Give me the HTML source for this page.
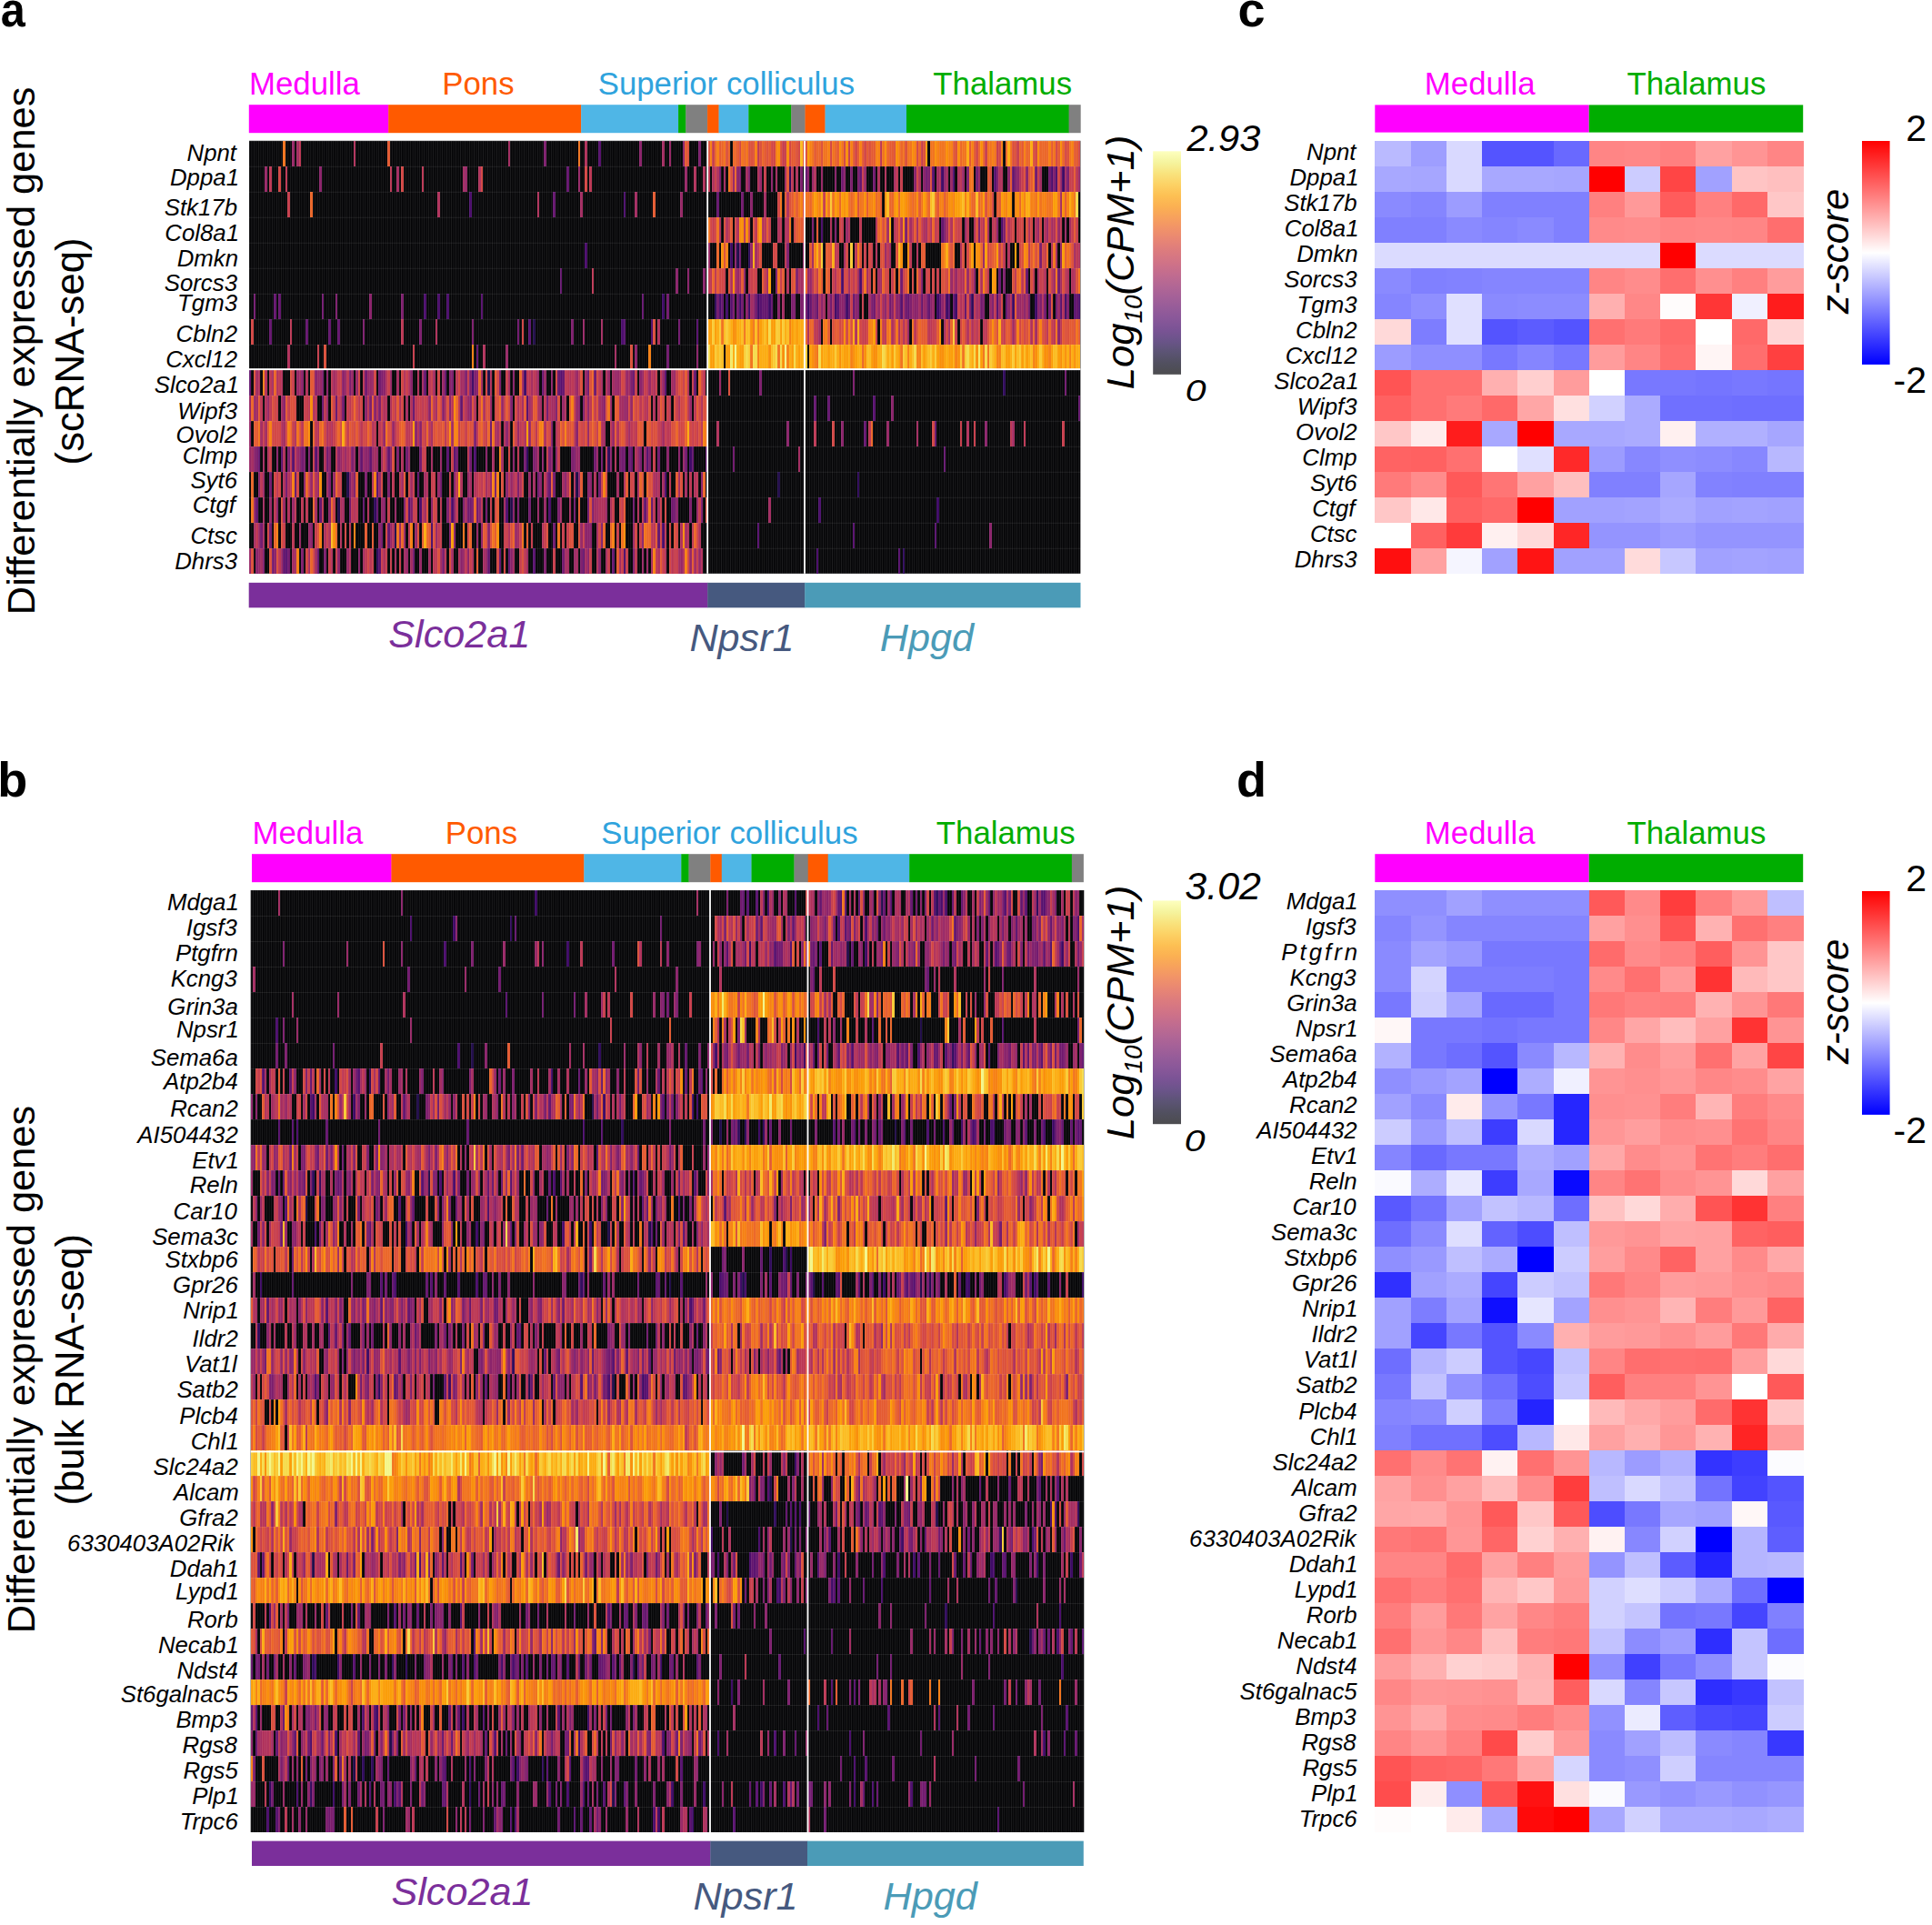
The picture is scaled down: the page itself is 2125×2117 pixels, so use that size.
<!DOCTYPE html>
<html lang="en"><head><meta charset="utf-8"><title>Differentially expressed genes heatmaps</title>
<style>html,body{margin:0;padding:0;background:#fff}svg{display:block}text{font-family:'Liberation Sans', Arial, Helvetica, sans-serif}</style></head><body>
<svg width="2125" height="2117" viewBox="0 0 2125 2117">
<defs>
<linearGradient id="ginf" x1="0" y1="0" x2="0" y2="1"><stop offset="0.00" stop-color="#fcffa4"/><stop offset="0.05" stop-color="#f1ef75"/><stop offset="0.10" stop-color="#f6d746"/><stop offset="0.15" stop-color="#fbbe23"/><stop offset="0.20" stop-color="#fca50a"/><stop offset="0.25" stop-color="#f98e09"/><stop offset="0.30" stop-color="#f37819"/><stop offset="0.35" stop-color="#ea632a"/><stop offset="0.40" stop-color="#dd513a"/><stop offset="0.45" stop-color="#cc4248"/><stop offset="0.50" stop-color="#bc3754"/><stop offset="0.55" stop-color="#a82e5f"/><stop offset="0.60" stop-color="#932667"/><stop offset="0.65" stop-color="#7f1e6c"/><stop offset="0.70" stop-color="#6a176e"/><stop offset="0.75" stop-color="#57106e"/><stop offset="0.80" stop-color="#420a68"/><stop offset="0.85" stop-color="#2b0b57"/><stop offset="0.90" stop-color="#160b39"/><stop offset="0.95" stop-color="#07051b"/><stop offset="1.00" stop-color="#000004"/></linearGradient>
<linearGradient id="gbwr" x1="0" y1="0" x2="0" y2="1"><stop offset="0" stop-color="#ff0000"/><stop offset="0.5" stop-color="#ffffff"/><stop offset="1" stop-color="#0000ff"/></linearGradient>
</defs>
<rect width="2125" height="2117" fill="#fff"/>
<text transform="translate(0.8,29) scale(0.9,1)" font-size="54" font-weight="bold">a</text>
<text x="-2.7" y="876" font-size="54" fill="#000" text-anchor="start" font-style="normal" font-weight="bold">b</text>
<text x="1361.4" y="29" font-size="54" fill="#000" text-anchor="start" font-style="normal" font-weight="bold">c</text>
<text x="1360.1" y="876" font-size="54" fill="#000" text-anchor="start" font-style="normal" font-weight="bold">d</text>
<text transform="translate(37.8,385.9) rotate(-90)" font-size="43.4" fill="#000" text-anchor="middle" font-style="normal">Differentially expressed genes</text>
<text transform="translate(91.8,386.4) rotate(-90)" font-size="43.7" fill="#000" text-anchor="middle" font-style="normal">(scRNA-seq)</text>
<rect x="273.80" y="115.2" width="153.73" height="31" fill="#ff00ff"/>
<rect x="427.23" y="115.2" width="212.21" height="31" fill="#ff5a00"/>
<rect x="639.14" y="115.2" width="107.25" height="31" fill="#4fb6e6"/>
<rect x="746.09" y="115.2" width="8.55" height="31" fill="#00ad00"/>
<rect x="754.34" y="115.2" width="24.04" height="31" fill="#808080"/>
<rect x="778.08" y="115.2" width="12.79" height="31" fill="#ff5a00"/>
<rect x="790.57" y="115.2" width="33.04" height="31" fill="#4fb6e6"/>
<rect x="823.31" y="115.2" width="47.28" height="31" fill="#00ad00"/>
<rect x="870.29" y="115.2" width="15.54" height="31" fill="#808080"/>
<rect x="885.53" y="115.2" width="22.29" height="31" fill="#ff5a00"/>
<rect x="907.52" y="115.2" width="89.76" height="31" fill="#4fb6e6"/>
<rect x="996.98" y="115.2" width="178.97" height="31" fill="#00ad00"/>
<rect x="1175.66" y="115.2" width="13.04" height="31" fill="#808080"/>
<text x="274" y="103.8" font-size="34.8" fill="#ff00ff" text-anchor="start" font-style="normal" font-weight="normal">Medulla</text>
<text x="486.3" y="103.8" font-size="34.8" fill="#ff5a00" text-anchor="start" font-style="normal" font-weight="normal">Pons</text>
<text x="657.7" y="103.8" font-size="34.8" fill="#2fa3dd" text-anchor="start" font-style="normal" font-weight="normal">Superior colliculus</text>
<text x="1026.3" y="103.8" font-size="34.8" fill="#00ad00" text-anchor="start" font-style="normal" font-weight="normal">Thalamus</text>
<g id="ha">
<rect x="274.0" y="154.8" width="914.40" height="476.00" fill="#060608"/>
<g transform="translate(274.0,154.8) scale(2.49604,28.0)" shape-rendering="crispEdges">
<path fill="#210c4a" d="M125 7h1v1h-1zM105 9h1v1h-1zM43 13h1v1h-1zM144 13h1v1h-1zM39 14h1v1h-1zM115 14h1v1h-1zM64 15h1v1h-1z"/>
<path fill="#2f0a5b" d="M122 12h1v1h-1zM158 12h1v1h-1zM55 14h1v1h-1zM56 16h1v1h-1z"/>
<path fill="#3d0965" d="M182 6h1v1h-1zM98 9h1v1h-1zM121 9h1v1h-1zM194 12h1v1h-1z"/>
<path fill="#4a0c6b" d="M97 2h1v1h-1zM165 2h1v1h-1zM148 4h1v1h-1zM77 6h1v1h-1zM83 6h1v1h-1zM87 6h1v1h-1zM164 7h1v1h-1zM177 7h1v1h-1zM99 12h1v1h-1zM183 13h1v1h-1zM75 14h1v1h-1zM89 14h1v1h-1zM113 14h1v1h-1zM132 14h1v1h-1zM80 15h1v1h-1zM182 15h1v1h-1zM165 16h1v1h-1z"/>
<path fill="#57106e" d="M154 0h1v1h-1zM102 6h1v1h-1zM123 7h1v1h-1zM165 7h1v1h-1zM197 7h1v1h-1zM137 9h1v1h-1zM183 9h1v1h-1zM122 10h1v1h-1zM14 12h1v1h-1zM19 12h1v1h-1zM29 12h1v1h-1zM87 12h1v1h-1zM90 12h1v1h-1zM175 12h1v1h-1zM56 13h1v1h-1zM70 14h1v1h-1zM16 16h1v1h-1zM57 16h1v1h-1zM125 16h1v1h-1z"/>
<path fill="#64156e" d="M140 1h1v1h-1zM134 2h1v1h-1zM137 5h1v1h-1zM11 6h1v1h-1zM13 6h1v1h-1zM173 6h1v1h-1zM9 7h1v1h-1zM25 7h1v1h-1zM35 7h1v1h-1zM39 7h1v1h-1zM100 8h1v1h-1zM0 9h1v1h-1zM77 9h1v1h-1zM86 9h1v1h-1zM129 9h1v1h-1zM136 9h1v1h-1zM138 9h1v1h-1zM169 9h1v1h-1zM196 9h1v1h-1zM32 10h1v1h-1zM38 10h1v1h-1zM72 10h1v1h-1zM93 10h1v1h-1zM4 12h1v1h-1zM49 12h1v1h-1zM53 12h1v1h-1zM61 12h1v1h-1zM168 12h1v1h-1zM195 12h1v1h-1zM201 12h1v1h-1zM20 13h1v1h-1zM74 13h1v1h-1zM132 13h1v1h-1zM3 14h1v1h-1zM31 14h1v1h-1zM50 14h1v1h-1zM56 14h1v1h-1zM174 14h1v1h-1zM177 14h1v1h-1zM61 15h1v1h-1zM180 15h1v1h-1zM15 16h1v1h-1zM30 16h1v1h-1zM105 16h1v1h-1zM110 16h1v1h-1zM114 16h1v1h-1zM147 16h1v1h-1zM160 16h1v1h-1z"/>
<path fill="#71196e" d="M2 6h1v1h-1zM32 6h1v1h-1zM184 6h1v1h-1zM118 7h1v1h-1zM189 7h1v1h-1zM184 8h1v1h-1zM51 9h1v1h-1zM57 9h1v1h-1zM149 9h1v1h-1zM152 9h1v1h-1zM41 10h1v1h-1zM131 10h1v1h-1zM106 11h1v1h-1zM23 12h1v1h-1zM34 12h1v1h-1zM69 12h1v1h-1zM75 12h1v1h-1zM91 12h1v1h-1zM97 12h1v1h-1zM121 12h1v1h-1zM152 12h1v1h-1zM155 12h1v1h-1zM164 12h2v1h-2zM167 12h1v1h-1zM180 12h1v1h-1zM192 12h1v1h-1zM9 13h1v1h-1zM16 13h1v1h-1zM84 13h1v1h-1zM127 13h1v1h-1zM134 13h1v1h-1zM154 13h1v1h-1zM44 14h1v1h-1zM96 14h2v1h-2zM100 14h1v1h-1zM104 14h1v1h-1zM123 14h1v1h-1zM143 14h1v1h-1zM149 14h1v1h-1zM169 14h1v1h-1zM186 14h2v1h-2zM5 15h1v1h-1zM9 15h1v1h-1zM58 15h1v1h-1zM134 15h1v1h-1zM10 16h1v1h-1zM17 16h1v1h-1zM72 16h1v1h-1zM138 16h1v1h-1z"/>
<path fill="#7d1e6d" d="M130 0h1v1h-1zM198 0h1v1h-1zM38 6h1v1h-1zM67 6h1v1h-1zM50 7h1v1h-1zM75 7h1v1h-1zM98 7h1v1h-1zM142 7h1v1h-1zM32 9h1v1h-1zM44 9h1v1h-1zM58 9h1v1h-1zM89 9h1v1h-1zM95 9h1v1h-1zM97 9h1v1h-1zM99 9h1v1h-1zM110 9h1v1h-1zM168 9h1v1h-1zM53 10h1v1h-1zM57 10h1v1h-1zM115 10h1v1h-1zM135 10h1v1h-1zM147 10h1v1h-1zM99 11h1v1h-1zM133 11h1v1h-1zM3 12h1v1h-1zM17 12h1v1h-1zM24 12h1v1h-1zM26 12h1v1h-1zM45 12h1v1h-1zM65 12h1v1h-1zM125 12h1v1h-1zM132 12h1v1h-1zM142 12h2v1h-2zM163 12h1v1h-1zM172 12h1v1h-1zM176 12h1v1h-1zM35 13h1v1h-1zM44 13h1v1h-1zM46 13h1v1h-1zM51 13h1v1h-1zM61 13h1v1h-1zM108 13h1v1h-1zM118 13h1v1h-1zM68 14h1v1h-1zM71 14h1v1h-1zM87 14h1v1h-1zM94 14h1v1h-1zM98 14h1v1h-1zM118 14h1v1h-1zM136 14h1v1h-1zM151 14h1v1h-1zM194 14h1v1h-1zM199 14h1v1h-1zM88 15h1v1h-1zM155 15h1v1h-1zM6 16h1v1h-1zM23 16h1v1h-1zM33 16h1v1h-1zM85 16h1v1h-1zM130 16h1v1h-1zM146 16h1v1h-1zM169 16h1v1h-1z"/>
<path fill="#8a226a" d="M172 0h1v1h-1zM191 0h1v1h-1zM31 1h1v1h-1zM188 5h1v1h-1zM193 5h1v1h-1zM200 5h1v1h-1zM53 6h1v1h-1zM170 8h1v1h-1zM197 8h1v1h-1zM23 9h1v1h-1zM29 9h1v1h-1zM34 9h1v1h-1zM41 9h1v1h-1zM59 9h1v1h-1zM71 9h1v1h-1zM88 9h1v1h-1zM100 9h1v1h-1zM116 9h1v1h-1zM133 9h1v1h-1zM172 9h1v1h-1zM15 10h1v1h-1zM51 10h1v1h-1zM55 10h1v1h-1zM79 10h1v1h-1zM85 10h1v1h-1zM88 10h1v1h-1zM97 10h1v1h-1zM145 10h1v1h-1zM149 10h1v1h-1zM156 10h1v1h-1zM73 11h1v1h-1zM75 11h1v1h-1zM113 11h1v1h-1zM144 11h1v1h-1zM2 12h1v1h-1zM12 12h1v1h-1zM22 12h1v1h-1zM35 12h1v1h-1zM39 12h1v1h-1zM51 12h2v1h-2zM62 12h1v1h-1zM104 12h1v1h-1zM116 12h1v1h-1zM126 12h1v1h-1zM129 12h1v1h-1zM133 12h1v1h-1zM135 12h1v1h-1zM159 12h1v1h-1zM184 12h1v1h-1zM189 12h1v1h-1zM4 13h1v1h-1zM24 13h1v1h-1zM90 13h1v1h-1zM113 13h1v1h-1zM128 13h1v1h-1zM131 13h1v1h-1zM139 13h1v1h-1zM145 13h1v1h-1zM149 13h2v1h-2zM199 13h1v1h-1zM12 14h1v1h-1zM35 14h1v1h-1zM59 14h1v1h-1zM80 14h1v1h-1zM90 14h1v1h-1zM101 14h1v1h-1zM116 14h1v1h-1zM188 14h1v1h-1zM27 15h1v1h-1zM57 15h1v1h-1zM90 15h1v1h-1zM102 15h1v1h-1zM105 15h1v1h-1zM148 15h3v1h-3zM173 15h1v1h-1zM3 16h1v1h-1zM11 16h1v1h-1zM39 16h1v1h-1zM48 16h1v1h-1zM93 16h1v1h-1zM96 16h1v1h-1zM115 16h1v1h-1zM149 16h1v1h-1zM154 16h1v1h-1z"/>
<path fill="#972766" d="M19 0h1v1h-1zM185 0h1v1h-1zM7 1h1v1h-1zM95 1h1v1h-1zM145 1h1v1h-1zM192 1h1v1h-1zM190 2h1v1h-1zM147 7h1v1h-1zM113 8h1v1h-1zM21 9h1v1h-1zM30 9h2v1h-2zM42 9h1v1h-1zM45 9h1v1h-1zM47 9h1v1h-1zM52 9h3v1h-3zM62 9h1v1h-1zM85 9h1v1h-1zM127 9h1v1h-1zM130 9h1v1h-1zM144 9h1v1h-1zM148 9h1v1h-1zM158 9h1v1h-1zM161 9h2v1h-2zM166 9h1v1h-1zM173 9h1v1h-1zM176 9h1v1h-1zM182 9h1v1h-1zM187 9h1v1h-1zM0 10h1v1h-1zM2 10h1v1h-1zM8 10h1v1h-1zM34 10h1v1h-1zM96 10h1v1h-1zM106 10h1v1h-1zM111 10h1v1h-1zM138 10h1v1h-1zM144 10h1v1h-1zM155 10h1v1h-1zM159 10h1v1h-1zM165 10h2v1h-2zM168 10h1v1h-1zM194 10h1v1h-1zM0 11h1v1h-1zM59 11h1v1h-1zM63 11h1v1h-1zM118 11h1v1h-1zM123 11h1v1h-1zM149 11h1v1h-1zM160 11h1v1h-1zM0 12h1v1h-1zM21 12h1v1h-1zM30 12h1v1h-1zM40 12h1v1h-1zM42 12h1v1h-1zM46 12h1v1h-1zM48 12h1v1h-1zM50 12h1v1h-1zM54 12h1v1h-1zM56 12h1v1h-1zM70 12h1v1h-1zM84 12h1v1h-1zM144 12h2v1h-2zM153 12h1v1h-1zM171 12h1v1h-1zM174 12h1v1h-1zM191 12h1v1h-1zM6 13h1v1h-1zM27 13h1v1h-1zM30 13h1v1h-1zM37 13h1v1h-1zM57 13h1v1h-1zM83 13h1v1h-1zM96 13h1v1h-1zM106 13h1v1h-1zM115 13h1v1h-1zM123 13h1v1h-1zM2 14h1v1h-1zM9 14h1v1h-1zM15 14h1v1h-1zM19 14h1v1h-1zM58 14h1v1h-1zM64 14h1v1h-1zM127 14h1v1h-1zM130 14h1v1h-1zM157 14h1v1h-1zM180 14h1v1h-1zM197 14h1v1h-1zM4 15h1v1h-1zM22 15h1v1h-1zM26 15h1v1h-1zM62 15h1v1h-1zM66 15h1v1h-1zM68 15h1v1h-1zM73 15h1v1h-1zM82 15h1v1h-1zM100 15h1v1h-1zM117 15h1v1h-1zM146 15h1v1h-1zM169 15h1v1h-1zM0 16h1v1h-1zM4 16h1v1h-1zM14 16h1v1h-1zM43 16h1v1h-1zM69 16h1v1h-1zM75 16h1v1h-1zM94 16h1v1h-1zM104 16h1v1h-1zM143 16h1v1h-1zM173 16h1v1h-1zM175 16h1v1h-1zM190 16h1v1h-1zM194 16h1v1h-1zM198 16h1v1h-1z"/>
<path fill="#a32c61" d="M21 0h1v1h-1zM114 0h1v1h-1zM182 0h1v1h-1zM65 1h1v1h-1zM94 1h1v1h-1zM146 2h1v1h-1zM170 2h1v1h-1zM155 7h1v1h-1zM161 8h1v1h-1zM3 9h1v1h-1zM10 9h1v1h-1zM22 9h1v1h-1zM37 9h1v1h-1zM65 9h1v1h-1zM76 9h1v1h-1zM81 9h1v1h-1zM93 9h2v1h-2zM102 9h1v1h-1zM114 9h1v1h-1zM120 9h1v1h-1zM124 9h1v1h-1zM155 9h1v1h-1zM160 9h1v1h-1zM163 9h1v1h-1zM167 9h1v1h-1zM186 9h1v1h-1zM3 10h1v1h-1zM14 10h1v1h-1zM69 10h1v1h-1zM82 10h1v1h-1zM120 10h1v1h-1zM123 10h1v1h-1zM128 10h1v1h-1zM133 10h2v1h-2zM154 10h1v1h-1zM163 10h2v1h-2zM5 11h1v1h-1zM7 11h1v1h-1zM15 11h1v1h-1zM80 11h1v1h-1zM89 11h1v1h-1zM109 11h1v1h-1zM156 11h1v1h-1zM167 11h1v1h-1zM182 11h1v1h-1zM1 12h1v1h-1zM6 12h1v1h-1zM55 12h1v1h-1zM58 12h1v1h-1zM60 12h1v1h-1zM80 12h1v1h-1zM107 12h1v1h-1zM111 12h1v1h-1zM127 12h1v1h-1zM34 13h1v1h-1zM45 13h1v1h-1zM67 13h1v1h-1zM71 13h1v1h-1zM77 13h1v1h-1zM97 13h1v1h-1zM104 13h1v1h-1zM125 13h1v1h-1zM138 13h1v1h-1zM162 13h1v1h-1zM171 13h1v1h-1zM179 13h1v1h-1zM182 13h1v1h-1zM189 13h1v1h-1zM192 13h1v1h-1zM6 14h1v1h-1zM29 14h1v1h-1zM41 14h1v1h-1zM77 14h1v1h-1zM95 14h1v1h-1zM112 14h1v1h-1zM137 14h1v1h-1zM141 14h1v1h-1zM152 14h2v1h-2zM175 14h1v1h-1zM2 15h1v1h-1zM6 15h1v1h-1zM118 15h1v1h-1zM153 15h1v1h-1zM192 15h1v1h-1zM5 16h1v1h-1zM19 16h2v1h-2zM26 16h1v1h-1zM29 16h1v1h-1zM50 16h1v1h-1zM64 16h1v1h-1zM68 16h1v1h-1zM71 16h1v1h-1zM79 16h1v1h-1zM84 16h1v1h-1zM89 16h1v1h-1zM103 16h1v1h-1zM116 16h1v1h-1zM122 16h1v1h-1zM139 16h2v1h-2zM144 16h1v1h-1zM148 16h1v1h-1zM157 16h1v1h-1zM163 16h1v1h-1zM177 16h1v1h-1zM189 16h1v1h-1zM196 16h1v1h-1z"/>
<path fill="#b0315b" d="M46 0h1v1h-1zM148 0h1v1h-1zM101 1h1v1h-1zM196 1h1v1h-1zM200 1h1v1h-1zM83 2h1v1h-1zM127 2h1v1h-1zM82 7h1v1h-1zM180 7h1v1h-1zM17 8h1v1h-1zM103 8h1v1h-1zM4 9h1v1h-1zM7 9h1v1h-1zM12 9h1v1h-1zM14 9h1v1h-1zM25 9h1v1h-1zM38 9h1v1h-1zM60 9h1v1h-1zM68 9h1v1h-1zM70 9h1v1h-1zM74 9h1v1h-1zM106 9h1v1h-1zM126 9h1v1h-1zM141 9h1v1h-1zM143 9h1v1h-1zM157 9h1v1h-1zM178 9h1v1h-1zM193 9h1v1h-1zM7 10h1v1h-1zM28 10h1v1h-1zM40 10h1v1h-1zM56 10h1v1h-1zM59 10h2v1h-2zM62 10h1v1h-1zM66 10h1v1h-1zM71 10h1v1h-1zM86 10h1v1h-1zM95 10h1v1h-1zM99 10h1v1h-1zM103 10h1v1h-1zM118 10h1v1h-1zM124 10h1v1h-1zM127 10h1v1h-1zM132 10h1v1h-1zM139 10h1v1h-1zM175 10h1v1h-1zM178 10h1v1h-1zM189 10h1v1h-1zM199 10h1v1h-1zM14 11h1v1h-1zM20 11h1v1h-1zM30 11h1v1h-1zM34 11h1v1h-1zM36 11h1v1h-1zM54 11h1v1h-1zM74 11h1v1h-1zM108 11h1v1h-1zM112 11h1v1h-1zM121 11h1v1h-1zM130 11h1v1h-1zM135 11h1v1h-1zM155 11h1v1h-1zM162 11h1v1h-1zM8 12h1v1h-1zM15 12h1v1h-1zM33 12h1v1h-1zM41 12h1v1h-1zM43 12h1v1h-1zM67 12h1v1h-1zM161 12h1v1h-1zM170 12h1v1h-1zM15 13h1v1h-1zM17 13h1v1h-1zM29 13h1v1h-1zM54 13h1v1h-1zM78 13h1v1h-1zM93 13h1v1h-1zM99 13h1v1h-1zM116 13h1v1h-1zM119 13h1v1h-1zM140 13h1v1h-1zM143 13h1v1h-1zM152 13h1v1h-1zM165 13h1v1h-1zM178 13h1v1h-1zM180 13h1v1h-1zM196 13h1v1h-1zM17 14h1v1h-1zM40 14h1v1h-1zM46 14h1v1h-1zM52 14h1v1h-1zM154 14h3v1h-3zM159 14h1v1h-1zM171 14h1v1h-1zM33 15h1v1h-1zM35 15h1v1h-1zM40 15h1v1h-1zM63 15h1v1h-1zM114 15h1v1h-1zM129 15h1v1h-1zM190 15h1v1h-1zM193 15h1v1h-1zM198 15h1v1h-1zM36 16h1v1h-1zM44 16h1v1h-1zM59 16h1v1h-1zM92 16h1v1h-1zM98 16h1v1h-1zM153 16h1v1h-1zM180 16h1v1h-1zM183 16h1v1h-1zM191 16h1v1h-1zM199 16h1v1h-1z"/>
<path fill="#bc3754" d="M22 0h1v1h-1zM9 1h1v1h-1zM16 1h1v1h-1zM62 1h1v1h-1zM76 1h1v1h-1zM150 1h1v1h-1zM151 5h1v1h-1zM18 7h1v1h-1zM67 7h1v1h-1zM9 9h1v1h-1zM13 9h1v1h-1zM36 9h1v1h-1zM43 9h1v1h-1zM50 9h1v1h-1zM79 9h1v1h-1zM91 9h1v1h-1zM122 9h2v1h-2zM125 9h1v1h-1zM139 9h2v1h-2zM142 9h1v1h-1zM145 9h1v1h-1zM154 9h1v1h-1zM175 9h1v1h-1zM177 9h1v1h-1zM181 9h1v1h-1zM200 9h1v1h-1zM5 10h1v1h-1zM9 10h1v1h-1zM26 10h1v1h-1zM29 10h1v1h-1zM33 10h1v1h-1zM44 10h1v1h-1zM48 10h1v1h-1zM52 10h1v1h-1zM64 10h1v1h-1zM73 10h1v1h-1zM76 10h1v1h-1zM78 10h1v1h-1zM81 10h1v1h-1zM89 10h1v1h-1zM92 10h1v1h-1zM130 10h1v1h-1zM148 10h1v1h-1zM150 10h1v1h-1zM172 10h1v1h-1zM174 10h1v1h-1zM180 10h1v1h-1zM185 10h1v1h-1zM193 10h1v1h-1zM196 10h1v1h-1zM23 11h1v1h-1zM29 11h1v1h-1zM35 11h1v1h-1zM49 11h1v1h-1zM55 11h1v1h-1zM57 11h1v1h-1zM64 11h1v1h-1zM69 11h2v1h-2zM79 11h1v1h-1zM86 11h1v1h-1zM100 11h1v1h-1zM114 11h1v1h-1zM119 11h1v1h-1zM126 11h1v1h-1zM143 11h1v1h-1zM159 11h1v1h-1zM166 11h1v1h-1zM168 11h1v1h-1zM170 11h1v1h-1zM181 11h1v1h-1zM184 11h2v1h-2zM199 11h1v1h-1zM18 12h1v1h-1zM20 12h1v1h-1zM38 12h1v1h-1zM44 12h1v1h-1zM96 12h1v1h-1zM118 12h1v1h-1zM157 12h1v1h-1zM5 13h1v1h-1zM12 13h1v1h-1zM18 13h1v1h-1zM63 13h1v1h-1zM66 13h1v1h-1zM91 13h1v1h-1zM100 13h1v1h-1zM102 13h1v1h-1zM105 13h1v1h-1zM114 13h1v1h-1zM117 13h1v1h-1zM130 13h1v1h-1zM185 13h1v1h-1zM194 13h1v1h-1zM197 13h1v1h-1zM11 14h1v1h-1zM20 14h1v1h-1zM23 14h1v1h-1zM25 14h1v1h-1zM32 14h1v1h-1zM45 14h1v1h-1zM47 14h1v1h-1zM76 14h1v1h-1zM84 14h1v1h-1zM88 14h1v1h-1zM91 14h1v1h-1zM102 14h1v1h-1zM173 14h1v1h-1zM178 14h1v1h-1zM3 15h1v1h-1zM19 15h1v1h-1zM44 15h1v1h-1zM70 15h1v1h-1zM83 15h1v1h-1zM177 15h2v1h-2zM183 15h1v1h-1zM195 15h1v1h-1zM13 16h1v1h-1zM51 16h1v1h-1zM53 16h1v1h-1zM81 16h2v1h-2zM86 16h1v1h-1zM95 16h1v1h-1zM121 16h1v1h-1zM170 16h1v1h-1zM179 16h1v1h-1zM186 16h1v1h-1z"/>
<path fill="#c73e4c" d="M17 2h1v1h-1zM30 8h1v1h-1zM72 8h1v1h-1zM19 9h1v1h-1zM39 9h2v1h-2zM61 9h1v1h-1zM69 9h1v1h-1zM80 9h1v1h-1zM96 9h1v1h-1zM113 9h1v1h-1zM165 9h1v1h-1zM170 9h1v1h-1zM174 9h1v1h-1zM179 9h1v1h-1zM188 9h1v1h-1zM191 9h1v1h-1zM195 9h1v1h-1zM12 10h1v1h-1zM17 10h1v1h-1zM24 10h2v1h-2zM37 10h1v1h-1zM39 10h1v1h-1zM43 10h1v1h-1zM58 10h1v1h-1zM74 10h2v1h-2zM77 10h1v1h-1zM94 10h1v1h-1zM112 10h1v1h-1zM119 10h1v1h-1zM143 10h1v1h-1zM152 10h1v1h-1zM184 10h1v1h-1zM188 10h1v1h-1zM6 11h1v1h-1zM19 11h1v1h-1zM37 11h1v1h-1zM43 11h1v1h-1zM58 11h1v1h-1zM71 11h1v1h-1zM77 11h1v1h-1zM92 11h1v1h-1zM95 11h1v1h-1zM104 11h1v1h-1zM110 11h1v1h-1zM117 11h1v1h-1zM120 11h1v1h-1zM136 11h1v1h-1zM147 11h1v1h-1zM153 11h1v1h-1zM169 11h1v1h-1zM180 11h1v1h-1zM183 11h1v1h-1zM195 11h1v1h-1zM197 11h1v1h-1zM9 12h1v1h-1zM28 12h1v1h-1zM59 12h1v1h-1zM76 12h2v1h-2zM89 12h1v1h-1zM131 12h1v1h-1zM136 12h1v1h-1zM178 12h1v1h-1zM26 13h1v1h-1zM40 13h1v1h-1zM72 13h1v1h-1zM80 13h2v1h-2zM88 13h1v1h-1zM101 13h1v1h-1zM155 13h1v1h-1zM169 13h1v1h-1zM37 14h1v1h-1zM61 14h1v1h-1zM72 14h2v1h-2zM82 14h1v1h-1zM106 14h1v1h-1zM160 14h1v1h-1zM164 14h1v1h-1zM181 14h1v1h-1zM198 14h1v1h-1zM15 15h1v1h-1zM29 15h1v1h-1zM34 15h1v1h-1zM84 15h1v1h-1zM112 15h2v1h-2zM119 15h1v1h-1zM124 15h1v1h-1zM130 15h1v1h-1zM138 15h1v1h-1zM140 15h1v1h-1zM147 15h1v1h-1zM162 15h1v1h-1zM172 15h1v1h-1zM35 16h1v1h-1zM38 16h1v1h-1zM54 16h1v1h-1zM58 16h1v1h-1zM60 16h1v1h-1zM62 16h1v1h-1zM66 16h1v1h-1zM97 16h1v1h-1zM119 16h1v1h-1zM134 16h1v1h-1zM150 16h1v1h-1zM158 16h1v1h-1zM164 16h1v1h-1zM166 16h1v1h-1zM182 16h1v1h-1zM187 16h2v1h-2zM197 16h1v1h-1z"/>
<path fill="#d24644" d="M13 1h1v1h-1zM67 1h1v1h-1zM102 1h1v1h-1zM148 1h1v1h-1zM1 7h1v1h-1zM120 7h1v1h-1zM48 9h1v1h-1zM55 9h1v1h-1zM67 9h1v1h-1zM83 9h1v1h-1zM92 9h1v1h-1zM104 9h1v1h-1zM109 9h1v1h-1zM135 9h1v1h-1zM153 9h1v1h-1zM164 9h1v1h-1zM199 9h1v1h-1zM11 10h1v1h-1zM20 10h1v1h-1zM45 10h1v1h-1zM47 10h1v1h-1zM49 10h1v1h-1zM63 10h1v1h-1zM67 10h1v1h-1zM84 10h1v1h-1zM101 10h1v1h-1zM108 10h1v1h-1zM114 10h1v1h-1zM117 10h1v1h-1zM167 10h1v1h-1zM170 10h1v1h-1zM173 10h1v1h-1zM182 10h1v1h-1zM190 10h2v1h-2zM198 10h1v1h-1zM10 11h4v1h-4zM16 11h1v1h-1zM33 11h1v1h-1zM40 11h1v1h-1zM46 11h1v1h-1zM48 11h1v1h-1zM50 11h2v1h-2zM62 11h1v1h-1zM65 11h1v1h-1zM76 11h1v1h-1zM103 11h1v1h-1zM132 11h1v1h-1zM146 11h1v1h-1zM177 11h1v1h-1zM189 11h3v1h-3zM194 11h1v1h-1zM196 11h1v1h-1zM114 12h1v1h-1zM11 13h1v1h-1zM13 13h1v1h-1zM21 13h1v1h-1zM39 13h1v1h-1zM58 13h1v1h-1zM70 13h1v1h-1zM103 13h1v1h-1zM120 13h1v1h-1zM157 13h1v1h-1zM168 13h1v1h-1zM69 14h1v1h-1zM81 14h1v1h-1zM108 14h1v1h-1zM163 14h1v1h-1zM183 14h1v1h-1zM8 15h1v1h-1zM42 15h1v1h-1zM60 15h1v1h-1zM96 15h1v1h-1zM154 15h1v1h-1zM170 15h1v1h-1zM181 15h1v1h-1zM185 15h1v1h-1zM188 15h1v1h-1zM197 15h1v1h-1zM25 16h1v1h-1zM28 16h1v1h-1zM52 16h1v1h-1zM109 16h1v1h-1zM112 16h1v1h-1zM185 16h1v1h-1zM193 16h1v1h-1z"/>
<path fill="#db503b" d="M193 0h1v1h-1zM178 7h1v1h-1zM33 8h1v1h-1zM168 8h1v1h-1zM2 9h1v1h-1zM18 9h1v1h-1zM28 9h1v1h-1zM146 9h1v1h-1zM150 9h1v1h-1zM189 9h2v1h-2zM10 10h1v1h-1zM18 10h2v1h-2zM87 10h1v1h-1zM98 10h1v1h-1zM104 10h2v1h-2zM109 10h1v1h-1zM136 10h1v1h-1zM153 10h1v1h-1zM157 10h1v1h-1zM171 10h1v1h-1zM176 10h1v1h-1zM187 10h1v1h-1zM200 10h2v1h-2zM22 11h1v1h-1zM38 11h1v1h-1zM45 11h1v1h-1zM53 11h1v1h-1zM61 11h1v1h-1zM81 11h1v1h-1zM83 11h2v1h-2zM87 11h1v1h-1zM93 11h2v1h-2zM97 11h2v1h-2zM125 11h1v1h-1zM131 11h1v1h-1zM138 11h1v1h-1zM140 11h2v1h-2zM145 11h1v1h-1zM148 11h1v1h-1zM150 11h1v1h-1zM152 11h1v1h-1zM163 11h1v1h-1zM165 11h1v1h-1zM173 11h1v1h-1zM178 11h2v1h-2zM186 11h2v1h-2zM198 11h1v1h-1zM63 12h1v1h-1zM111 13h1v1h-1zM173 13h1v1h-1zM176 13h2v1h-2zM190 13h1v1h-1zM14 14h1v1h-1zM78 14h1v1h-1zM150 14h1v1h-1zM201 14h1v1h-1zM14 15h1v1h-1zM30 15h1v1h-1zM74 15h1v1h-1zM81 15h1v1h-1zM104 15h1v1h-1zM106 15h1v1h-1zM115 15h1v1h-1zM131 15h1v1h-1zM141 15h2v1h-2zM145 15h1v1h-1zM187 15h1v1h-1zM1 16h1v1h-1zM9 16h1v1h-1zM12 16h1v1h-1zM83 16h1v1h-1zM88 16h1v1h-1zM120 16h1v1h-1z"/>
<path fill="#e45a31" d="M61 0h1v1h-1zM192 0h1v1h-1zM178 2h1v1h-1zM27 9h1v1h-1zM108 9h1v1h-1zM192 9h1v1h-1zM4 10h1v1h-1zM16 10h1v1h-1zM36 10h1v1h-1zM54 10h1v1h-1zM65 10h1v1h-1zM83 10h1v1h-1zM113 10h1v1h-1zM121 10h1v1h-1zM125 10h2v1h-2zM141 10h1v1h-1zM161 10h2v1h-2zM169 10h1v1h-1zM181 10h1v1h-1zM192 10h1v1h-1zM197 10h1v1h-1zM2 11h2v1h-2zM8 11h1v1h-1zM42 11h1v1h-1zM44 11h1v1h-1zM47 11h1v1h-1zM66 11h1v1h-1zM68 11h1v1h-1zM82 11h1v1h-1zM85 11h1v1h-1zM96 11h1v1h-1zM101 11h1v1h-1zM116 11h1v1h-1zM124 11h1v1h-1zM127 11h1v1h-1zM142 11h1v1h-1zM161 11h1v1h-1zM164 11h1v1h-1zM171 11h2v1h-2zM175 11h2v1h-2zM28 13h1v1h-1zM47 13h1v1h-1zM68 13h1v1h-1zM133 13h1v1h-1zM141 13h1v1h-1zM146 13h1v1h-1zM166 13h1v1h-1zM188 13h1v1h-1zM109 14h1v1h-1zM145 14h1v1h-1zM165 14h1v1h-1zM51 15h1v1h-1zM54 15h1v1h-1zM76 15h1v1h-1zM79 15h1v1h-1zM103 15h1v1h-1zM108 15h1v1h-1zM122 15h1v1h-1zM179 15h1v1h-1zM100 16h1v1h-1zM162 16h1v1h-1zM181 16h1v1h-1zM195 16h1v1h-1z"/>
<path fill="#eb6628" d="M27 2h1v1h-1zM11 9h1v1h-1zM101 9h1v1h-1zM119 9h1v1h-1zM151 9h1v1h-1zM198 9h1v1h-1zM1 10h1v1h-1zM46 10h1v1h-1zM80 10h1v1h-1zM91 10h1v1h-1zM110 10h1v1h-1zM151 10h1v1h-1zM18 11h1v1h-1zM28 11h1v1h-1zM31 11h1v1h-1zM39 11h1v1h-1zM52 11h1v1h-1zM67 11h1v1h-1zM78 11h1v1h-1zM102 11h1v1h-1zM105 11h1v1h-1zM137 11h1v1h-1zM151 11h1v1h-1zM188 11h1v1h-1zM192 11h1v1h-1zM1 13h1v1h-1zM25 13h1v1h-1zM38 13h1v1h-1zM172 13h1v1h-1zM175 13h1v1h-1zM200 13h1v1h-1zM28 14h1v1h-1zM36 14h1v1h-1zM99 14h1v1h-1zM11 15h1v1h-1zM38 15h1v1h-1zM67 15h1v1h-1zM78 15h1v1h-1zM97 15h1v1h-1zM116 15h1v1h-1zM156 15h1v1h-1zM159 15h1v1h-1zM175 15h2v1h-2zM196 15h1v1h-1zM27 16h1v1h-1z"/>
<path fill="#f1731d" d="M15 0h1v1h-1zM145 0h1v1h-1zM102 10h1v1h-1zM158 10h1v1h-1zM4 11h1v1h-1zM21 11h1v1h-1zM24 11h2v1h-2zM32 11h1v1h-1zM60 11h1v1h-1zM107 11h1v1h-1zM154 11h1v1h-1zM201 11h1v1h-1zM1 14h1v1h-1zM176 14h1v1h-1zM65 15h1v1h-1zM94 15h1v1h-1zM107 15h1v1h-1zM120 15h1v1h-1zM136 15h1v1h-1zM164 15h1v1h-1zM174 15h1v1h-1z"/>
<path fill="#f68013" d="M98 8h1v1h-1zM176 8h1v1h-1zM6 9h1v1h-1zM142 10h1v1h-1zM9 11h1v1h-1zM17 11h1v1h-1zM90 11h2v1h-2zM128 11h2v1h-2zM139 11h1v1h-1zM200 11h1v1h-1zM110 12h1v1h-1zM19 13h1v1h-1zM55 13h1v1h-1zM107 13h1v1h-1zM109 13h1v1h-1zM156 13h1v1h-1zM12 15h1v1h-1zM31 15h1v1h-1zM46 15h1v1h-1zM71 15h1v1h-1zM160 15h1v1h-1zM21 16h1v1h-1zM178 16h1v1h-1zM192 16h1v1h-1z"/>
<path fill="#f98e09" d="M27 10h1v1h-1zM90 10h1v1h-1zM26 11h1v1h-1zM88 11h1v1h-1zM31 13h1v1h-1zM37 15h1v1h-1zM109 15h1v1h-1zM165 15h1v1h-1zM191 15h1v1h-1z"/>
<path fill="#fb9d07" d="M72 11h1v1h-1zM122 11h1v1h-1zM89 15h1v1h-1z"/>
<path fill="#fcac11" d="M41 11h1v1h-1zM193 11h1v1h-1zM92 13h1v1h-1zM77 15h1v1h-1z"/>
<path fill="#fbbc21" d="M36 15h1v1h-1z"/>
</g>
<g transform="translate(778.2,154.8) scale(2.48372,28.0)" shape-rendering="crispEdges">
<path fill="#210c4a" d="M13 4h1v1h-1zM31 13h1v1h-1z"/>
<path fill="#2f0a5b" d="M36 1h1v1h-1zM18 4h1v1h-1zM3 6h1v1h-1z"/>
<path fill="#3d0965" d="M10 4h1v1h-1zM8 6h1v1h-1zM14 6h1v1h-1zM18 6h1v1h-1zM22 6h1v1h-1zM27 6h1v1h-1z"/>
<path fill="#4a0c6b" d="M5 6h1v1h-1z"/>
<path fill="#57106e" d="M10 6h1v1h-1zM23 6h1v1h-1zM22 15h1v1h-1z"/>
<path fill="#64156e" d="M4 2h1v1h-1zM6 6h1v1h-1zM24 6h3v1h-3zM28 6h1v1h-1z"/>
<path fill="#71196e" d="M15 2h1v1h-1zM14 4h1v1h-1zM4 6h1v1h-1zM13 6h1v1h-1zM15 6h1v1h-1zM21 6h1v1h-1zM11 12h1v1h-1z"/>
<path fill="#7d1e6d" d="M5 1h1v1h-1zM14 1h1v1h-1zM18 1h1v1h-1zM41 1h1v1h-1zM35 4h1v1h-1zM30 5h1v1h-1zM39 5h1v1h-1zM11 6h1v1h-1zM37 6h2v1h-2zM41 6h2v1h-2zM23 9h1v1h-1z"/>
<path fill="#8a226a" d="M13 1h1v1h-1zM28 1h1v1h-1zM19 2h1v1h-1zM12 4h1v1h-1zM16 5h1v1h-1zM17 6h1v1h-1zM31 6h1v1h-1zM35 11h1v1h-1z"/>
<path fill="#972766" d="M11 1h1v1h-1zM23 1h1v1h-1zM0 4h1v1h-1zM19 4h1v1h-1zM42 4h1v1h-1zM13 5h1v1h-1zM20 6h1v1h-1zM5 9h1v1h-1z"/>
<path fill="#a32c61" d="M7 1h1v1h-1zM17 1h1v1h-1zM30 1h1v1h-1zM34 1h1v1h-1zM25 2h1v1h-1zM21 4h1v1h-1zM26 5h1v1h-1zM41 5h1v1h-1zM19 6h1v1h-1zM33 6h1v1h-1zM40 12h1v1h-1zM27 14h1v1h-1z"/>
<path fill="#b0315b" d="M2 1h1v1h-1zM4 1h1v1h-1zM22 1h1v1h-1zM39 1h1v1h-1zM35 2h1v1h-1zM5 3h1v1h-1zM8 3h1v1h-1zM13 3h1v1h-1zM24 3h1v1h-1zM31 3h1v1h-1zM34 3h2v1h-2zM10 5h1v1h-1zM12 5h1v1h-1zM14 5h1v1h-1zM35 5h1v1h-1zM40 5h1v1h-1zM42 5h1v1h-1zM4 11h1v1h-1z"/>
<path fill="#bc3754" d="M22 0h1v1h-1zM0 1h1v1h-1zM37 1h1v1h-1zM16 3h1v1h-1zM21 3h1v1h-1zM25 3h1v1h-1zM32 3h1v1h-1zM22 4h1v1h-1zM34 4h1v1h-1zM0 5h2v1h-2zM3 5h1v1h-1zM18 5h1v1h-1z"/>
<path fill="#c73e4c" d="M2 0h1v1h-1zM33 0h2v1h-2zM3 1h1v1h-1zM25 1h1v1h-1zM2 3h1v1h-1zM9 3h1v1h-1zM27 3h1v1h-1zM7 5h1v1h-1zM19 5h1v1h-1zM21 5h1v1h-1zM25 5h1v1h-1zM32 5h1v1h-1z"/>
<path fill="#d24644" d="M14 0h1v1h-1zM28 0h2v1h-2zM36 0h1v1h-1zM40 0h1v1h-1zM31 2h1v1h-1zM42 2h1v1h-1zM1 3h1v1h-1zM3 3h1v1h-1zM12 3h1v1h-1zM18 3h1v1h-1zM38 3h1v1h-1zM29 4h2v1h-2zM5 5h2v1h-2zM20 5h1v1h-1z"/>
<path fill="#db503b" d="M0 0h1v1h-1zM8 0h1v1h-1zM18 0h3v1h-3zM23 0h1v1h-1zM26 0h1v1h-1zM32 0h1v1h-1zM39 0h1v1h-1zM10 1h1v1h-1zM36 2h1v1h-1zM7 3h1v1h-1zM20 3h1v1h-1zM42 3h1v1h-1zM7 4h1v1h-1zM23 4h1v1h-1zM9 5h1v1h-1zM37 5h1v1h-1zM9 9h1v1h-1z"/>
<path fill="#e45a31" d="M5 0h1v1h-1zM13 0h1v1h-1zM25 0h1v1h-1zM27 0h1v1h-1zM37 0h2v1h-2zM42 0h1v1h-1zM35 1h1v1h-1zM34 2h1v1h-1zM37 2h1v1h-1zM39 2h1v1h-1zM10 3h1v1h-1zM26 3h1v1h-1zM39 3h1v1h-1zM41 3h1v1h-1zM4 5h1v1h-1zM15 5h1v1h-1zM24 5h1v1h-1zM33 5h1v1h-1zM38 5h1v1h-1z"/>
<path fill="#eb6628" d="M3 0h1v1h-1zM6 0h1v1h-1zM9 0h1v1h-1zM11 0h2v1h-2zM16 0h1v1h-1zM24 0h1v1h-1zM12 1h1v1h-1zM40 3h1v1h-1zM4 4h1v1h-1zM2 5h1v1h-1z"/>
<path fill="#f1731d" d="M7 0h1v1h-1zM15 0h1v1h-1zM17 0h1v1h-1zM9 1h1v1h-1zM32 2h1v1h-1zM38 2h1v1h-1zM40 2h1v1h-1zM0 3h1v1h-1zM4 3h1v1h-1zM36 3h1v1h-1zM31 5h1v1h-1zM6 7h1v1h-1zM16 7h1v1h-1zM20 7h1v1h-1zM22 7h1v1h-1zM19 8h1v1h-1zM31 8h1v1h-1z"/>
<path fill="#f68013" d="M1 0h1v1h-1zM4 0h1v1h-1zM21 0h1v1h-1zM30 0h1v1h-1zM41 2h1v1h-1zM22 3h1v1h-1zM8 4h1v1h-1zM36 7h1v1h-1zM22 8h1v1h-1zM35 8h1v1h-1z"/>
<path fill="#f98e09" d="M31 0h1v1h-1zM35 0h1v1h-1zM14 3h2v1h-2zM17 3h1v1h-1zM6 4h1v1h-1zM11 5h1v1h-1zM11 7h2v1h-2zM19 7h1v1h-1zM27 8h1v1h-1zM33 8h1v1h-1z"/>
<path fill="#fb9d07" d="M23 3h1v1h-1zM27 5h1v1h-1zM0 7h2v1h-2zM3 7h1v1h-1zM23 7h1v1h-1zM26 7h1v1h-1zM28 7h2v1h-2zM32 7h1v1h-1zM37 7h1v1h-1zM39 7h1v1h-1zM1 8h2v1h-2zM8 8h2v1h-2zM14 8h2v1h-2zM37 8h1v1h-1zM40 8h1v1h-1z"/>
<path fill="#fcac11" d="M20 4h1v1h-1zM4 7h1v1h-1zM10 7h1v1h-1zM13 7h2v1h-2zM24 7h1v1h-1zM34 7h1v1h-1zM38 7h1v1h-1zM40 7h3v1h-3zM11 8h1v1h-1zM13 8h1v1h-1zM23 8h4v1h-4zM36 8h1v1h-1zM39 8h1v1h-1zM41 8h1v1h-1z"/>
<path fill="#fbbc21" d="M41 0h1v1h-1zM7 7h1v1h-1zM9 7h1v1h-1zM15 7h1v1h-1zM17 7h2v1h-2zM21 7h1v1h-1zM25 7h1v1h-1zM35 7h1v1h-1zM4 8h1v1h-1zM6 8h1v1h-1zM28 8h1v1h-1zM42 8h1v1h-1z"/>
<path fill="#f9cb35" d="M2 7h1v1h-1zM5 7h1v1h-1zM8 7h1v1h-1zM30 7h2v1h-2zM33 7h1v1h-1zM3 8h1v1h-1zM5 8h1v1h-1zM16 8h1v1h-1zM18 8h1v1h-1zM29 8h1v1h-1z"/>
<path fill="#f5db4c" d="M27 7h1v1h-1zM0 8h1v1h-1zM17 8h1v1h-1zM20 8h2v1h-2zM30 8h1v1h-1zM32 8h1v1h-1zM38 8h1v1h-1z"/>
<path fill="#f2ea69" d="M10 8h1v1h-1z"/>
<path fill="#f3f68a" d="M12 8h1v1h-1zM34 8h1v1h-1z"/>
</g>
<g transform="translate(885.0,154.8) scale(2.50744,28.0)" shape-rendering="crispEdges">
<path fill="#2f0a5b" d="M73 6h1v1h-1zM87 9h1v1h-1zM23 13h1v1h-1zM43 16h1v1h-1z"/>
<path fill="#3d0965" d="M60 1h1v1h-1zM113 1h1v1h-1zM1 6h1v1h-1zM13 6h1v1h-1zM18 6h1v1h-1zM58 6h1v1h-1zM62 6h1v1h-1zM66 6h1v1h-1zM91 6h1v1h-1zM101 6h1v1h-1zM114 6h1v1h-1zM58 14h1v1h-1z"/>
<path fill="#4a0c6b" d="M65 1h1v1h-1zM108 1h1v1h-1zM110 1h1v1h-1zM7 3h1v1h-1zM86 3h1v1h-1zM16 5h1v1h-1zM24 5h1v1h-1zM120 6h1v1h-1zM6 14h1v1h-1zM5 16h1v1h-1z"/>
<path fill="#57106e" d="M56 1h1v1h-1zM83 1h1v1h-1zM14 6h1v1h-1zM42 6h1v1h-1zM59 6h1v1h-1zM63 6h1v1h-1zM84 6h1v1h-1zM112 6h1v1h-1zM118 6h1v1h-1zM30 10h1v1h-1zM21 15h1v1h-1zM57 15h1v1h-1zM41 16h1v1h-1z"/>
<path fill="#64156e" d="M0 1h1v1h-1zM24 1h1v1h-1zM91 1h1v1h-1zM60 3h1v1h-1zM85 5h1v1h-1zM97 5h1v1h-1zM2 6h1v1h-1zM5 6h1v1h-1zM19 6h1v1h-1zM21 6h1v1h-1zM45 6h1v1h-1zM51 6h1v1h-1zM54 6h1v1h-1zM65 6h1v1h-1zM70 6h1v1h-1zM88 6h1v1h-1zM119 6h1v1h-1zM4 10h1v1h-1zM10 10h1v1h-1zM120 10h1v1h-1zM26 11h1v1h-1zM57 11h1v1h-1zM61 12h1v1h-1z"/>
<path fill="#71196e" d="M16 1h1v1h-1zM30 1h1v1h-1zM53 1h1v1h-1zM75 1h1v1h-1zM101 1h1v1h-1zM107 1h1v1h-1zM42 5h1v1h-1zM111 5h1v1h-1zM0 6h1v1h-1zM11 6h1v1h-1zM30 6h1v1h-1zM37 6h1v1h-1zM44 6h1v1h-1zM77 6h1v1h-1zM98 6h1v1h-1zM105 6h1v1h-1zM107 6h1v1h-1zM110 6h1v1h-1zM114 9h1v1h-1z"/>
<path fill="#7d1e6d" d="M20 1h1v1h-1zM23 1h1v1h-1zM54 1h1v1h-1zM71 1h1v1h-1zM84 1h1v1h-1zM92 1h1v1h-1zM109 1h1v1h-1zM115 1h1v1h-1zM3 3h1v1h-1zM13 3h1v1h-1zM44 3h1v1h-1zM61 3h1v1h-1zM76 3h1v1h-1zM87 3h1v1h-1zM103 4h1v1h-1zM51 5h1v1h-1zM87 5h1v1h-1zM4 6h1v1h-1zM17 6h1v1h-1zM23 6h1v1h-1zM29 6h1v1h-1zM46 6h1v1h-1zM72 6h1v1h-1zM78 6h1v1h-1zM82 6h1v1h-1zM103 6h1v1h-1zM115 6h1v1h-1zM21 9h1v1h-1z"/>
<path fill="#8a226a" d="M1 1h1v1h-1zM13 1h1v1h-1zM17 1h1v1h-1zM48 1h1v1h-1zM52 1h1v1h-1zM61 1h1v1h-1zM89 1h1v1h-1zM93 1h1v1h-1zM97 1h1v1h-1zM84 3h1v1h-1zM74 5h1v1h-1zM3 6h1v1h-1zM7 6h1v1h-1zM15 6h2v1h-2zM22 6h1v1h-1zM35 6h1v1h-1zM38 6h1v1h-1zM40 6h2v1h-2zM48 6h2v1h-2zM53 6h1v1h-1zM55 6h1v1h-1zM60 6h1v1h-1zM89 6h1v1h-1zM96 6h1v1h-1zM102 6h1v1h-1zM111 7h1v1h-1zM38 10h1v1h-1zM16 11h1v1h-1zM79 11h1v1h-1zM81 15h1v1h-1z"/>
<path fill="#972766" d="M3 1h1v1h-1zM7 1h1v1h-1zM26 1h1v1h-1zM64 1h1v1h-1zM69 1h1v1h-1zM76 1h1v1h-1zM112 1h1v1h-1zM120 1h1v1h-1zM18 3h1v1h-1zM70 3h1v1h-1zM102 3h1v1h-1zM106 3h1v1h-1zM111 3h1v1h-1zM114 3h1v1h-1zM35 4h1v1h-1zM78 4h1v1h-1zM112 4h1v1h-1zM1 5h2v1h-2zM64 5h1v1h-1zM66 5h1v1h-1zM71 5h1v1h-1zM10 6h1v1h-1zM32 6h1v1h-1zM47 6h1v1h-1zM52 6h1v1h-1zM56 6h1v1h-1zM81 6h1v1h-1zM85 6h1v1h-1zM93 6h2v1h-2zM111 6h1v1h-1zM45 7h1v1h-1zM36 11h1v1h-1z"/>
<path fill="#a32c61" d="M39 1h1v1h-1zM58 1h1v1h-1zM62 1h1v1h-1zM103 1h1v1h-1zM114 1h1v1h-1zM112 2h1v1h-1zM36 3h1v1h-1zM46 3h1v1h-1zM49 3h1v1h-1zM53 3h1v1h-1zM62 3h1v1h-1zM80 3h1v1h-1zM108 3h1v1h-1zM116 3h1v1h-1zM3 4h1v1h-1zM17 4h1v1h-1zM37 4h1v1h-1zM110 4h1v1h-1zM118 4h1v1h-1zM19 5h1v1h-1zM23 5h1v1h-1zM27 5h1v1h-1zM32 5h2v1h-2zM102 5h1v1h-1zM109 5h1v1h-1zM112 5h1v1h-1zM8 6h1v1h-1zM12 6h1v1h-1zM28 6h1v1h-1zM34 6h1v1h-1zM43 6h1v1h-1zM50 6h1v1h-1zM61 6h1v1h-1zM75 6h1v1h-1zM95 6h1v1h-1zM97 6h1v1h-1zM6 7h1v1h-1zM61 7h1v1h-1zM63 7h1v1h-1zM91 7h1v1h-1zM101 7h1v1h-1zM49 11h1v1h-1zM91 11h1v1h-1z"/>
<path fill="#b0315b" d="M4 1h1v1h-1zM32 1h1v1h-1zM35 1h1v1h-1zM50 1h1v1h-1zM59 1h1v1h-1zM67 1h1v1h-1zM85 1h2v1h-2zM94 1h1v1h-1zM11 3h1v1h-1zM19 3h1v1h-1zM31 3h1v1h-1zM39 3h1v1h-1zM42 3h1v1h-1zM52 3h1v1h-1zM55 3h1v1h-1zM64 3h1v1h-1zM74 3h1v1h-1zM78 3h1v1h-1zM89 3h1v1h-1zM98 3h1v1h-1zM101 3h1v1h-1zM105 3h1v1h-1zM109 3h1v1h-1zM31 4h1v1h-1zM49 4h1v1h-1zM68 4h1v1h-1zM89 4h1v1h-1zM108 4h1v1h-1zM120 4h1v1h-1zM13 5h1v1h-1zM68 5h2v1h-2zM77 5h1v1h-1zM105 5h1v1h-1zM115 5h1v1h-1zM117 5h2v1h-2zM6 6h1v1h-1zM31 6h1v1h-1zM68 6h1v1h-1zM76 6h1v1h-1zM90 6h1v1h-1zM104 6h1v1h-1zM113 6h1v1h-1zM1 7h1v1h-1zM22 7h1v1h-1zM38 7h1v1h-1zM41 7h1v1h-1zM43 7h1v1h-1zM71 7h1v1h-1zM73 7h1v1h-1zM99 7h1v1h-1zM71 11h1v1h-1z"/>
<path fill="#bc3754" d="M33 0h1v1h-1zM40 1h1v1h-1zM68 1h1v1h-1zM119 1h1v1h-1zM24 3h1v1h-1zM47 3h1v1h-1zM57 3h1v1h-1zM71 3h1v1h-1zM82 3h2v1h-2zM112 3h1v1h-1zM13 4h2v1h-2zM22 4h1v1h-1zM36 4h1v1h-1zM46 4h1v1h-1zM87 4h1v1h-1zM98 4h1v1h-1zM119 4h1v1h-1zM3 5h1v1h-1zM21 5h1v1h-1zM65 5h1v1h-1zM67 5h1v1h-1zM73 5h1v1h-1zM80 5h1v1h-1zM92 5h1v1h-1zM95 5h1v1h-1zM100 5h1v1h-1zM108 5h1v1h-1zM114 5h1v1h-1zM36 6h1v1h-1zM69 6h1v1h-1zM74 6h1v1h-1zM83 6h1v1h-1zM4 7h2v1h-2zM35 7h1v1h-1zM48 7h1v1h-1zM54 7h2v1h-2zM75 7h1v1h-1zM78 7h2v1h-2zM106 7h1v1h-1zM109 7h1v1h-1zM112 7h1v1h-1zM4 11h1v1h-1zM28 11h1v1h-1zM90 11h1v1h-1zM96 11h1v1h-1z"/>
<path fill="#c73e4c" d="M19 0h1v1h-1zM51 0h1v1h-1zM79 0h1v1h-1zM84 0h1v1h-1zM93 0h1v1h-1zM25 1h1v1h-1zM42 1h1v1h-1zM95 1h1v1h-1zM102 1h1v1h-1zM116 1h2v1h-2zM8 2h1v1h-1zM16 3h1v1h-1zM40 3h1v1h-1zM51 3h1v1h-1zM58 3h1v1h-1zM67 3h1v1h-1zM77 3h1v1h-1zM90 3h1v1h-1zM93 3h1v1h-1zM107 3h1v1h-1zM117 3h1v1h-1zM119 3h1v1h-1zM26 4h1v1h-1zM29 4h1v1h-1zM85 4h1v1h-1zM105 4h1v1h-1zM5 5h1v1h-1zM12 5h1v1h-1zM25 5h1v1h-1zM28 5h1v1h-1zM38 5h1v1h-1zM43 5h1v1h-1zM50 5h1v1h-1zM53 5h1v1h-1zM58 5h1v1h-1zM103 5h2v1h-2zM20 6h1v1h-1zM25 6h1v1h-1zM39 6h1v1h-1zM67 6h1v1h-1zM25 7h2v1h-2zM31 7h1v1h-1zM34 7h1v1h-1zM39 7h1v1h-1zM56 7h2v1h-2zM66 7h1v1h-1zM74 7h1v1h-1zM87 7h1v1h-1zM92 7h1v1h-1zM108 7h1v1h-1zM68 11h1v1h-1zM74 11h1v1h-1zM113 11h1v1h-1z"/>
<path fill="#d24644" d="M11 0h1v1h-1zM17 0h1v1h-1zM22 0h1v1h-1zM26 0h1v1h-1zM49 0h1v1h-1zM75 0h1v1h-1zM85 0h1v1h-1zM101 0h1v1h-1zM110 0h1v1h-1zM114 0h1v1h-1zM120 0h1v1h-1zM49 1h1v1h-1zM111 1h1v1h-1zM82 2h1v1h-1zM15 3h1v1h-1zM54 3h1v1h-1zM66 3h1v1h-1zM68 3h1v1h-1zM91 3h1v1h-1zM94 3h2v1h-2zM99 3h1v1h-1zM103 3h1v1h-1zM18 4h1v1h-1zM28 4h1v1h-1zM71 4h1v1h-1zM80 4h1v1h-1zM94 4h1v1h-1zM104 4h1v1h-1zM14 5h1v1h-1zM17 5h2v1h-2zM20 5h1v1h-1zM22 5h1v1h-1zM35 5h2v1h-2zM47 5h1v1h-1zM54 5h1v1h-1zM56 5h1v1h-1zM62 5h1v1h-1zM33 6h1v1h-1zM71 6h1v1h-1zM86 6h1v1h-1zM15 7h1v1h-1zM18 7h1v1h-1zM24 7h1v1h-1zM27 7h1v1h-1zM44 7h1v1h-1zM62 7h1v1h-1zM68 7h1v1h-1zM70 7h1v1h-1zM76 7h1v1h-1zM86 7h1v1h-1zM90 7h1v1h-1zM94 7h1v1h-1zM96 7h1v1h-1zM105 7h1v1h-1zM12 11h1v1h-1zM56 11h1v1h-1z"/>
<path fill="#db503b" d="M0 0h1v1h-1zM7 0h1v1h-1zM28 0h1v1h-1zM39 0h1v1h-1zM44 0h1v1h-1zM52 0h1v1h-1zM66 0h1v1h-1zM91 0h2v1h-2zM100 0h1v1h-1zM115 0h1v1h-1zM55 1h1v1h-1zM81 1h1v1h-1zM96 1h1v1h-1zM98 1h1v1h-1zM23 2h1v1h-1zM79 2h1v1h-1zM34 3h1v1h-1zM63 3h1v1h-1zM75 3h1v1h-1zM88 3h1v1h-1zM97 3h1v1h-1zM110 3h1v1h-1zM11 4h1v1h-1zM24 4h1v1h-1zM33 4h2v1h-2zM40 4h1v1h-1zM64 4h1v1h-1zM69 4h1v1h-1zM81 4h1v1h-1zM95 4h1v1h-1zM101 4h1v1h-1zM117 4h1v1h-1zM4 5h1v1h-1zM15 5h1v1h-1zM44 5h1v1h-1zM60 5h2v1h-2zM72 5h1v1h-1zM79 5h1v1h-1zM91 5h1v1h-1zM99 5h1v1h-1zM107 5h1v1h-1zM113 5h1v1h-1zM119 5h1v1h-1zM108 6h1v1h-1zM12 7h1v1h-1zM16 7h1v1h-1zM20 7h1v1h-1zM42 7h1v1h-1zM49 7h1v1h-1zM72 7h1v1h-1zM80 7h1v1h-1zM84 7h1v1h-1zM97 7h1v1h-1zM104 7h1v1h-1zM114 7h2v1h-2zM118 7h1v1h-1z"/>
<path fill="#e45a31" d="M4 0h1v1h-1zM14 0h1v1h-1zM21 0h1v1h-1zM23 0h1v1h-1zM25 0h1v1h-1zM27 0h1v1h-1zM29 0h2v1h-2zM37 0h2v1h-2zM65 0h1v1h-1zM72 0h1v1h-1zM74 0h1v1h-1zM95 0h1v1h-1zM108 0h1v1h-1zM111 0h1v1h-1zM118 0h2v1h-2zM80 1h1v1h-1zM90 1h1v1h-1zM99 1h1v1h-1zM118 1h1v1h-1zM27 2h1v1h-1zM33 2h1v1h-1zM50 2h1v1h-1zM58 2h1v1h-1zM61 2h1v1h-1zM84 2h2v1h-2zM114 2h1v1h-1zM5 3h1v1h-1zM41 3h1v1h-1zM45 3h1v1h-1zM48 3h1v1h-1zM50 3h1v1h-1zM118 3h1v1h-1zM2 4h1v1h-1zM9 4h2v1h-2zM51 4h2v1h-2zM82 4h1v1h-1zM86 4h1v1h-1zM99 4h1v1h-1zM114 4h1v1h-1zM7 5h1v1h-1zM10 5h1v1h-1zM30 5h1v1h-1zM39 5h1v1h-1zM96 5h1v1h-1zM92 6h1v1h-1zM10 7h1v1h-1zM13 7h2v1h-2zM51 7h3v1h-3zM58 7h1v1h-1zM69 7h1v1h-1zM88 7h2v1h-2zM95 7h1v1h-1zM102 7h1v1h-1zM113 7h1v1h-1zM116 7h2v1h-2zM120 7h1v1h-1z"/>
<path fill="#eb6628" d="M5 0h2v1h-2zM13 0h1v1h-1zM36 0h1v1h-1zM42 0h1v1h-1zM50 0h1v1h-1zM68 0h1v1h-1zM76 0h1v1h-1zM78 0h1v1h-1zM88 0h1v1h-1zM94 0h1v1h-1zM97 0h2v1h-2zM103 0h4v1h-4zM113 0h1v1h-1zM2 2h1v1h-1zM15 2h1v1h-1zM20 2h1v1h-1zM31 2h1v1h-1zM37 2h2v1h-2zM41 2h1v1h-1zM47 2h1v1h-1zM54 2h1v1h-1zM73 2h2v1h-2zM76 2h1v1h-1zM81 2h1v1h-1zM94 2h1v1h-1zM32 3h1v1h-1zM35 3h1v1h-1zM56 3h1v1h-1zM65 3h1v1h-1zM6 4h1v1h-1zM63 4h1v1h-1zM65 4h1v1h-1zM77 4h1v1h-1zM83 4h1v1h-1zM102 4h1v1h-1zM106 4h1v1h-1zM116 4h1v1h-1zM0 5h1v1h-1zM9 5h1v1h-1zM34 5h1v1h-1zM41 5h1v1h-1zM49 5h1v1h-1zM70 5h1v1h-1zM76 5h1v1h-1zM93 5h1v1h-1zM0 7h1v1h-1zM2 7h2v1h-2zM50 7h1v1h-1zM64 7h1v1h-1zM81 7h1v1h-1zM83 7h1v1h-1zM98 7h1v1h-1zM100 7h1v1h-1zM107 7h1v1h-1zM25 8h1v1h-1zM29 11h1v1h-1z"/>
<path fill="#f1731d" d="M3 0h1v1h-1zM8 0h2v1h-2zM12 0h1v1h-1zM16 0h1v1h-1zM34 0h1v1h-1zM43 0h1v1h-1zM45 0h2v1h-2zM55 0h2v1h-2zM59 0h3v1h-3zM69 0h2v1h-2zM80 0h2v1h-2zM83 0h1v1h-1zM90 0h1v1h-1zM109 0h1v1h-1zM116 0h1v1h-1zM72 1h2v1h-2zM100 1h1v1h-1zM0 2h2v1h-2zM10 2h1v1h-1zM12 2h1v1h-1zM19 2h1v1h-1zM21 2h1v1h-1zM24 2h2v1h-2zM32 2h1v1h-1zM46 2h1v1h-1zM48 2h1v1h-1zM51 2h1v1h-1zM57 2h1v1h-1zM62 2h1v1h-1zM77 2h1v1h-1zM80 2h1v1h-1zM101 2h1v1h-1zM103 2h1v1h-1zM106 2h3v1h-3zM111 2h1v1h-1zM118 2h1v1h-1zM33 3h1v1h-1zM79 3h1v1h-1zM60 4h1v1h-1zM72 4h1v1h-1zM100 4h1v1h-1zM109 4h1v1h-1zM115 4h1v1h-1zM6 5h1v1h-1zM26 5h1v1h-1zM45 5h1v1h-1zM63 5h1v1h-1zM94 5h1v1h-1zM110 5h1v1h-1zM120 5h1v1h-1zM8 7h1v1h-1zM36 7h1v1h-1zM40 7h1v1h-1zM47 7h1v1h-1zM110 7h1v1h-1zM119 7h1v1h-1zM5 8h1v1h-1zM42 8h1v1h-1zM69 8h1v1h-1zM78 8h1v1h-1zM80 8h1v1h-1z"/>
<path fill="#f68013" d="M2 0h1v1h-1zM10 0h1v1h-1zM20 0h1v1h-1zM24 0h1v1h-1zM31 0h2v1h-2zM41 0h1v1h-1zM48 0h1v1h-1zM58 0h1v1h-1zM63 0h2v1h-2zM73 0h1v1h-1zM82 0h1v1h-1zM86 0h1v1h-1zM96 0h1v1h-1zM107 0h1v1h-1zM117 0h1v1h-1zM3 2h1v1h-1zM6 2h1v1h-1zM28 2h2v1h-2zM45 2h1v1h-1zM53 2h1v1h-1zM59 2h2v1h-2zM65 2h1v1h-1zM70 2h1v1h-1zM72 2h1v1h-1zM88 2h1v1h-1zM92 2h1v1h-1zM96 2h1v1h-1zM99 2h2v1h-2zM104 2h2v1h-2zM115 2h1v1h-1zM4 4h1v1h-1zM23 4h1v1h-1zM61 4h1v1h-1zM97 4h1v1h-1zM78 5h1v1h-1zM9 7h1v1h-1zM19 7h1v1h-1zM28 7h2v1h-2zM33 7h1v1h-1zM37 7h1v1h-1zM93 7h1v1h-1zM103 7h1v1h-1zM4 8h1v1h-1zM20 8h1v1h-1zM45 8h1v1h-1zM49 8h2v1h-2zM66 8h1v1h-1zM84 8h2v1h-2zM100 8h1v1h-1zM107 8h1v1h-1zM116 8h1v1h-1z"/>
<path fill="#f98e09" d="M15 0h1v1h-1zM18 0h1v1h-1zM35 0h1v1h-1zM40 0h1v1h-1zM47 0h1v1h-1zM57 0h1v1h-1zM62 0h1v1h-1zM67 0h1v1h-1zM77 0h1v1h-1zM102 0h1v1h-1zM112 0h1v1h-1zM5 2h1v1h-1zM14 2h1v1h-1zM17 2h1v1h-1zM22 2h1v1h-1zM26 2h1v1h-1zM30 2h1v1h-1zM35 2h1v1h-1zM39 2h1v1h-1zM44 2h1v1h-1zM49 2h1v1h-1zM63 2h2v1h-2zM87 2h1v1h-1zM90 2h1v1h-1zM93 2h1v1h-1zM113 2h1v1h-1zM117 2h1v1h-1zM43 3h1v1h-1zM42 4h1v1h-1zM45 4h1v1h-1zM75 4h2v1h-2zM96 4h1v1h-1zM83 5h1v1h-1zM17 7h1v1h-1zM59 7h1v1h-1zM82 7h1v1h-1zM3 8h1v1h-1zM15 8h1v1h-1zM21 8h1v1h-1zM26 8h1v1h-1zM30 8h2v1h-2zM59 8h2v1h-2zM67 8h1v1h-1zM75 8h1v1h-1zM101 8h1v1h-1zM105 8h2v1h-2zM112 8h1v1h-1zM114 8h1v1h-1zM118 8h1v1h-1z"/>
<path fill="#fb9d07" d="M1 0h1v1h-1zM53 0h1v1h-1zM4 2h1v1h-1zM9 2h1v1h-1zM13 2h1v1h-1zM16 2h1v1h-1zM18 2h1v1h-1zM40 2h1v1h-1zM42 2h2v1h-2zM52 2h1v1h-1zM66 2h2v1h-2zM78 2h1v1h-1zM86 2h1v1h-1zM89 2h1v1h-1zM95 2h1v1h-1zM102 2h1v1h-1zM109 2h2v1h-2zM73 4h1v1h-1zM79 4h1v1h-1zM84 4h1v1h-1zM92 4h1v1h-1zM113 4h1v1h-1zM82 5h1v1h-1zM30 7h1v1h-1zM2 8h1v1h-1zM7 8h1v1h-1zM10 8h1v1h-1zM17 8h2v1h-2zM22 8h1v1h-1zM29 8h1v1h-1zM38 8h1v1h-1zM41 8h1v1h-1zM52 8h1v1h-1zM58 8h1v1h-1zM61 8h1v1h-1zM63 8h2v1h-2zM77 8h1v1h-1zM88 8h2v1h-2zM92 8h1v1h-1zM95 8h1v1h-1zM97 8h1v1h-1zM108 8h1v1h-1zM111 8h1v1h-1z"/>
<path fill="#fcac11" d="M71 0h1v1h-1zM89 0h1v1h-1zM99 0h1v1h-1zM7 2h1v1h-1zM68 2h1v1h-1zM71 2h1v1h-1zM97 2h2v1h-2zM116 2h1v1h-1zM37 3h1v1h-1zM5 4h1v1h-1zM12 4h1v1h-1zM62 4h1v1h-1zM21 7h1v1h-1zM23 7h1v1h-1zM85 7h1v1h-1zM8 8h2v1h-2zM11 8h2v1h-2zM14 8h1v1h-1zM16 8h1v1h-1zM19 8h1v1h-1zM23 8h2v1h-2zM32 8h2v1h-2zM36 8h1v1h-1zM40 8h1v1h-1zM46 8h1v1h-1zM53 8h1v1h-1zM56 8h1v1h-1zM62 8h1v1h-1zM65 8h1v1h-1zM73 8h1v1h-1zM83 8h1v1h-1zM90 8h1v1h-1zM98 8h1v1h-1zM102 8h1v1h-1zM104 8h1v1h-1zM113 8h1v1h-1zM115 8h1v1h-1zM117 8h1v1h-1zM119 8h2v1h-2z"/>
<path fill="#fbbc21" d="M36 2h1v1h-1zM55 2h1v1h-1zM69 2h1v1h-1zM75 2h1v1h-1zM41 4h1v1h-1zM27 8h2v1h-2zM37 8h1v1h-1zM44 8h1v1h-1zM47 8h1v1h-1zM51 8h1v1h-1zM54 8h1v1h-1zM72 8h1v1h-1zM82 8h1v1h-1zM86 8h2v1h-2zM93 8h1v1h-1zM96 8h1v1h-1zM99 8h1v1h-1zM109 8h2v1h-2z"/>
<path fill="#f9cb35" d="M11 2h1v1h-1zM56 2h1v1h-1zM7 4h1v1h-1zM20 4h1v1h-1zM65 7h1v1h-1zM0 8h1v1h-1zM13 8h1v1h-1zM35 8h1v1h-1zM39 8h1v1h-1zM43 8h1v1h-1zM55 8h1v1h-1zM57 8h1v1h-1zM68 8h1v1h-1zM70 8h1v1h-1zM81 8h1v1h-1zM91 8h1v1h-1zM94 8h1v1h-1zM103 8h1v1h-1z"/>
<path fill="#f5db4c" d="M119 2h1v1h-1zM6 8h1v1h-1zM34 8h1v1h-1zM48 8h1v1h-1zM71 8h1v1h-1zM74 8h1v1h-1zM79 8h1v1h-1z"/>
<path fill="#f2ea69" d="M76 8h1v1h-1z"/>
</g>
<pattern id="seam_ha0" x="274.0" y="154.8" width="2.49604" height="28.0" patternUnits="userSpaceOnUse"><rect x="0" y="0" width="0.6" height="28.0" fill="#fff" fill-opacity="0.13"/><rect x="0" y="0" width="2.49604" height="0.7" fill="#fff" fill-opacity="0.10"/></pattern>
<rect x="274.0" y="154.8" width="504.20" height="476.00" fill="url(#seam_ha0)"/>
<pattern id="seam_ha1" x="778.2" y="154.8" width="2.48372" height="28.0" patternUnits="userSpaceOnUse"><rect x="0" y="0" width="0.6" height="28.0" fill="#fff" fill-opacity="0.13"/><rect x="0" y="0" width="2.48372" height="0.7" fill="#fff" fill-opacity="0.10"/></pattern>
<rect x="778.2" y="154.8" width="106.80" height="476.00" fill="url(#seam_ha1)"/>
<pattern id="seam_ha2" x="885.0" y="154.8" width="2.50744" height="28.0" patternUnits="userSpaceOnUse"><rect x="0" y="0" width="0.6" height="28.0" fill="#fff" fill-opacity="0.13"/><rect x="0" y="0" width="2.50744" height="0.7" fill="#fff" fill-opacity="0.10"/></pattern>
<rect x="885.0" y="154.8" width="303.40" height="476.00" fill="url(#seam_ha2)"/>
<rect x="777.30" y="154.8" width="1.8" height="476.00" fill="#fff"/>
<rect x="884.10" y="154.8" width="1.8" height="476.00" fill="#fff"/>
<rect x="274.0" y="405.15" width="914.40" height="1.9" fill="#fff"/>
</g>
<rect x="273.70" y="640.8" width="504.80" height="27.5" fill="#7b2f9b"/>
<rect x="778.20" y="640.8" width="107.30" height="27.5" fill="#46597f"/>
<rect x="885.20" y="640.8" width="303.30" height="27.5" fill="#4b9bb7"/>
<text x="427.3" y="711.5" font-size="43.2" fill="#7b2f9b" text-anchor="start" font-style="italic" font-weight="normal">Slco2a1</text>
<text x="758.4" y="716" font-size="43.2" fill="#46597f" text-anchor="start" font-style="italic" font-weight="normal">Npsr1</text>
<text x="967.8" y="716" font-size="43.2" fill="#4b9bb7" text-anchor="start" font-style="italic" font-weight="normal">Hpgd</text>
<text x="260.0" y="176.8" font-size="25.8" fill="#000" text-anchor="end" font-style="italic" font-weight="normal">Npnt</text>
<text x="263.0" y="203.9" font-size="25.8" fill="#000" text-anchor="end" font-style="italic" font-weight="normal">Dppa1</text>
<text x="261.0" y="236.8" font-size="25.8" fill="#000" text-anchor="end" font-style="italic" font-weight="normal">Stk17b</text>
<text x="263.0" y="265.1" font-size="25.8" fill="#000" text-anchor="end" font-style="italic" font-weight="normal">Col8a1</text>
<text x="262.0" y="293.3" font-size="25.8" fill="#000" text-anchor="end" font-style="italic" font-weight="normal">Dmkn</text>
<text x="261.0" y="320.3" font-size="25.8" fill="#000" text-anchor="end" font-style="italic" font-weight="normal">Sorcs3</text>
<text x="261.0" y="342.4" font-size="25.8" fill="#000" text-anchor="end" font-style="italic" font-weight="normal">Tgm3</text>
<text x="261.0" y="375.7" font-size="25.8" fill="#000" text-anchor="end" font-style="italic" font-weight="normal">Cbln2</text>
<text x="261.0" y="403.8" font-size="25.8" fill="#000" text-anchor="end" font-style="italic" font-weight="normal">Cxcl12</text>
<text x="263.0" y="431.7" font-size="25.8" fill="#000" text-anchor="end" font-style="italic" font-weight="normal">Slco2a1</text>
<text x="261.0" y="461.2" font-size="25.8" fill="#000" text-anchor="end" font-style="italic" font-weight="normal">Wipf3</text>
<text x="261.0" y="487.2" font-size="25.8" fill="#000" text-anchor="end" font-style="italic" font-weight="normal">Ovol2</text>
<text x="261.0" y="509.6" font-size="25.8" fill="#000" text-anchor="end" font-style="italic" font-weight="normal">Clmp</text>
<text x="261.0" y="537.2" font-size="25.8" fill="#000" text-anchor="end" font-style="italic" font-weight="normal">Syt6</text>
<text x="259.0" y="564.4" font-size="25.8" fill="#000" text-anchor="end" font-style="italic" font-weight="normal">Ctgf</text>
<text x="261.0" y="597.5" font-size="25.8" fill="#000" text-anchor="end" font-style="italic" font-weight="normal">Ctsc</text>
<text x="261.0" y="626.1" font-size="25.8" fill="#000" text-anchor="end" font-style="italic" font-weight="normal">Dhrs3</text>
<rect x="1268.2" y="166.3" width="30.8" height="245.5" fill="url(#ginf)" fill-opacity="0.7"/>
<text x="1305.5" y="166.3" font-size="41.5" fill="#000" text-anchor="start" font-style="italic" font-weight="normal">2.93</text>
<text transform="translate(1303.7,441) scale(1,0.82)" font-size="41" font-style="italic">0</text>
<text transform="translate(1246.5,428.3) rotate(-90) scale(1.032,1)" font-size="42.3" font-style="italic" text-anchor="start">Log<tspan font-size="27" dy="9">10</tspan><tspan dy="-9">(CPM+1)</tspan></text>
<text transform="translate(37.8,1506.1) rotate(-90)" font-size="43.4" fill="#000" text-anchor="middle" font-style="normal">Differentially expressed genes</text>
<text transform="translate(91.8,1506.2) rotate(-90)" font-size="43.7" fill="#000" text-anchor="middle" font-style="normal">(bulk RNA-seq)</text>
<rect x="277.00" y="939.2" width="153.73" height="31" fill="#ff00ff"/>
<rect x="430.43" y="939.2" width="212.21" height="31" fill="#ff5a00"/>
<rect x="642.34" y="939.2" width="107.25" height="31" fill="#4fb6e6"/>
<rect x="749.29" y="939.2" width="8.55" height="31" fill="#00ad00"/>
<rect x="757.54" y="939.2" width="24.04" height="31" fill="#808080"/>
<rect x="781.28" y="939.2" width="12.79" height="31" fill="#ff5a00"/>
<rect x="793.77" y="939.2" width="33.04" height="31" fill="#4fb6e6"/>
<rect x="826.51" y="939.2" width="47.28" height="31" fill="#00ad00"/>
<rect x="873.49" y="939.2" width="15.54" height="31" fill="#808080"/>
<rect x="888.73" y="939.2" width="22.29" height="31" fill="#ff5a00"/>
<rect x="910.72" y="939.2" width="89.76" height="31" fill="#4fb6e6"/>
<rect x="1000.18" y="939.2" width="178.97" height="31" fill="#00ad00"/>
<rect x="1178.86" y="939.2" width="13.04" height="31" fill="#808080"/>
<text x="277.5" y="928.3" font-size="34.8" fill="#ff00ff" text-anchor="start" font-style="normal" font-weight="normal">Medulla</text>
<text x="489.8" y="928.3" font-size="34.8" fill="#ff5a00" text-anchor="start" font-style="normal" font-weight="normal">Pons</text>
<text x="661.2" y="928.3" font-size="34.8" fill="#2fa3dd" text-anchor="start" font-style="normal" font-weight="normal">Superior colliculus</text>
<text x="1029.8" y="928.3" font-size="34.8" fill="#00ad00" text-anchor="start" font-style="normal" font-weight="normal">Thalamus</text>
<g id="hb">
<rect x="275.7" y="979.0" width="916.60" height="1036.00" fill="#060608"/>
<g transform="translate(275.7,979.0) scale(2.50149,28.0)" shape-rendering="crispEdges">
<path fill="#210c4a" d="M97 6h1v1h-1zM73 8h1v1h-1zM150 8h1v1h-1zM78 11h1v1h-1zM24 12h1v1h-1zM157 13h1v1h-1zM175 13h1v1h-1zM184 15h1v1h-1zM122 19h1v1h-1zM159 19h1v1h-1zM27 26h1v1h-1zM168 30h1v1h-1zM61 33h1v1h-1zM45 34h1v1h-1zM159 35h1v1h-1z"/>
<path fill="#2f0a5b" d="M114 1h1v1h-1zM153 6h1v1h-1zM52 7h1v1h-1zM163 9h1v1h-1zM27 11h1v1h-1zM30 11h1v1h-1zM145 15h1v1h-1zM3 17h1v1h-1zM115 18h1v1h-1zM56 19h1v1h-1zM27 30h1v1h-1zM62 30h1v1h-1zM68 30h1v1h-1zM49 34h1v1h-1zM53 34h1v1h-1zM128 34h1v1h-1zM8 35h1v1h-1zM26 35h1v1h-1zM96 35h1v1h-1z"/>
<path fill="#3d0965" d="M125 0h1v1h-1zM89 1h1v1h-1zM139 2h1v1h-1zM37 7h1v1h-1zM132 7h1v1h-1zM27 8h1v1h-1zM45 8h1v1h-1zM155 8h1v1h-1zM194 8h1v1h-1zM196 8h1v1h-1zM68 13h1v1h-1zM99 13h1v1h-1zM149 13h1v1h-1zM4 15h1v1h-1zM51 18h1v1h-1zM87 19h1v1h-1zM172 19h1v1h-1zM38 30h1v1h-1zM110 30h1v1h-1zM180 30h1v1h-1zM55 32h1v1h-1zM93 32h1v1h-1zM148 32h1v1h-1zM144 33h1v1h-1zM117 34h1v1h-1zM36 35h1v1h-1zM185 35h1v1h-1zM199 35h1v1h-1zM179 36h1v1h-1zM194 36h1v1h-1z"/>
<path fill="#4a0c6b" d="M70 1h1v1h-1zM85 2h1v1h-1zM11 5h1v1h-1zM91 6h1v1h-1zM20 9h1v1h-1zM146 9h1v1h-1zM83 11h1v1h-1zM89 11h1v1h-1zM133 11h1v1h-1zM104 12h1v1h-1zM188 12h1v1h-1zM28 13h1v1h-1zM137 13h1v1h-1zM63 15h1v1h-1zM99 15h1v1h-1zM193 16h1v1h-1zM28 19h1v1h-1zM157 19h1v1h-1zM74 26h1v1h-1zM28 30h1v1h-1zM98 30h1v1h-1zM115 30h1v1h-1zM26 33h1v1h-1zM37 33h1v1h-1zM181 33h1v1h-1zM96 34h1v1h-1zM20 35h1v1h-1zM63 35h1v1h-1zM131 35h1v1h-1zM139 35h1v1h-1zM146 35h1v1h-1zM7 36h1v1h-1zM116 36h1v1h-1zM177 36h1v1h-1z"/>
<path fill="#57106e" d="M112 4h1v1h-1zM5 7h1v1h-1zM47 7h1v1h-1zM198 7h1v1h-1zM26 8h1v1h-1zM181 8h1v1h-1zM12 9h1v1h-1zM18 9h1v1h-1zM154 9h1v1h-1zM152 10h1v1h-1zM75 11h1v1h-1zM114 11h1v1h-1zM136 11h1v1h-1zM168 11h1v1h-1zM195 11h1v1h-1zM15 12h1v1h-1zM65 12h1v1h-1zM172 12h1v1h-1zM176 13h1v1h-1zM190 13h1v1h-1zM57 15h1v1h-1zM79 15h1v1h-1zM91 15h1v1h-1zM178 15h1v1h-1zM189 15h1v1h-1zM33 16h1v1h-1zM34 17h1v1h-1zM65 18h1v1h-1zM159 18h1v1h-1zM145 19h1v1h-1zM173 19h2v1h-2zM190 19h1v1h-1zM84 26h1v1h-1zM92 26h1v1h-1zM8 28h1v1h-1zM63 28h1v1h-1zM92 28h1v1h-1zM157 28h1v1h-1zM98 29h1v1h-1zM45 30h1v1h-1zM93 30h1v1h-1zM121 30h1v1h-1zM139 30h1v1h-1zM159 30h1v1h-1zM170 30h1v1h-1zM196 30h1v1h-1zM2 32h1v1h-1zM49 32h1v1h-1zM54 32h1v1h-1zM102 32h1v1h-1zM135 32h1v1h-1zM107 33h1v1h-1zM85 34h1v1h-1zM115 34h1v1h-1zM130 34h1v1h-1zM140 34h1v1h-1zM147 34h2v1h-2zM189 34h1v1h-1zM52 35h1v1h-1zM65 35h1v1h-1zM155 35h1v1h-1zM164 35h1v1h-1zM11 36h1v1h-1zM114 36h1v1h-1zM142 36h1v1h-1zM193 36h1v1h-1z"/>
<path fill="#64156e" d="M116 1h1v1h-1zM191 6h1v1h-1zM17 7h1v1h-1zM26 7h1v1h-1zM56 7h1v1h-1zM144 7h1v1h-1zM154 7h1v1h-1zM179 7h1v1h-1zM191 7h1v1h-1zM67 8h1v1h-1zM131 8h1v1h-1zM33 9h1v1h-1zM95 9h1v1h-1zM170 10h1v1h-1zM12 11h1v1h-1zM14 11h1v1h-1zM38 11h1v1h-1zM104 11h1v1h-1zM106 11h1v1h-1zM110 11h1v1h-1zM131 11h1v1h-1zM171 11h1v1h-1zM188 11h1v1h-1zM71 12h1v1h-1zM90 12h1v1h-1zM130 12h1v1h-1zM174 12h1v1h-1zM52 13h1v1h-1zM114 13h1v1h-1zM178 13h1v1h-1zM149 14h1v1h-1zM18 15h1v1h-1zM62 15h1v1h-1zM77 15h1v1h-1zM85 15h1v1h-1zM102 15h2v1h-2zM146 15h1v1h-1zM155 15h1v1h-1zM179 15h1v1h-1zM182 15h1v1h-1zM7 16h1v1h-1zM57 16h1v1h-1zM69 16h1v1h-1zM96 16h1v1h-1zM194 16h1v1h-1zM37 17h1v1h-1zM43 17h1v1h-1zM72 17h1v1h-1zM117 17h2v1h-2zM196 17h1v1h-1zM129 18h1v1h-1zM150 18h1v1h-1zM165 18h1v1h-1zM175 18h1v1h-1zM186 18h1v1h-1zM201 18h1v1h-1zM63 19h1v1h-1zM85 19h1v1h-1zM103 19h1v1h-1zM113 19h1v1h-1zM123 19h1v1h-1zM133 19h1v1h-1zM191 19h1v1h-1zM3 26h1v1h-1zM5 26h1v1h-1zM42 26h1v1h-1zM135 26h1v1h-1zM178 26h1v1h-1zM33 28h1v1h-1zM47 28h1v1h-1zM73 28h1v1h-1zM164 28h2v1h-2zM173 28h1v1h-1zM200 28h1v1h-1zM151 29h1v1h-1zM0 30h1v1h-1zM19 30h1v1h-1zM88 30h1v1h-1zM116 30h1v1h-1zM132 30h2v1h-2zM144 30h1v1h-1zM153 30h2v1h-2zM162 30h1v1h-1zM172 30h1v1h-1zM185 30h1v1h-1zM0 32h1v1h-1zM14 32h1v1h-1zM87 32h1v1h-1zM91 32h1v1h-1zM2 33h1v1h-1zM11 33h1v1h-1zM19 33h1v1h-1zM47 33h1v1h-1zM84 33h1v1h-1zM88 33h1v1h-1zM103 33h1v1h-1zM112 33h1v1h-1zM16 34h1v1h-1zM60 34h1v1h-1zM72 34h1v1h-1zM84 34h1v1h-1zM84 35h2v1h-2zM100 35h1v1h-1zM110 35h1v1h-1zM148 35h1v1h-1zM107 36h1v1h-1zM145 36h1v1h-1zM149 36h1v1h-1z"/>
<path fill="#71196e" d="M180 1h1v1h-1zM159 2h1v1h-1zM69 3h1v1h-1zM109 3h1v1h-1zM128 4h1v1h-1zM142 4h1v1h-1zM183 4h1v1h-1zM11 6h1v1h-1zM36 6h1v1h-1zM46 7h1v1h-1zM60 7h1v1h-1zM109 7h1v1h-1zM170 7h1v1h-1zM197 7h1v1h-1zM82 8h1v1h-1zM152 8h1v1h-1zM162 8h1v1h-1zM185 8h1v1h-1zM56 9h1v1h-1zM199 9h1v1h-1zM17 10h1v1h-1zM29 10h1v1h-1zM33 10h1v1h-1zM40 10h1v1h-1zM119 10h1v1h-1zM184 10h1v1h-1zM23 11h1v1h-1zM39 11h1v1h-1zM95 11h1v1h-1zM154 11h1v1h-1zM172 11h1v1h-1zM47 12h1v1h-1zM55 12h1v1h-1zM178 12h1v1h-1zM190 12h1v1h-1zM3 13h1v1h-1zM13 13h1v1h-1zM30 13h1v1h-1zM102 13h1v1h-1zM18 14h1v1h-1zM59 15h1v1h-1zM144 15h1v1h-1zM170 15h1v1h-1zM107 16h2v1h-2zM137 16h1v1h-1zM199 16h1v1h-1zM40 17h1v1h-1zM53 17h1v1h-1zM85 17h1v1h-1zM174 17h1v1h-1zM178 17h1v1h-1zM6 18h1v1h-1zM135 18h1v1h-1zM157 18h1v1h-1zM172 18h1v1h-1zM196 18h1v1h-1zM48 19h1v1h-1zM64 19h1v1h-1zM80 19h1v1h-1zM155 19h2v1h-2zM72 26h1v1h-1zM97 26h1v1h-1zM147 26h1v1h-1zM67 28h1v1h-1zM121 28h1v1h-1zM126 28h1v1h-1zM142 28h1v1h-1zM172 28h1v1h-1zM174 28h1v1h-1zM183 28h1v1h-1zM2 30h2v1h-2zM7 30h1v1h-1zM10 30h1v1h-1zM76 30h1v1h-1zM99 30h1v1h-1zM117 30h1v1h-1zM130 30h1v1h-1zM147 30h1v1h-1zM149 30h1v1h-1zM155 30h1v1h-1zM176 30h1v1h-1zM184 30h1v1h-1zM28 32h1v1h-1zM67 32h1v1h-1zM156 32h1v1h-1zM158 32h1v1h-1zM168 32h1v1h-1zM25 33h1v1h-1zM31 33h1v1h-1zM50 33h1v1h-1zM54 33h1v1h-1zM62 33h1v1h-1zM64 33h1v1h-1zM132 33h1v1h-1zM138 33h2v1h-2zM158 33h1v1h-1zM187 33h1v1h-1zM197 33h1v1h-1zM24 34h1v1h-1zM39 34h1v1h-1zM146 34h1v1h-1zM169 34h1v1h-1zM9 35h1v1h-1zM40 35h1v1h-1zM47 35h1v1h-1zM57 35h2v1h-2zM75 35h1v1h-1zM111 35h1v1h-1zM134 35h1v1h-1zM152 35h1v1h-1zM34 36h1v1h-1zM36 36h1v1h-1zM96 36h1v1h-1zM135 36h1v1h-1zM152 36h1v1h-1z"/>
<path fill="#7d1e6d" d="M14 2h1v1h-1zM97 2h1v1h-1zM196 2h1v1h-1zM181 4h1v1h-1zM187 4h1v1h-1zM14 5h1v1h-1zM15 6h1v1h-1zM197 6h1v1h-1zM24 7h1v1h-1zM75 7h1v1h-1zM96 7h1v1h-1zM115 7h1v1h-1zM47 8h1v1h-1zM77 8h1v1h-1zM122 8h1v1h-1zM125 8h1v1h-1zM129 8h1v1h-1zM140 8h2v1h-2zM180 8h1v1h-1zM183 8h1v1h-1zM187 8h1v1h-1zM184 9h1v1h-1zM22 10h2v1h-2zM35 10h1v1h-1zM51 10h1v1h-1zM55 10h1v1h-1zM78 10h1v1h-1zM81 10h1v1h-1zM113 10h1v1h-1zM117 10h1v1h-1zM139 10h1v1h-1zM158 10h1v1h-1zM161 10h1v1h-1zM9 11h2v1h-2zM21 11h1v1h-1zM26 11h1v1h-1zM37 11h1v1h-1zM43 11h1v1h-1zM53 11h1v1h-1zM56 11h1v1h-1zM80 11h2v1h-2zM91 11h1v1h-1zM147 11h1v1h-1zM155 11h1v1h-1zM163 11h1v1h-1zM31 12h1v1h-1zM82 12h1v1h-1zM84 12h1v1h-1zM87 12h1v1h-1zM154 12h1v1h-1zM156 12h1v1h-1zM193 12h1v1h-1zM51 13h1v1h-1zM70 13h1v1h-1zM116 13h1v1h-1zM188 13h1v1h-1zM196 13h1v1h-1zM44 15h1v1h-1zM51 15h2v1h-2zM109 15h1v1h-1zM138 15h1v1h-1zM39 16h1v1h-1zM49 16h1v1h-1zM54 16h1v1h-1zM62 16h1v1h-1zM66 16h1v1h-1zM70 16h1v1h-1zM93 16h1v1h-1zM101 16h1v1h-1zM127 16h1v1h-1zM49 17h1v1h-1zM81 17h1v1h-1zM87 17h1v1h-1zM93 17h1v1h-1zM102 17h1v1h-1zM125 17h1v1h-1zM157 17h1v1h-1zM166 17h1v1h-1zM40 18h1v1h-1zM45 18h1v1h-1zM49 18h1v1h-1zM69 18h1v1h-1zM72 18h1v1h-1zM74 18h1v1h-1zM78 18h1v1h-1zM92 18h1v1h-1zM101 18h1v1h-1zM142 18h1v1h-1zM156 18h1v1h-1zM158 18h1v1h-1zM161 18h1v1h-1zM170 18h1v1h-1zM193 18h1v1h-1zM195 18h1v1h-1zM200 18h1v1h-1zM8 19h2v1h-2zM29 19h1v1h-1zM51 19h1v1h-1zM55 19h1v1h-1zM70 19h1v1h-1zM89 19h1v1h-1zM148 19h1v1h-1zM151 19h1v1h-1zM37 24h1v1h-1zM53 25h1v1h-1zM64 25h1v1h-1zM84 25h1v1h-1zM45 26h1v1h-1zM65 26h1v1h-1zM78 26h1v1h-1zM167 26h1v1h-1zM174 26h1v1h-1zM195 26h1v1h-1zM16 28h1v1h-1zM44 28h1v1h-1zM60 28h1v1h-1zM79 28h1v1h-1zM81 28h1v1h-1zM84 28h1v1h-1zM108 28h1v1h-1zM158 28h1v1h-1zM169 28h1v1h-1zM181 28h1v1h-1zM192 28h1v1h-1zM196 28h1v1h-1zM175 29h1v1h-1zM23 30h1v1h-1zM52 30h1v1h-1zM56 30h1v1h-1zM59 30h1v1h-1zM72 30h1v1h-1zM87 30h1v1h-1zM90 30h1v1h-1zM109 30h1v1h-1zM114 30h1v1h-1zM119 30h1v1h-1zM127 30h1v1h-1zM136 30h1v1h-1zM160 30h1v1h-1zM167 30h1v1h-1zM177 30h1v1h-1zM197 30h1v1h-1zM24 32h2v1h-2zM60 32h1v1h-1zM65 32h1v1h-1zM115 32h1v1h-1zM140 32h1v1h-1zM151 32h1v1h-1zM34 33h1v1h-1zM51 33h1v1h-1zM175 33h1v1h-1zM183 33h2v1h-2zM189 33h1v1h-1zM1 34h1v1h-1zM13 34h1v1h-1zM26 34h1v1h-1zM30 34h1v1h-1zM36 34h1v1h-1zM57 34h1v1h-1zM98 34h1v1h-1zM103 34h1v1h-1zM114 34h1v1h-1zM118 34h1v1h-1zM121 34h1v1h-1zM160 34h2v1h-2zM27 35h1v1h-1zM43 35h1v1h-1zM64 35h1v1h-1zM70 35h1v1h-1zM136 35h1v1h-1zM160 35h1v1h-1zM165 35h1v1h-1zM177 35h1v1h-1zM189 35h1v1h-1zM12 36h1v1h-1zM33 36h1v1h-1zM35 36h1v1h-1zM58 36h1v1h-1zM102 36h1v1h-1zM110 36h1v1h-1z"/>
<path fill="#8a226a" d="M66 0h1v1h-1zM90 1h1v1h-1zM66 2h1v1h-1zM128 2h1v1h-1zM183 2h1v1h-1zM197 2h1v1h-1zM187 3h1v1h-1zM180 4h1v1h-1zM103 6h1v1h-1zM171 6h1v1h-1zM201 6h1v1h-1zM19 7h1v1h-1zM84 7h1v1h-1zM152 7h1v1h-1zM156 7h1v1h-1zM161 7h1v1h-1zM200 7h1v1h-1zM0 8h1v1h-1zM2 8h1v1h-1zM60 8h1v1h-1zM78 8h1v1h-1zM89 8h1v1h-1zM108 8h1v1h-1zM115 8h1v1h-1zM1 10h1v1h-1zM10 10h1v1h-1zM28 10h1v1h-1zM45 10h1v1h-1zM57 10h2v1h-2zM86 10h1v1h-1zM94 10h1v1h-1zM130 10h1v1h-1zM141 10h1v1h-1zM167 10h1v1h-1zM201 10h1v1h-1zM7 11h1v1h-1zM17 11h1v1h-1zM22 11h1v1h-1zM42 11h1v1h-1zM55 11h1v1h-1zM69 11h1v1h-1zM76 11h1v1h-1zM124 11h1v1h-1zM156 11h1v1h-1zM166 11h1v1h-1zM201 11h1v1h-1zM2 12h1v1h-1zM13 12h1v1h-1zM32 12h1v1h-1zM36 12h1v1h-1zM39 12h1v1h-1zM56 12h1v1h-1zM107 12h1v1h-1zM163 12h1v1h-1zM180 12h1v1h-1zM5 13h1v1h-1zM18 13h2v1h-2zM36 13h1v1h-1zM84 13h1v1h-1zM88 13h1v1h-1zM95 13h1v1h-1zM101 13h1v1h-1zM127 13h2v1h-2zM198 13h1v1h-1zM81 15h1v1h-1zM106 15h1v1h-1zM113 15h1v1h-1zM124 15h1v1h-1zM137 15h1v1h-1zM21 16h1v1h-1zM24 16h1v1h-1zM31 16h1v1h-1zM37 16h1v1h-1zM45 16h1v1h-1zM50 16h1v1h-1zM59 16h1v1h-1zM61 16h1v1h-1zM71 16h1v1h-1zM83 16h1v1h-1zM88 16h1v1h-1zM123 16h1v1h-1zM126 16h1v1h-1zM135 16h1v1h-1zM152 16h1v1h-1zM176 16h1v1h-1zM191 16h1v1h-1zM7 17h1v1h-1zM61 17h1v1h-1zM65 17h1v1h-1zM73 17h1v1h-1zM158 17h1v1h-1zM164 17h1v1h-1zM181 17h1v1h-1zM193 17h1v1h-1zM199 17h1v1h-1zM17 18h2v1h-2zM23 18h1v1h-1zM33 18h1v1h-1zM42 18h1v1h-1zM47 18h1v1h-1zM54 18h1v1h-1zM81 18h1v1h-1zM100 18h1v1h-1zM105 18h1v1h-1zM108 18h2v1h-2zM113 18h1v1h-1zM134 18h1v1h-1zM145 18h1v1h-1zM148 18h1v1h-1zM188 18h1v1h-1zM191 18h1v1h-1zM197 18h1v1h-1zM36 19h1v1h-1zM50 19h1v1h-1zM57 19h1v1h-1zM66 19h1v1h-1zM90 19h1v1h-1zM99 19h1v1h-1zM108 19h1v1h-1zM135 19h3v1h-3zM168 19h1v1h-1zM171 19h1v1h-1zM180 19h1v1h-1zM192 19h1v1h-1zM33 20h1v1h-1zM43 20h1v1h-1zM9 24h1v1h-1zM74 25h1v1h-1zM136 25h1v1h-1zM144 25h1v1h-1zM67 26h1v1h-1zM81 26h1v1h-1zM137 26h1v1h-1zM150 26h1v1h-1zM69 28h2v1h-2zM82 28h2v1h-2zM87 28h1v1h-1zM100 28h1v1h-1zM107 28h1v1h-1zM190 28h1v1h-1zM132 29h1v1h-1zM150 29h1v1h-1zM154 29h1v1h-1zM17 30h1v1h-1zM24 30h1v1h-1zM39 30h1v1h-1zM63 30h1v1h-1zM77 30h2v1h-2zM95 30h1v1h-1zM111 30h1v1h-1zM156 30h1v1h-1zM32 32h2v1h-2zM70 32h1v1h-1zM127 32h1v1h-1zM165 32h1v1h-1zM0 33h1v1h-1zM13 33h1v1h-1zM18 33h1v1h-1zM22 33h1v1h-1zM57 33h1v1h-1zM118 33h1v1h-1zM125 33h1v1h-1zM160 33h1v1h-1zM163 33h1v1h-1zM174 33h1v1h-1zM193 33h1v1h-1zM198 33h1v1h-1zM20 34h1v1h-1zM28 34h1v1h-1zM31 34h1v1h-1zM56 34h1v1h-1zM70 34h1v1h-1zM81 34h1v1h-1zM83 34h1v1h-1zM120 34h1v1h-1zM135 34h1v1h-1zM154 34h1v1h-1zM173 34h1v1h-1zM196 34h1v1h-1zM25 35h1v1h-1zM60 35h2v1h-2zM76 35h1v1h-1zM106 35h1v1h-1zM108 35h1v1h-1zM117 35h1v1h-1zM169 35h1v1h-1zM183 35h1v1h-1zM21 36h1v1h-1zM90 36h1v1h-1zM109 36h1v1h-1zM153 36h1v1h-1z"/>
<path fill="#972766" d="M42 2h1v1h-1zM111 2h1v1h-1zM125 2h1v1h-1zM94 3h1v1h-1zM38 4h1v1h-1zM154 4h1v1h-1zM177 4h1v1h-1zM186 4h1v1h-1zM20 5h1v1h-1zM70 5h1v1h-1zM164 6h1v1h-1zM183 6h2v1h-2zM45 7h1v1h-1zM50 7h1v1h-1zM65 7h1v1h-1zM74 7h1v1h-1zM107 7h1v1h-1zM111 7h1v1h-1zM147 7h1v1h-1zM174 7h1v1h-1zM15 8h1v1h-1zM39 8h1v1h-1zM50 8h1v1h-1zM62 8h1v1h-1zM68 8h1v1h-1zM80 8h1v1h-1zM87 8h1v1h-1zM103 8h1v1h-1zM144 8h1v1h-1zM174 8h1v1h-1zM0 10h1v1h-1zM5 10h2v1h-2zM11 10h1v1h-1zM74 10h1v1h-1zM131 10h1v1h-1zM136 10h1v1h-1zM162 10h1v1h-1zM185 10h1v1h-1zM199 10h1v1h-1zM0 11h1v1h-1zM16 11h1v1h-1zM19 11h1v1h-1zM63 11h1v1h-1zM68 11h1v1h-1zM77 11h1v1h-1zM86 11h1v1h-1zM97 11h2v1h-2zM100 11h1v1h-1zM108 11h1v1h-1zM112 11h1v1h-1zM117 11h1v1h-1zM162 11h1v1h-1zM173 11h1v1h-1zM181 11h1v1h-1zM185 11h1v1h-1zM190 11h1v1h-1zM196 11h1v1h-1zM4 12h1v1h-1zM12 12h1v1h-1zM37 12h1v1h-1zM59 12h1v1h-1zM70 12h1v1h-1zM92 12h1v1h-1zM101 12h2v1h-2zM123 12h1v1h-1zM125 12h1v1h-1zM134 12h1v1h-1zM140 12h2v1h-2zM143 12h1v1h-1zM176 12h1v1h-1zM182 12h1v1h-1zM15 13h1v1h-1zM111 13h1v1h-1zM120 13h1v1h-1zM124 13h2v1h-2zM181 13h1v1h-1zM175 14h1v1h-1zM148 15h1v1h-1zM157 15h1v1h-1zM159 15h1v1h-1zM200 15h1v1h-1zM12 16h2v1h-2zM40 16h1v1h-1zM44 16h1v1h-1zM47 16h1v1h-1zM52 16h2v1h-2zM94 16h1v1h-1zM104 16h1v1h-1zM112 16h1v1h-1zM115 16h1v1h-1zM132 16h1v1h-1zM156 16h1v1h-1zM170 16h1v1h-1zM184 16h1v1h-1zM19 17h1v1h-1zM42 17h1v1h-1zM51 17h1v1h-1zM70 17h1v1h-1zM88 17h1v1h-1zM98 17h1v1h-1zM107 17h2v1h-2zM114 17h1v1h-1zM136 17h1v1h-1zM145 17h1v1h-1zM159 17h1v1h-1zM163 17h1v1h-1zM0 18h2v1h-2zM3 18h1v1h-1zM5 18h1v1h-1zM9 18h1v1h-1zM13 18h1v1h-1zM15 18h1v1h-1zM32 18h1v1h-1zM38 18h1v1h-1zM44 18h1v1h-1zM46 18h1v1h-1zM55 18h2v1h-2zM70 18h1v1h-1zM79 18h1v1h-1zM87 18h2v1h-2zM102 18h1v1h-1zM106 18h2v1h-2zM123 18h2v1h-2zM141 18h1v1h-1zM143 18h1v1h-1zM146 18h1v1h-1zM155 18h1v1h-1zM168 18h1v1h-1zM177 18h2v1h-2zM189 18h1v1h-1zM1 19h1v1h-1zM10 19h1v1h-1zM16 19h1v1h-1zM25 19h1v1h-1zM27 19h1v1h-1zM35 19h1v1h-1zM101 19h1v1h-1zM107 19h1v1h-1zM115 19h1v1h-1zM117 19h1v1h-1zM128 19h1v1h-1zM149 19h1v1h-1zM183 19h1v1h-1zM193 19h1v1h-1zM68 20h1v1h-1zM108 20h1v1h-1zM113 20h1v1h-1zM124 20h1v1h-1zM143 20h1v1h-1zM157 20h1v1h-1zM178 20h1v1h-1zM130 24h1v1h-1zM160 24h1v1h-1zM17 25h1v1h-1zM23 26h1v1h-1zM50 26h1v1h-1zM53 26h2v1h-2zM102 26h1v1h-1zM106 26h1v1h-1zM123 26h1v1h-1zM149 26h1v1h-1zM165 26h1v1h-1zM179 26h1v1h-1zM10 28h1v1h-1zM20 28h3v1h-3zM28 28h1v1h-1zM50 28h1v1h-1zM52 28h1v1h-1zM122 28h1v1h-1zM148 28h1v1h-1zM201 28h1v1h-1zM85 29h1v1h-1zM123 29h1v1h-1zM142 29h1v1h-1zM168 29h1v1h-1zM25 30h1v1h-1zM48 30h1v1h-1zM84 30h1v1h-1zM124 30h1v1h-1zM135 30h1v1h-1zM157 30h1v1h-1zM171 30h1v1h-1zM187 30h1v1h-1zM4 32h1v1h-1zM26 32h1v1h-1zM80 32h1v1h-1zM104 32h1v1h-1zM109 32h1v1h-1zM111 32h1v1h-1zM117 32h1v1h-1zM137 32h1v1h-1zM141 32h1v1h-1zM14 33h2v1h-2zM49 33h1v1h-1zM79 33h1v1h-1zM82 33h1v1h-1zM95 33h1v1h-1zM98 33h1v1h-1zM114 33h1v1h-1zM192 33h1v1h-1zM14 34h1v1h-1zM18 34h1v1h-1zM33 34h1v1h-1zM94 34h1v1h-1zM119 34h1v1h-1zM158 34h1v1h-1zM179 34h1v1h-1zM195 34h1v1h-1zM0 35h2v1h-2zM14 35h1v1h-1zM22 35h1v1h-1zM124 35h2v1h-2zM130 35h1v1h-1zM145 35h1v1h-1zM195 35h1v1h-1zM24 36h1v1h-1zM69 36h1v1h-1zM156 36h1v1h-1zM165 36h1v1h-1zM189 36h1v1h-1z"/>
<path fill="#a32c61" d="M12 0h1v1h-1zM196 0h1v1h-1zM1 3h1v1h-1zM18 4h1v1h-1zM147 4h1v1h-1zM140 6h1v1h-1zM146 6h1v1h-1zM179 6h1v1h-1zM6 7h1v1h-1zM8 7h1v1h-1zM30 7h1v1h-1zM43 7h1v1h-1zM48 7h1v1h-1zM54 7h1v1h-1zM59 7h1v1h-1zM61 7h1v1h-1zM66 7h1v1h-1zM83 7h1v1h-1zM97 7h1v1h-1zM123 7h1v1h-1zM131 7h1v1h-1zM135 7h1v1h-1zM150 7h2v1h-2zM157 7h1v1h-1zM9 8h1v1h-1zM13 8h1v1h-1zM23 8h1v1h-1zM28 8h1v1h-1zM32 8h2v1h-2zM43 8h1v1h-1zM46 8h1v1h-1zM85 8h1v1h-1zM102 8h1v1h-1zM107 8h1v1h-1zM116 8h1v1h-1zM132 8h1v1h-1zM136 8h1v1h-1zM151 8h1v1h-1zM14 10h1v1h-1zM19 10h1v1h-1zM43 10h1v1h-1zM59 10h1v1h-1zM62 10h1v1h-1zM64 10h2v1h-2zM73 10h1v1h-1zM77 10h1v1h-1zM105 10h1v1h-1zM110 10h1v1h-1zM112 10h1v1h-1zM115 10h1v1h-1zM124 10h1v1h-1zM128 10h2v1h-2zM148 10h1v1h-1zM160 10h1v1h-1zM165 10h1v1h-1zM31 11h2v1h-2zM59 11h1v1h-1zM103 11h1v1h-1zM127 11h1v1h-1zM137 11h1v1h-1zM139 11h1v1h-1zM150 11h2v1h-2zM170 11h1v1h-1zM17 12h1v1h-1zM91 12h1v1h-1zM95 12h1v1h-1zM106 12h1v1h-1zM108 12h1v1h-1zM124 12h1v1h-1zM168 12h1v1h-1zM173 12h1v1h-1zM179 12h1v1h-1zM195 12h1v1h-1zM200 12h1v1h-1zM0 13h1v1h-1zM8 13h1v1h-1zM33 13h1v1h-1zM44 13h1v1h-1zM69 13h1v1h-1zM73 13h1v1h-1zM79 13h1v1h-1zM96 13h1v1h-1zM166 13h1v1h-1zM191 13h1v1h-1zM194 13h1v1h-1zM201 13h1v1h-1zM38 14h1v1h-1zM87 14h1v1h-1zM139 14h1v1h-1zM187 14h1v1h-1zM1 15h1v1h-1zM2 16h1v1h-1zM4 16h2v1h-2zM9 16h1v1h-1zM17 16h1v1h-1zM19 16h1v1h-1zM55 16h1v1h-1zM60 16h1v1h-1zM65 16h1v1h-1zM67 16h1v1h-1zM74 16h1v1h-1zM78 16h2v1h-2zM89 16h1v1h-1zM103 16h1v1h-1zM122 16h1v1h-1zM141 16h1v1h-1zM148 16h1v1h-1zM171 16h1v1h-1zM10 17h1v1h-1zM27 17h1v1h-1zM30 17h2v1h-2zM67 17h1v1h-1zM83 17h2v1h-2zM99 17h1v1h-1zM126 17h1v1h-1zM28 18h1v1h-1zM61 18h1v1h-1zM68 18h1v1h-1zM80 18h1v1h-1zM83 18h1v1h-1zM95 18h1v1h-1zM104 18h1v1h-1zM122 18h1v1h-1zM169 18h1v1h-1zM180 18h1v1h-1zM182 18h1v1h-1zM184 18h1v1h-1zM187 18h1v1h-1zM198 18h1v1h-1zM12 19h2v1h-2zM21 19h1v1h-1zM93 19h1v1h-1zM106 19h1v1h-1zM139 19h1v1h-1zM152 19h1v1h-1zM182 19h1v1h-1zM186 19h1v1h-1zM15 20h1v1h-1zM53 20h1v1h-1zM69 20h1v1h-1zM141 20h1v1h-1zM162 20h1v1h-1zM169 20h1v1h-1zM180 20h1v1h-1zM22 24h1v1h-1zM66 24h1v1h-1zM75 24h1v1h-1zM101 24h1v1h-1zM109 24h1v1h-1zM127 24h1v1h-1zM131 24h1v1h-1zM144 24h1v1h-1zM148 24h1v1h-1zM162 24h1v1h-1zM180 24h1v1h-1zM199 24h2v1h-2zM51 25h1v1h-1zM107 25h1v1h-1zM146 25h1v1h-1zM194 25h1v1h-1zM30 26h1v1h-1zM37 26h1v1h-1zM39 26h1v1h-1zM66 26h1v1h-1zM70 26h1v1h-1zM82 26h1v1h-1zM104 26h1v1h-1zM118 26h1v1h-1zM134 26h1v1h-1zM153 26h1v1h-1zM163 26h1v1h-1zM183 26h1v1h-1zM187 26h1v1h-1zM193 26h1v1h-1zM13 28h1v1h-1zM51 28h1v1h-1zM65 28h1v1h-1zM118 28h1v1h-1zM162 28h1v1h-1zM2 29h1v1h-1zM90 29h1v1h-1zM101 29h1v1h-1zM111 29h1v1h-1zM127 29h1v1h-1zM173 29h1v1h-1zM194 29h1v1h-1zM196 29h1v1h-1zM5 30h1v1h-1zM11 30h1v1h-1zM14 30h1v1h-1zM148 30h1v1h-1zM163 30h1v1h-1zM179 30h1v1h-1zM18 32h1v1h-1zM27 32h1v1h-1zM29 32h1v1h-1zM47 32h1v1h-1zM51 32h1v1h-1zM90 32h1v1h-1zM99 32h1v1h-1zM122 32h1v1h-1zM130 32h1v1h-1zM149 32h1v1h-1zM169 32h1v1h-1zM200 32h1v1h-1zM3 33h2v1h-2zM9 33h1v1h-1zM23 33h1v1h-1zM29 33h2v1h-2zM39 33h1v1h-1zM45 33h1v1h-1zM52 33h1v1h-1zM67 33h1v1h-1zM69 33h2v1h-2zM101 33h1v1h-1zM110 33h1v1h-1zM117 33h1v1h-1zM130 33h2v1h-2zM133 33h1v1h-1zM142 33h1v1h-1zM167 33h1v1h-1zM169 33h1v1h-1zM171 33h1v1h-1zM191 33h1v1h-1zM27 34h1v1h-1zM41 34h1v1h-1zM55 34h1v1h-1zM71 34h1v1h-1zM150 34h2v1h-2zM181 34h1v1h-1zM41 35h1v1h-1zM48 35h1v1h-1zM102 35h1v1h-1zM150 35h1v1h-1zM18 36h1v1h-1zM68 36h1v1h-1zM108 36h1v1h-1zM117 36h1v1h-1zM151 36h1v1h-1zM200 36h1v1h-1z"/>
<path fill="#b0315b" d="M171 2h1v1h-1zM160 3h1v1h-1zM67 4h1v1h-1zM170 6h1v1h-1zM185 6h1v1h-1zM188 6h1v1h-1zM68 7h1v1h-1zM139 7h1v1h-1zM178 7h1v1h-1zM6 8h1v1h-1zM10 8h1v1h-1zM14 8h1v1h-1zM17 8h1v1h-1zM31 8h1v1h-1zM61 8h1v1h-1zM69 8h1v1h-1zM106 8h1v1h-1zM111 8h1v1h-1zM127 8h2v1h-2zM133 8h1v1h-1zM153 8h1v1h-1zM159 8h1v1h-1zM161 8h1v1h-1zM163 8h1v1h-1zM175 8h1v1h-1zM188 8h1v1h-1zM34 10h1v1h-1zM38 10h1v1h-1zM42 10h1v1h-1zM61 10h1v1h-1zM70 10h1v1h-1zM72 10h1v1h-1zM79 10h1v1h-1zM82 10h1v1h-1zM85 10h1v1h-1zM92 10h1v1h-1zM99 10h1v1h-1zM109 10h1v1h-1zM122 10h1v1h-1zM155 10h1v1h-1zM166 10h1v1h-1zM168 10h1v1h-1zM183 10h1v1h-1zM188 10h1v1h-1zM5 11h1v1h-1zM35 11h1v1h-1zM40 11h1v1h-1zM44 11h1v1h-1zM46 11h1v1h-1zM54 11h1v1h-1zM58 11h1v1h-1zM88 11h1v1h-1zM105 11h1v1h-1zM115 11h1v1h-1zM157 11h1v1h-1zM164 11h1v1h-1zM177 11h1v1h-1zM192 11h1v1h-1zM21 12h1v1h-1zM40 12h1v1h-1zM49 12h1v1h-1zM105 12h1v1h-1zM109 12h1v1h-1zM116 12h2v1h-2zM152 12h1v1h-1zM20 13h1v1h-1zM37 13h1v1h-1zM41 13h1v1h-1zM53 13h1v1h-1zM75 13h1v1h-1zM106 13h1v1h-1zM113 13h1v1h-1zM134 13h1v1h-1zM142 13h1v1h-1zM161 13h1v1h-1zM173 13h1v1h-1zM183 13h1v1h-1zM185 13h1v1h-1zM27 14h1v1h-1zM44 14h1v1h-1zM54 14h1v1h-1zM92 14h1v1h-1zM154 14h1v1h-1zM161 14h1v1h-1zM196 14h1v1h-1zM1 16h1v1h-1zM10 16h1v1h-1zM18 16h1v1h-1zM22 16h1v1h-1zM95 16h1v1h-1zM100 16h1v1h-1zM109 16h2v1h-2zM116 16h1v1h-1zM134 16h1v1h-1zM145 16h1v1h-1zM149 16h1v1h-1zM153 16h1v1h-1zM160 16h1v1h-1zM163 16h2v1h-2zM167 16h2v1h-2zM189 16h1v1h-1zM195 16h1v1h-1zM197 16h2v1h-2zM8 17h1v1h-1zM23 17h2v1h-2zM36 17h1v1h-1zM38 17h1v1h-1zM48 17h1v1h-1zM58 17h1v1h-1zM71 17h1v1h-1zM74 17h1v1h-1zM90 17h1v1h-1zM123 17h1v1h-1zM194 17h1v1h-1zM200 17h1v1h-1zM20 18h1v1h-1zM26 18h1v1h-1zM48 18h1v1h-1zM52 18h1v1h-1zM59 18h1v1h-1zM63 18h2v1h-2zM66 18h2v1h-2zM75 18h1v1h-1zM86 18h1v1h-1zM125 18h1v1h-1zM133 18h1v1h-1zM137 18h1v1h-1zM147 18h1v1h-1zM152 18h1v1h-1zM154 18h1v1h-1zM162 18h1v1h-1zM167 18h1v1h-1zM173 18h1v1h-1zM11 19h1v1h-1zM18 19h1v1h-1zM26 19h1v1h-1zM33 19h1v1h-1zM41 19h1v1h-1zM65 19h1v1h-1zM73 19h1v1h-1zM78 19h1v1h-1zM95 19h1v1h-1zM105 19h1v1h-1zM121 19h1v1h-1zM158 19h1v1h-1zM166 19h1v1h-1zM175 19h1v1h-1zM197 19h1v1h-1zM200 19h1v1h-1zM21 20h1v1h-1zM32 20h1v1h-1zM39 20h1v1h-1zM51 20h1v1h-1zM57 20h1v1h-1zM67 20h1v1h-1zM90 20h1v1h-1zM100 20h2v1h-2zM129 20h1v1h-1zM161 20h1v1h-1zM165 20h1v1h-1zM188 20h1v1h-1zM91 23h1v1h-1zM4 24h1v1h-1zM6 24h1v1h-1zM15 24h1v1h-1zM21 24h1v1h-1zM73 24h1v1h-1zM93 24h1v1h-1zM105 24h1v1h-1zM154 24h1v1h-1zM165 24h1v1h-1zM175 24h1v1h-1zM183 24h1v1h-1zM191 24h1v1h-1zM195 24h1v1h-1zM9 25h1v1h-1zM29 25h1v1h-1zM47 25h1v1h-1zM56 25h1v1h-1zM69 25h1v1h-1zM116 25h1v1h-1zM123 25h1v1h-1zM138 25h1v1h-1zM145 25h1v1h-1zM160 25h1v1h-1zM164 25h1v1h-1zM198 25h1v1h-1zM15 26h1v1h-1zM20 26h1v1h-1zM26 26h1v1h-1zM29 26h1v1h-1zM31 26h2v1h-2zM36 26h1v1h-1zM51 26h2v1h-2zM55 26h1v1h-1zM60 26h1v1h-1zM62 26h2v1h-2zM76 26h1v1h-1zM85 26h1v1h-1zM88 26h1v1h-1zM93 26h1v1h-1zM113 26h1v1h-1zM121 26h1v1h-1zM138 26h1v1h-1zM155 26h1v1h-1zM169 26h1v1h-1zM196 26h1v1h-1zM24 28h1v1h-1zM106 28h1v1h-1zM109 28h1v1h-1zM130 28h1v1h-1zM138 28h1v1h-1zM168 28h1v1h-1zM180 28h1v1h-1zM188 28h1v1h-1zM50 29h1v1h-1zM76 29h1v1h-1zM81 29h1v1h-1zM84 29h1v1h-1zM159 29h1v1h-1zM181 29h1v1h-1zM79 30h1v1h-1zM190 30h1v1h-1zM1 32h1v1h-1zM13 32h1v1h-1zM21 32h2v1h-2zM58 32h2v1h-2zM95 32h1v1h-1zM139 32h1v1h-1zM182 32h1v1h-1zM193 32h1v1h-1zM199 32h1v1h-1zM5 33h3v1h-3zM17 33h1v1h-1zM32 33h1v1h-1zM72 33h1v1h-1zM74 33h1v1h-1zM83 33h1v1h-1zM94 33h1v1h-1zM106 33h1v1h-1zM145 33h1v1h-1zM152 33h1v1h-1zM178 33h1v1h-1zM180 33h1v1h-1zM186 33h1v1h-1zM201 33h1v1h-1zM12 34h1v1h-1zM43 34h1v1h-1zM74 34h2v1h-2zM88 34h1v1h-1zM106 34h1v1h-1zM138 34h1v1h-1zM145 34h1v1h-1zM175 34h1v1h-1zM50 35h1v1h-1zM54 35h1v1h-1zM66 35h1v1h-1zM86 35h1v1h-1zM93 35h1v1h-1zM157 35h1v1h-1zM184 35h1v1h-1zM170 36h1v1h-1zM190 36h2v1h-2zM199 36h1v1h-1z"/>
<path fill="#bc3754" d="M126 2h1v1h-1zM145 2h1v1h-1zM180 2h1v1h-1zM157 4h1v1h-1zM174 6h1v1h-1zM10 7h1v1h-1zM27 7h1v1h-1zM34 7h1v1h-1zM40 7h1v1h-1zM49 7h1v1h-1zM80 7h1v1h-1zM126 7h1v1h-1zM164 7h1v1h-1zM181 7h1v1h-1zM183 7h1v1h-1zM193 7h1v1h-1zM7 8h1v1h-1zM11 8h1v1h-1zM16 8h1v1h-1zM40 8h1v1h-1zM66 8h1v1h-1zM86 8h1v1h-1zM90 8h1v1h-1zM113 8h1v1h-1zM130 8h1v1h-1zM143 8h1v1h-1zM145 8h1v1h-1zM157 8h1v1h-1zM184 8h1v1h-1zM191 8h1v1h-1zM3 10h1v1h-1zM8 10h1v1h-1zM15 10h2v1h-2zM26 10h1v1h-1zM31 10h1v1h-1zM36 10h1v1h-1zM54 10h1v1h-1zM69 10h1v1h-1zM87 10h1v1h-1zM97 10h1v1h-1zM101 10h1v1h-1zM108 10h1v1h-1zM123 10h1v1h-1zM140 10h1v1h-1zM149 10h2v1h-2zM154 10h1v1h-1zM159 10h1v1h-1zM175 10h1v1h-1zM177 10h1v1h-1zM20 11h1v1h-1zM48 11h2v1h-2zM51 11h1v1h-1zM70 11h1v1h-1zM87 11h1v1h-1zM102 11h1v1h-1zM128 11h1v1h-1zM142 11h1v1h-1zM160 11h1v1h-1zM191 11h1v1h-1zM1 12h1v1h-1zM5 12h1v1h-1zM10 12h1v1h-1zM18 12h1v1h-1zM52 12h1v1h-1zM68 12h1v1h-1zM85 12h1v1h-1zM103 12h1v1h-1zM145 12h1v1h-1zM155 12h1v1h-1zM166 12h1v1h-1zM170 12h1v1h-1zM199 12h1v1h-1zM12 13h1v1h-1zM21 13h1v1h-1zM31 13h1v1h-1zM63 13h1v1h-1zM78 13h1v1h-1zM92 13h1v1h-1zM108 13h1v1h-1zM121 13h1v1h-1zM133 13h1v1h-1zM140 13h1v1h-1zM152 13h1v1h-1zM165 13h1v1h-1zM168 13h1v1h-1zM174 13h1v1h-1zM184 13h1v1h-1zM197 13h1v1h-1zM199 13h2v1h-2zM3 14h1v1h-1zM15 14h1v1h-1zM22 14h1v1h-1zM45 14h1v1h-1zM52 14h1v1h-1zM72 14h1v1h-1zM101 14h1v1h-1zM177 14h1v1h-1zM182 14h1v1h-1zM8 16h1v1h-1zM25 16h3v1h-3zM34 16h3v1h-3zM46 16h1v1h-1zM56 16h1v1h-1zM63 16h1v1h-1zM97 16h3v1h-3zM105 16h2v1h-2zM114 16h1v1h-1zM125 16h1v1h-1zM128 16h1v1h-1zM139 16h2v1h-2zM158 16h1v1h-1zM165 16h1v1h-1zM173 16h1v1h-1zM177 16h1v1h-1zM180 16h1v1h-1zM185 16h1v1h-1zM2 17h1v1h-1zM15 17h1v1h-1zM18 17h1v1h-1zM35 17h1v1h-1zM134 17h2v1h-2zM149 17h1v1h-1zM179 17h1v1h-1zM186 17h1v1h-1zM10 18h1v1h-1zM24 18h1v1h-1zM27 18h1v1h-1zM36 18h1v1h-1zM60 18h1v1h-1zM71 18h1v1h-1zM73 18h1v1h-1zM77 18h1v1h-1zM94 18h1v1h-1zM97 18h1v1h-1zM112 18h1v1h-1zM114 18h1v1h-1zM132 18h1v1h-1zM140 18h1v1h-1zM144 18h1v1h-1zM151 18h1v1h-1zM160 18h1v1h-1zM181 18h1v1h-1zM190 18h1v1h-1zM192 18h1v1h-1zM0 19h1v1h-1zM32 19h1v1h-1zM38 19h1v1h-1zM49 19h1v1h-1zM59 19h1v1h-1zM77 19h1v1h-1zM129 19h2v1h-2zM141 19h2v1h-2zM154 19h1v1h-1zM185 19h1v1h-1zM26 20h1v1h-1zM99 20h1v1h-1zM103 20h1v1h-1zM118 20h1v1h-1zM120 20h1v1h-1zM134 20h1v1h-1zM142 20h1v1h-1zM146 20h1v1h-1zM185 20h1v1h-1zM24 21h1v1h-1zM191 21h1v1h-1zM1 24h1v1h-1zM5 24h1v1h-1zM13 24h1v1h-1zM17 24h1v1h-1zM41 24h2v1h-2zM55 24h1v1h-1zM82 24h1v1h-1zM88 24h1v1h-1zM107 24h1v1h-1zM116 24h1v1h-1zM118 24h1v1h-1zM129 24h1v1h-1zM135 24h1v1h-1zM142 24h1v1h-1zM168 24h1v1h-1zM172 24h1v1h-1zM33 25h1v1h-1zM45 25h1v1h-1zM54 25h1v1h-1zM61 25h1v1h-1zM70 25h1v1h-1zM78 25h1v1h-1zM92 25h1v1h-1zM95 25h2v1h-2zM103 25h1v1h-1zM109 25h1v1h-1zM113 25h1v1h-1zM137 25h1v1h-1zM152 25h1v1h-1zM165 25h1v1h-1zM22 26h1v1h-1zM28 26h1v1h-1zM43 26h1v1h-1zM58 26h1v1h-1zM71 26h1v1h-1zM107 26h1v1h-1zM109 26h1v1h-1zM130 26h1v1h-1zM166 26h1v1h-1zM168 26h1v1h-1zM171 26h1v1h-1zM175 26h1v1h-1zM177 26h1v1h-1zM186 26h1v1h-1zM201 26h1v1h-1zM161 27h1v1h-1zM6 28h1v1h-1zM15 28h1v1h-1zM76 28h1v1h-1zM156 28h1v1h-1zM197 28h1v1h-1zM15 29h1v1h-1zM41 29h1v1h-1zM49 29h1v1h-1zM71 29h1v1h-1zM74 29h1v1h-1zM137 29h1v1h-1zM163 29h1v1h-1zM171 29h1v1h-1zM178 29h2v1h-2zM186 29h1v1h-1zM192 29h1v1h-1zM195 29h1v1h-1zM143 30h1v1h-1zM36 32h1v1h-1zM53 32h1v1h-1zM68 32h1v1h-1zM72 32h1v1h-1zM74 32h1v1h-1zM98 32h1v1h-1zM113 32h2v1h-2zM119 32h1v1h-1zM123 32h2v1h-2zM166 32h1v1h-1zM173 32h1v1h-1zM185 32h1v1h-1zM195 32h1v1h-1zM8 33h1v1h-1zM12 33h1v1h-1zM35 33h1v1h-1zM41 33h1v1h-1zM56 33h1v1h-1zM58 33h1v1h-1zM60 33h1v1h-1zM63 33h1v1h-1zM71 33h1v1h-1zM73 33h1v1h-1zM80 33h1v1h-1zM85 33h1v1h-1zM87 33h1v1h-1zM89 33h1v1h-1zM97 33h1v1h-1zM99 33h2v1h-2zM120 33h1v1h-1zM123 33h1v1h-1zM134 33h2v1h-2zM154 33h1v1h-1zM156 33h1v1h-1zM161 33h1v1h-1zM164 33h1v1h-1zM168 33h1v1h-1zM179 33h1v1h-1zM15 34h1v1h-1zM77 34h1v1h-1zM104 34h1v1h-1zM149 34h1v1h-1zM6 35h1v1h-1zM74 35h1v1h-1zM15 36h1v1h-1zM71 36h1v1h-1zM92 36h1v1h-1zM94 36h1v1h-1zM178 36h1v1h-1zM181 36h1v1h-1z"/>
<path fill="#c73e4c" d="M155 4h1v1h-1zM193 4h1v1h-1zM158 5h1v1h-1zM57 6h1v1h-1zM3 7h1v1h-1zM9 7h1v1h-1zM14 7h1v1h-1zM18 7h1v1h-1zM25 7h1v1h-1zM41 7h1v1h-1zM185 7h1v1h-1zM188 7h1v1h-1zM20 8h1v1h-1zM79 8h1v1h-1zM84 8h1v1h-1zM97 8h1v1h-1zM119 8h1v1h-1zM164 8h1v1h-1zM189 8h1v1h-1zM20 10h1v1h-1zM24 10h1v1h-1zM27 10h1v1h-1zM30 10h1v1h-1zM49 10h2v1h-2zM63 10h1v1h-1zM66 10h1v1h-1zM76 10h1v1h-1zM89 10h1v1h-1zM96 10h1v1h-1zM118 10h1v1h-1zM120 10h1v1h-1zM132 10h1v1h-1zM145 10h1v1h-1zM157 10h1v1h-1zM181 10h2v1h-2zM194 10h1v1h-1zM8 11h1v1h-1zM18 11h1v1h-1zM29 11h1v1h-1zM85 11h1v1h-1zM90 11h1v1h-1zM107 11h1v1h-1zM149 11h1v1h-1zM152 11h1v1h-1zM179 11h2v1h-2zM187 11h1v1h-1zM189 11h1v1h-1zM11 12h1v1h-1zM28 12h1v1h-1zM42 12h1v1h-1zM50 12h1v1h-1zM58 12h1v1h-1zM110 12h1v1h-1zM121 12h1v1h-1zM160 12h1v1h-1zM181 12h1v1h-1zM201 12h1v1h-1zM10 13h2v1h-2zM23 13h1v1h-1zM57 13h1v1h-1zM76 13h1v1h-1zM105 13h1v1h-1zM148 13h1v1h-1zM158 13h1v1h-1zM187 13h1v1h-1zM5 14h1v1h-1zM25 14h1v1h-1zM40 14h1v1h-1zM75 14h1v1h-1zM116 14h1v1h-1zM136 14h1v1h-1zM140 14h1v1h-1zM163 14h1v1h-1zM14 16h1v1h-1zM16 16h1v1h-1zM32 16h1v1h-1zM48 16h1v1h-1zM68 16h1v1h-1zM73 16h1v1h-1zM80 16h3v1h-3zM124 16h1v1h-1zM130 16h1v1h-1zM143 16h2v1h-2zM151 16h1v1h-1zM178 16h1v1h-1zM183 16h1v1h-1zM192 16h1v1h-1zM200 16h1v1h-1zM39 17h1v1h-1zM106 17h1v1h-1zM111 17h1v1h-1zM115 17h1v1h-1zM128 17h1v1h-1zM148 17h1v1h-1zM2 18h1v1h-1zM4 18h1v1h-1zM25 18h1v1h-1zM35 18h1v1h-1zM50 18h1v1h-1zM62 18h1v1h-1zM76 18h1v1h-1zM82 18h1v1h-1zM89 18h2v1h-2zM96 18h1v1h-1zM119 18h1v1h-1zM121 18h1v1h-1zM130 18h1v1h-1zM153 18h1v1h-1zM164 18h1v1h-1zM174 18h1v1h-1zM179 18h1v1h-1zM23 19h1v1h-1zM47 19h1v1h-1zM52 19h2v1h-2zM68 19h2v1h-2zM71 19h1v1h-1zM74 19h1v1h-1zM86 19h1v1h-1zM124 19h1v1h-1zM127 19h1v1h-1zM150 19h1v1h-1zM184 19h1v1h-1zM194 19h1v1h-1zM199 19h1v1h-1zM2 20h1v1h-1zM48 20h1v1h-1zM50 20h1v1h-1zM52 20h1v1h-1zM65 20h1v1h-1zM72 20h1v1h-1zM131 20h1v1h-1zM147 20h2v1h-2zM158 20h1v1h-1zM173 20h1v1h-1zM177 20h1v1h-1zM179 20h1v1h-1zM181 20h2v1h-2zM192 20h1v1h-1zM5 21h1v1h-1zM16 21h1v1h-1zM39 23h1v1h-1zM111 23h1v1h-1zM18 24h1v1h-1zM29 24h1v1h-1zM46 24h1v1h-1zM50 24h1v1h-1zM59 24h1v1h-1zM63 24h1v1h-1zM90 24h1v1h-1zM92 24h1v1h-1zM96 24h1v1h-1zM113 24h1v1h-1zM120 24h1v1h-1zM125 24h2v1h-2zM141 24h1v1h-1zM146 24h1v1h-1zM176 24h1v1h-1zM181 24h2v1h-2zM4 25h1v1h-1zM7 25h1v1h-1zM18 25h2v1h-2zM98 25h1v1h-1zM104 25h1v1h-1zM108 25h1v1h-1zM111 25h1v1h-1zM117 25h2v1h-2zM131 25h1v1h-1zM155 25h2v1h-2zM176 25h1v1h-1zM179 25h1v1h-1zM195 25h1v1h-1zM8 26h1v1h-1zM11 26h1v1h-1zM18 26h1v1h-1zM21 26h1v1h-1zM40 26h2v1h-2zM59 26h1v1h-1zM64 26h1v1h-1zM83 26h1v1h-1zM87 26h1v1h-1zM99 26h3v1h-3zM114 26h1v1h-1zM127 26h1v1h-1zM146 26h1v1h-1zM148 26h1v1h-1zM152 26h1v1h-1zM156 26h2v1h-2zM170 26h1v1h-1zM176 26h1v1h-1zM188 26h1v1h-1zM93 27h1v1h-1zM34 28h1v1h-1zM40 28h1v1h-1zM93 28h1v1h-1zM104 28h1v1h-1zM77 29h1v1h-1zM93 29h1v1h-1zM103 29h1v1h-1zM105 29h1v1h-1zM117 29h1v1h-1zM119 29h2v1h-2zM130 29h1v1h-1zM139 29h1v1h-1zM174 29h1v1h-1zM173 30h1v1h-1zM15 31h1v1h-1zM44 31h1v1h-1zM37 32h1v1h-1zM50 32h1v1h-1zM56 32h1v1h-1zM88 32h1v1h-1zM125 32h1v1h-1zM134 32h1v1h-1zM153 32h1v1h-1zM155 32h1v1h-1zM174 32h1v1h-1zM24 33h1v1h-1zM27 33h1v1h-1zM40 33h1v1h-1zM43 33h2v1h-2zM93 33h1v1h-1zM96 33h1v1h-1zM121 33h1v1h-1zM129 33h1v1h-1zM146 33h1v1h-1zM162 33h1v1h-1zM172 33h1v1h-1zM190 33h1v1h-1zM195 33h1v1h-1zM46 34h1v1h-1zM104 35h1v1h-1zM55 36h1v1h-1z"/>
<path fill="#d24644" d="M167 4h1v1h-1zM2 7h1v1h-1zM23 7h1v1h-1zM32 7h1v1h-1zM39 7h1v1h-1zM53 7h1v1h-1zM55 7h1v1h-1zM106 7h1v1h-1zM187 7h1v1h-1zM21 8h1v1h-1zM24 8h1v1h-1zM42 8h1v1h-1zM95 8h1v1h-1zM100 8h1v1h-1zM124 8h1v1h-1zM126 8h1v1h-1zM156 8h1v1h-1zM172 8h1v1h-1zM9 10h1v1h-1zM44 10h1v1h-1zM71 10h1v1h-1zM80 10h1v1h-1zM114 10h1v1h-1zM147 10h1v1h-1zM169 10h1v1h-1zM179 10h1v1h-1zM186 10h1v1h-1zM6 11h1v1h-1zM61 11h1v1h-1zM67 11h1v1h-1zM116 11h1v1h-1zM123 11h1v1h-1zM174 11h1v1h-1zM200 11h1v1h-1zM51 12h1v1h-1zM77 12h1v1h-1zM147 12h1v1h-1zM150 12h1v1h-1zM159 12h1v1h-1zM165 12h1v1h-1zM198 12h1v1h-1zM4 13h1v1h-1zM6 13h1v1h-1zM9 13h1v1h-1zM56 13h1v1h-1zM109 13h1v1h-1zM153 13h1v1h-1zM4 14h1v1h-1zM7 14h1v1h-1zM30 14h1v1h-1zM47 14h1v1h-1zM68 14h1v1h-1zM70 14h1v1h-1zM82 14h1v1h-1zM100 14h1v1h-1zM108 14h1v1h-1zM111 14h1v1h-1zM113 14h1v1h-1zM132 14h1v1h-1zM137 14h1v1h-1zM148 14h1v1h-1zM150 14h1v1h-1zM158 14h1v1h-1zM171 14h1v1h-1zM184 14h1v1h-1zM186 14h1v1h-1zM189 14h1v1h-1zM200 14h1v1h-1zM11 16h1v1h-1zM30 16h1v1h-1zM38 16h1v1h-1zM84 16h1v1h-1zM92 16h1v1h-1zM113 16h1v1h-1zM118 16h1v1h-1zM129 16h1v1h-1zM136 16h1v1h-1zM138 16h1v1h-1zM162 16h1v1h-1zM166 16h1v1h-1zM169 16h1v1h-1zM174 16h1v1h-1zM179 16h1v1h-1zM186 16h1v1h-1zM196 16h1v1h-1zM95 17h1v1h-1zM120 17h2v1h-2zM141 17h1v1h-1zM184 17h1v1h-1zM189 17h1v1h-1zM11 18h2v1h-2zM16 18h1v1h-1zM22 18h1v1h-1zM34 18h1v1h-1zM37 18h1v1h-1zM43 18h1v1h-1zM53 18h1v1h-1zM84 18h2v1h-2zM118 18h1v1h-1zM120 18h1v1h-1zM136 18h1v1h-1zM138 18h1v1h-1zM166 18h1v1h-1zM171 18h1v1h-1zM185 18h1v1h-1zM3 19h1v1h-1zM5 19h1v1h-1zM7 19h1v1h-1zM17 19h1v1h-1zM31 19h1v1h-1zM40 19h1v1h-1zM42 19h1v1h-1zM61 19h1v1h-1zM75 19h1v1h-1zM88 19h1v1h-1zM91 19h1v1h-1zM131 19h1v1h-1zM144 19h1v1h-1zM161 19h1v1h-1zM177 19h1v1h-1zM8 20h1v1h-1zM18 20h1v1h-1zM22 20h2v1h-2zM41 20h1v1h-1zM58 20h2v1h-2zM66 20h1v1h-1zM71 20h1v1h-1zM74 20h2v1h-2zM88 20h2v1h-2zM104 20h2v1h-2zM115 20h1v1h-1zM135 20h2v1h-2zM144 20h2v1h-2zM150 20h1v1h-1zM153 20h1v1h-1zM155 20h1v1h-1zM164 20h1v1h-1zM191 20h1v1h-1zM196 20h1v1h-1zM201 20h1v1h-1zM2 21h1v1h-1zM41 21h1v1h-1zM132 21h1v1h-1zM192 21h1v1h-1zM1 23h1v1h-1zM41 23h1v1h-1zM92 23h1v1h-1zM148 23h1v1h-1zM183 23h1v1h-1zM10 24h1v1h-1zM20 24h1v1h-1zM34 24h1v1h-1zM38 24h1v1h-1zM47 24h1v1h-1zM56 24h2v1h-2zM60 24h2v1h-2zM69 24h1v1h-1zM71 24h1v1h-1zM74 24h1v1h-1zM81 24h1v1h-1zM84 24h1v1h-1zM91 24h1v1h-1zM95 24h1v1h-1zM123 24h1v1h-1zM133 24h2v1h-2zM140 24h1v1h-1zM147 24h1v1h-1zM159 24h1v1h-1zM164 24h1v1h-1zM166 24h1v1h-1zM171 24h1v1h-1zM179 24h1v1h-1zM190 24h1v1h-1zM198 24h1v1h-1zM6 25h1v1h-1zM13 25h1v1h-1zM20 25h1v1h-1zM57 25h2v1h-2zM62 25h1v1h-1zM125 25h1v1h-1zM130 25h1v1h-1zM151 25h1v1h-1zM154 25h1v1h-1zM161 25h1v1h-1zM167 25h1v1h-1zM171 25h1v1h-1zM173 25h1v1h-1zM181 25h1v1h-1zM186 25h1v1h-1zM193 25h1v1h-1zM10 26h1v1h-1zM13 26h1v1h-1zM16 26h1v1h-1zM44 26h1v1h-1zM56 26h1v1h-1zM68 26h1v1h-1zM89 26h2v1h-2zM103 26h1v1h-1zM117 26h1v1h-1zM124 26h1v1h-1zM132 26h2v1h-2zM136 26h1v1h-1zM141 26h1v1h-1zM160 26h1v1h-1zM180 26h1v1h-1zM82 27h1v1h-1zM178 27h1v1h-1zM181 27h1v1h-1zM1 28h1v1h-1zM9 28h1v1h-1zM31 28h1v1h-1zM21 29h1v1h-1zM86 29h1v1h-1zM91 29h1v1h-1zM113 29h1v1h-1zM121 29h1v1h-1zM126 29h1v1h-1zM134 29h1v1h-1zM144 29h1v1h-1zM161 29h1v1h-1zM177 29h1v1h-1zM185 29h1v1h-1zM188 29h1v1h-1zM191 29h1v1h-1zM199 29h1v1h-1zM10 32h1v1h-1zM19 32h1v1h-1zM41 32h1v1h-1zM43 32h2v1h-2zM64 32h1v1h-1zM79 32h1v1h-1zM106 32h1v1h-1zM187 32h1v1h-1zM190 32h1v1h-1zM28 33h1v1h-1zM46 33h1v1h-1zM76 33h1v1h-1zM108 33h1v1h-1zM126 33h1v1h-1zM150 33h1v1h-1zM185 33h1v1h-1zM139 34h1v1h-1zM187 34h1v1h-1zM158 35h1v1h-1zM86 36h1v1h-1z"/>
<path fill="#db503b" d="M58 2h1v1h-1zM170 2h1v1h-1zM4 7h1v1h-1zM42 7h1v1h-1zM153 7h1v1h-1zM169 7h1v1h-1zM171 7h1v1h-1zM38 8h1v1h-1zM58 8h1v1h-1zM81 8h1v1h-1zM83 8h1v1h-1zM93 8h1v1h-1zM121 8h1v1h-1zM173 8h1v1h-1zM193 8h1v1h-1zM199 8h2v1h-2zM25 10h1v1h-1zM46 10h1v1h-1zM104 10h1v1h-1zM107 10h1v1h-1zM111 10h1v1h-1zM121 10h1v1h-1zM137 10h1v1h-1zM4 11h1v1h-1zM24 11h1v1h-1zM47 11h1v1h-1zM52 11h1v1h-1zM66 11h1v1h-1zM74 11h1v1h-1zM79 11h1v1h-1zM99 11h1v1h-1zM111 11h1v1h-1zM193 11h1v1h-1zM53 12h1v1h-1zM81 12h1v1h-1zM94 12h1v1h-1zM97 12h1v1h-1zM148 12h1v1h-1zM35 13h1v1h-1zM55 13h1v1h-1zM61 13h1v1h-1zM65 13h1v1h-1zM85 13h1v1h-1zM117 13h1v1h-1zM123 13h1v1h-1zM129 13h1v1h-1zM138 13h1v1h-1zM189 13h1v1h-1zM9 14h1v1h-1zM11 14h2v1h-2zM20 14h1v1h-1zM33 14h2v1h-2zM42 14h2v1h-2zM57 14h1v1h-1zM63 14h2v1h-2zM71 14h1v1h-1zM84 14h1v1h-1zM99 14h1v1h-1zM106 14h1v1h-1zM109 14h2v1h-2zM117 14h2v1h-2zM144 14h1v1h-1zM164 14h3v1h-3zM174 14h1v1h-1zM183 14h1v1h-1zM193 14h1v1h-1zM23 16h1v1h-1zM64 16h1v1h-1zM75 16h1v1h-1zM102 16h1v1h-1zM133 16h1v1h-1zM147 16h1v1h-1zM181 16h1v1h-1zM187 16h1v1h-1zM101 17h1v1h-1zM162 17h1v1h-1zM14 18h1v1h-1zM57 18h1v1h-1zM91 18h1v1h-1zM103 18h1v1h-1zM110 18h1v1h-1zM116 18h1v1h-1zM127 18h1v1h-1zM183 18h1v1h-1zM199 18h1v1h-1zM37 19h1v1h-1zM58 19h1v1h-1zM100 19h1v1h-1zM118 19h1v1h-1zM134 19h1v1h-1zM143 19h1v1h-1zM146 19h1v1h-1zM179 19h1v1h-1zM189 19h1v1h-1zM0 20h1v1h-1zM5 20h1v1h-1zM14 20h1v1h-1zM20 20h1v1h-1zM28 20h1v1h-1zM30 20h2v1h-2zM47 20h1v1h-1zM54 20h1v1h-1zM64 20h1v1h-1zM70 20h1v1h-1zM78 20h1v1h-1zM80 20h1v1h-1zM85 20h1v1h-1zM93 20h1v1h-1zM95 20h1v1h-1zM98 20h1v1h-1zM107 20h1v1h-1zM117 20h1v1h-1zM139 20h1v1h-1zM149 20h1v1h-1zM159 20h1v1h-1zM170 20h1v1h-1zM172 20h1v1h-1zM186 20h1v1h-1zM190 20h1v1h-1zM194 20h1v1h-1zM14 21h1v1h-1zM50 21h1v1h-1zM64 21h1v1h-1zM79 21h1v1h-1zM130 21h1v1h-1zM136 21h1v1h-1zM143 21h1v1h-1zM167 21h1v1h-1zM195 21h1v1h-1zM5 23h1v1h-1zM8 23h1v1h-1zM47 23h1v1h-1zM51 23h1v1h-1zM76 23h2v1h-2zM106 23h1v1h-1zM126 23h1v1h-1zM159 23h1v1h-1zM166 23h1v1h-1zM0 24h1v1h-1zM14 24h1v1h-1zM40 24h1v1h-1zM64 24h1v1h-1zM76 24h1v1h-1zM85 24h1v1h-1zM97 24h1v1h-1zM100 24h1v1h-1zM106 24h1v1h-1zM112 24h1v1h-1zM132 24h1v1h-1zM136 24h1v1h-1zM145 24h1v1h-1zM153 24h1v1h-1zM157 24h1v1h-1zM161 24h1v1h-1zM169 24h1v1h-1zM185 24h1v1h-1zM193 24h1v1h-1zM3 25h1v1h-1zM5 25h1v1h-1zM11 25h1v1h-1zM15 25h1v1h-1zM25 25h1v1h-1zM34 25h2v1h-2zM37 25h1v1h-1zM42 25h2v1h-2zM49 25h1v1h-1zM60 25h1v1h-1zM63 25h1v1h-1zM94 25h1v1h-1zM101 25h1v1h-1zM110 25h1v1h-1zM120 25h2v1h-2zM128 25h1v1h-1zM133 25h1v1h-1zM142 25h1v1h-1zM153 25h1v1h-1zM185 25h1v1h-1zM187 25h2v1h-2zM197 25h1v1h-1zM200 25h1v1h-1zM0 26h2v1h-2zM6 26h1v1h-1zM61 26h1v1h-1zM75 26h1v1h-1zM91 26h1v1h-1zM96 26h1v1h-1zM126 26h1v1h-1zM139 26h1v1h-1zM143 26h1v1h-1zM172 26h1v1h-1zM190 26h1v1h-1zM22 27h1v1h-1zM54 27h1v1h-1zM62 27h1v1h-1zM72 27h1v1h-1zM89 27h1v1h-1zM128 27h1v1h-1zM139 27h1v1h-1zM168 27h1v1h-1zM170 27h1v1h-1zM46 28h1v1h-1zM151 28h1v1h-1zM189 28h1v1h-1zM1 29h1v1h-1zM4 29h1v1h-1zM8 29h1v1h-1zM12 29h1v1h-1zM19 29h1v1h-1zM27 29h1v1h-1zM29 29h2v1h-2zM33 29h2v1h-2zM40 29h1v1h-1zM57 29h1v1h-1zM60 29h1v1h-1zM65 29h1v1h-1zM72 29h1v1h-1zM78 29h1v1h-1zM95 29h1v1h-1zM112 29h1v1h-1zM125 29h1v1h-1zM141 29h1v1h-1zM145 29h1v1h-1zM147 29h1v1h-1zM156 29h1v1h-1zM160 29h1v1h-1zM9 32h1v1h-1zM30 32h1v1h-1zM16 33h1v1h-1zM33 33h1v1h-1zM42 33h1v1h-1zM68 33h1v1h-1zM78 33h1v1h-1zM81 33h1v1h-1zM86 33h1v1h-1zM91 33h1v1h-1zM105 33h1v1h-1zM116 33h1v1h-1zM122 33h1v1h-1zM159 33h1v1h-1zM199 33h1v1h-1zM5 34h1v1h-1z"/>
<path fill="#e45a31" d="M184 5h1v1h-1zM113 6h1v1h-1zM12 7h1v1h-1zM149 7h1v1h-1zM184 7h1v1h-1zM5 8h1v1h-1zM30 8h1v1h-1zM63 8h1v1h-1zM135 8h1v1h-1zM138 8h1v1h-1zM154 8h1v1h-1zM168 8h1v1h-1zM198 8h1v1h-1zM12 10h2v1h-2zM32 10h1v1h-1zM68 10h1v1h-1zM75 10h1v1h-1zM88 10h1v1h-1zM100 10h1v1h-1zM125 10h2v1h-2zM133 10h1v1h-1zM135 10h1v1h-1zM146 10h1v1h-1zM153 10h1v1h-1zM163 10h1v1h-1zM172 10h2v1h-2zM189 10h1v1h-1zM15 11h1v1h-1zM64 11h1v1h-1zM159 11h1v1h-1zM22 12h1v1h-1zM38 12h1v1h-1zM46 12h1v1h-1zM60 12h1v1h-1zM69 12h1v1h-1zM112 12h1v1h-1zM115 12h1v1h-1zM46 13h2v1h-2zM50 13h1v1h-1zM72 13h1v1h-1zM86 13h2v1h-2zM139 13h1v1h-1zM146 13h1v1h-1zM164 13h1v1h-1zM180 13h1v1h-1zM2 14h1v1h-1zM8 14h1v1h-1zM13 14h2v1h-2zM23 14h1v1h-1zM29 14h1v1h-1zM36 14h1v1h-1zM49 14h2v1h-2zM69 14h1v1h-1zM89 14h1v1h-1zM96 14h1v1h-1zM105 14h1v1h-1zM114 14h1v1h-1zM121 14h1v1h-1zM138 14h1v1h-1zM146 14h1v1h-1zM153 14h1v1h-1zM160 14h1v1h-1zM170 14h1v1h-1zM176 14h1v1h-1zM195 14h1v1h-1zM199 14h1v1h-1zM201 14h1v1h-1zM0 16h1v1h-1zM6 16h1v1h-1zM28 16h2v1h-2zM58 16h1v1h-1zM91 16h1v1h-1zM131 16h1v1h-1zM155 16h1v1h-1zM161 16h1v1h-1zM175 16h1v1h-1zM182 16h1v1h-1zM201 16h1v1h-1zM105 17h1v1h-1zM138 17h1v1h-1zM29 18h1v1h-1zM117 18h1v1h-1zM139 18h1v1h-1zM149 18h1v1h-1zM6 19h1v1h-1zM92 19h1v1h-1zM97 19h1v1h-1zM153 19h1v1h-1zM170 19h1v1h-1zM4 20h1v1h-1zM16 20h1v1h-1zM19 20h1v1h-1zM24 20h2v1h-2zM35 20h1v1h-1zM42 20h1v1h-1zM44 20h2v1h-2zM91 20h1v1h-1zM96 20h2v1h-2zM125 20h1v1h-1zM140 20h1v1h-1zM151 20h1v1h-1zM171 20h1v1h-1zM176 20h1v1h-1zM183 20h2v1h-2zM189 20h1v1h-1zM193 20h1v1h-1zM200 20h1v1h-1zM0 21h1v1h-1zM3 21h2v1h-2zM6 21h1v1h-1zM13 21h1v1h-1zM20 21h2v1h-2zM37 21h1v1h-1zM39 21h1v1h-1zM42 21h1v1h-1zM44 21h1v1h-1zM49 21h1v1h-1zM58 21h1v1h-1zM60 21h1v1h-1zM65 21h1v1h-1zM71 21h1v1h-1zM75 21h1v1h-1zM94 21h1v1h-1zM101 21h1v1h-1zM119 21h2v1h-2zM124 21h1v1h-1zM140 21h1v1h-1zM147 21h3v1h-3zM152 21h1v1h-1zM157 21h1v1h-1zM163 21h1v1h-1zM100 22h1v1h-1zM157 22h1v1h-1zM2 23h1v1h-1zM18 23h1v1h-1zM25 23h1v1h-1zM32 23h1v1h-1zM50 23h1v1h-1zM52 23h1v1h-1zM73 23h1v1h-1zM83 23h1v1h-1zM99 23h1v1h-1zM105 23h1v1h-1zM108 23h1v1h-1zM115 23h1v1h-1zM131 23h1v1h-1zM138 23h1v1h-1zM145 23h1v1h-1zM188 23h1v1h-1zM199 23h1v1h-1zM2 24h1v1h-1zM8 24h1v1h-1zM16 24h1v1h-1zM25 24h1v1h-1zM39 24h1v1h-1zM49 24h1v1h-1zM65 24h1v1h-1zM68 24h1v1h-1zM77 24h3v1h-3zM83 24h1v1h-1zM98 24h1v1h-1zM110 24h1v1h-1zM121 24h1v1h-1zM138 24h1v1h-1zM156 24h1v1h-1zM163 24h1v1h-1zM170 24h1v1h-1zM178 24h1v1h-1zM187 24h1v1h-1zM189 24h1v1h-1zM192 24h1v1h-1zM8 25h1v1h-1zM21 25h1v1h-1zM23 25h1v1h-1zM38 25h1v1h-1zM40 25h1v1h-1zM44 25h1v1h-1zM76 25h1v1h-1zM81 25h2v1h-2zM97 25h1v1h-1zM99 25h2v1h-2zM112 25h1v1h-1zM124 25h1v1h-1zM127 25h1v1h-1zM132 25h1v1h-1zM139 25h1v1h-1zM159 25h1v1h-1zM163 25h1v1h-1zM172 25h1v1h-1zM177 25h1v1h-1zM2 26h1v1h-1zM12 26h1v1h-1zM24 26h2v1h-2zM35 26h1v1h-1zM47 26h1v1h-1zM69 26h1v1h-1zM112 26h1v1h-1zM122 26h1v1h-1zM131 26h1v1h-1zM197 26h1v1h-1zM1 27h1v1h-1zM11 27h1v1h-1zM48 27h1v1h-1zM80 27h1v1h-1zM96 27h1v1h-1zM113 27h1v1h-1zM134 27h2v1h-2zM165 27h1v1h-1zM185 27h1v1h-1zM189 27h3v1h-3zM11 28h1v1h-1zM0 29h1v1h-1zM6 29h2v1h-2zM10 29h2v1h-2zM23 29h1v1h-1zM47 29h2v1h-2zM54 29h1v1h-1zM58 29h1v1h-1zM64 29h1v1h-1zM73 29h1v1h-1zM79 29h1v1h-1zM83 29h1v1h-1zM87 29h2v1h-2zM94 29h1v1h-1zM109 29h2v1h-2zM124 29h1v1h-1zM166 29h1v1h-1zM169 29h1v1h-1zM172 29h1v1h-1zM182 29h1v1h-1zM31 31h1v1h-1zM67 31h1v1h-1zM72 31h1v1h-1zM103 31h1v1h-1zM113 31h1v1h-1zM117 31h1v1h-1zM120 31h1v1h-1zM138 31h1v1h-1zM143 31h1v1h-1zM152 31h1v1h-1zM187 31h1v1h-1zM83 32h1v1h-1zM110 32h1v1h-1zM177 32h1v1h-1zM184 32h1v1h-1zM197 32h1v1h-1zM20 33h1v1h-1zM36 33h1v1h-1zM53 33h1v1h-1zM66 33h1v1h-1zM75 33h1v1h-1zM124 33h1v1h-1zM140 33h1v1h-1zM147 33h1v1h-1zM170 33h1v1h-1zM173 33h1v1h-1zM176 33h2v1h-2zM22 34h1v1h-1zM37 34h1v1h-1zM41 36h1v1h-1zM44 36h1v1h-1z"/>
<path fill="#eb6628" d="M29 7h1v1h-1zM105 7h1v1h-1zM155 7h1v1h-1zM52 8h2v1h-2zM134 8h1v1h-1zM4 10h1v1h-1zM83 10h1v1h-1zM143 10h1v1h-1zM176 10h1v1h-1zM57 11h1v1h-1zM113 11h1v1h-1zM120 11h1v1h-1zM145 11h1v1h-1zM23 12h1v1h-1zM61 12h2v1h-2zM196 12h1v1h-1zM1 14h1v1h-1zM16 14h1v1h-1zM19 14h1v1h-1zM48 14h1v1h-1zM55 14h2v1h-2zM58 14h4v1h-4zM65 14h1v1h-1zM91 14h1v1h-1zM93 14h1v1h-1zM102 14h1v1h-1zM104 14h1v1h-1zM112 14h1v1h-1zM119 14h1v1h-1zM125 14h3v1h-3zM130 14h2v1h-2zM143 14h1v1h-1zM155 14h1v1h-1zM43 16h1v1h-1zM86 16h1v1h-1zM90 16h1v1h-1zM142 16h1v1h-1zM146 16h1v1h-1zM157 16h1v1h-1zM60 17h1v1h-1zM151 17h1v1h-1zM58 18h1v1h-1zM163 18h1v1h-1zM19 19h1v1h-1zM62 19h1v1h-1zM111 19h1v1h-1zM165 19h1v1h-1zM1 20h1v1h-1zM17 20h1v1h-1zM37 20h1v1h-1zM46 20h1v1h-1zM55 20h1v1h-1zM63 20h1v1h-1zM94 20h1v1h-1zM106 20h1v1h-1zM109 20h1v1h-1zM112 20h1v1h-1zM114 20h1v1h-1zM121 20h1v1h-1zM126 20h1v1h-1zM130 20h1v1h-1zM132 20h1v1h-1zM137 20h1v1h-1zM156 20h1v1h-1zM160 20h1v1h-1zM187 20h1v1h-1zM195 20h1v1h-1zM197 20h1v1h-1zM199 20h1v1h-1zM33 21h1v1h-1zM38 21h1v1h-1zM40 21h1v1h-1zM72 21h1v1h-1zM74 21h1v1h-1zM78 21h1v1h-1zM80 21h1v1h-1zM84 21h1v1h-1zM99 21h2v1h-2zM110 21h2v1h-2zM118 21h1v1h-1zM122 21h1v1h-1zM125 21h2v1h-2zM131 21h1v1h-1zM145 21h1v1h-1zM151 21h1v1h-1zM156 21h1v1h-1zM164 21h1v1h-1zM174 21h1v1h-1zM180 21h1v1h-1zM184 21h2v1h-2zM193 21h1v1h-1zM196 21h1v1h-1zM125 22h1v1h-1zM14 23h1v1h-1zM16 23h1v1h-1zM22 23h1v1h-1zM31 23h1v1h-1zM35 23h1v1h-1zM38 23h1v1h-1zM44 23h1v1h-1zM54 23h1v1h-1zM56 23h2v1h-2zM68 23h1v1h-1zM78 23h1v1h-1zM87 23h1v1h-1zM101 23h1v1h-1zM113 23h2v1h-2zM117 23h1v1h-1zM123 23h1v1h-1zM125 23h1v1h-1zM127 23h1v1h-1zM129 23h1v1h-1zM132 23h1v1h-1zM141 23h1v1h-1zM144 23h1v1h-1zM147 23h1v1h-1zM150 23h1v1h-1zM155 23h1v1h-1zM157 23h1v1h-1zM168 23h1v1h-1zM170 23h2v1h-2zM185 23h2v1h-2zM189 23h1v1h-1zM3 24h1v1h-1zM24 24h1v1h-1zM26 24h1v1h-1zM30 24h1v1h-1zM35 24h2v1h-2zM43 24h1v1h-1zM48 24h1v1h-1zM52 24h1v1h-1zM62 24h1v1h-1zM80 24h1v1h-1zM86 24h1v1h-1zM94 24h1v1h-1zM103 24h2v1h-2zM124 24h1v1h-1zM150 24h1v1h-1zM173 24h2v1h-2zM177 24h1v1h-1zM186 24h1v1h-1zM194 24h1v1h-1zM197 24h1v1h-1zM2 25h1v1h-1zM16 25h1v1h-1zM22 25h1v1h-1zM24 25h1v1h-1zM30 25h2v1h-2zM36 25h1v1h-1zM52 25h1v1h-1zM72 25h1v1h-1zM75 25h1v1h-1zM77 25h1v1h-1zM80 25h1v1h-1zM85 25h1v1h-1zM91 25h1v1h-1zM126 25h1v1h-1zM129 25h1v1h-1zM147 25h1v1h-1zM157 25h1v1h-1zM166 25h1v1h-1zM174 25h1v1h-1zM46 26h1v1h-1zM79 26h1v1h-1zM108 26h1v1h-1zM120 26h1v1h-1zM145 26h1v1h-1zM181 26h1v1h-1zM189 26h1v1h-1zM191 26h1v1h-1zM0 27h1v1h-1zM9 27h1v1h-1zM16 27h1v1h-1zM26 27h1v1h-1zM33 27h1v1h-1zM42 27h1v1h-1zM51 27h1v1h-1zM91 27h1v1h-1zM95 27h1v1h-1zM103 27h1v1h-1zM108 27h1v1h-1zM112 27h1v1h-1zM115 27h1v1h-1zM121 27h1v1h-1zM127 27h1v1h-1zM130 27h1v1h-1zM142 27h1v1h-1zM148 27h1v1h-1zM152 27h1v1h-1zM183 27h1v1h-1zM9 29h1v1h-1zM24 29h1v1h-1zM28 29h1v1h-1zM31 29h1v1h-1zM38 29h1v1h-1zM55 29h1v1h-1zM68 29h1v1h-1zM70 29h1v1h-1zM75 29h1v1h-1zM89 29h1v1h-1zM92 29h1v1h-1zM96 29h1v1h-1zM100 29h1v1h-1zM115 29h1v1h-1zM129 29h1v1h-1zM135 29h2v1h-2zM138 29h1v1h-1zM140 29h1v1h-1zM149 29h1v1h-1zM165 29h1v1h-1zM189 29h1v1h-1zM201 29h1v1h-1zM4 31h1v1h-1zM21 31h1v1h-1zM33 31h1v1h-1zM37 31h1v1h-1zM43 31h1v1h-1zM48 31h1v1h-1zM51 31h1v1h-1zM73 31h1v1h-1zM80 31h1v1h-1zM83 31h1v1h-1zM90 31h1v1h-1zM97 31h1v1h-1zM112 31h1v1h-1zM133 31h1v1h-1zM135 31h2v1h-2zM140 31h1v1h-1zM149 31h1v1h-1zM160 31h1v1h-1zM164 31h1v1h-1zM177 31h1v1h-1zM180 31h1v1h-1zM192 31h1v1h-1zM194 31h1v1h-1zM199 31h1v1h-1zM176 32h1v1h-1zM151 33h1v1h-1zM166 33h1v1h-1z"/>
<path fill="#f1731d" d="M194 7h1v1h-1zM12 8h1v1h-1zM35 8h1v1h-1zM110 8h1v1h-1zM142 8h1v1h-1zM146 8h1v1h-1zM2 10h1v1h-1zM90 10h1v1h-1zM102 10h1v1h-1zM116 10h1v1h-1zM142 10h1v1h-1zM156 10h1v1h-1zM164 10h1v1h-1zM161 11h1v1h-1zM16 12h1v1h-1zM20 12h1v1h-1zM29 12h1v1h-1zM132 12h1v1h-1zM162 12h1v1h-1zM175 12h1v1h-1zM185 12h1v1h-1zM34 13h1v1h-1zM48 13h1v1h-1zM151 13h1v1h-1zM160 13h1v1h-1zM171 13h1v1h-1zM6 14h1v1h-1zM21 14h1v1h-1zM31 14h1v1h-1zM37 14h1v1h-1zM46 14h1v1h-1zM77 14h4v1h-4zM97 14h1v1h-1zM107 14h1v1h-1zM115 14h1v1h-1zM120 14h1v1h-1zM128 14h2v1h-2zM135 14h1v1h-1zM141 14h1v1h-1zM152 14h1v1h-1zM156 14h1v1h-1zM159 14h1v1h-1zM168 14h2v1h-2zM173 14h1v1h-1zM185 14h1v1h-1zM197 14h1v1h-1zM51 16h1v1h-1zM150 16h1v1h-1zM97 17h1v1h-1zM7 18h2v1h-2zM19 18h1v1h-1zM147 19h1v1h-1zM176 19h1v1h-1zM3 20h1v1h-1zM13 20h1v1h-1zM36 20h1v1h-1zM61 20h2v1h-2zM76 20h1v1h-1zM79 20h1v1h-1zM84 20h1v1h-1zM86 20h1v1h-1zM110 20h1v1h-1zM122 20h2v1h-2zM138 20h1v1h-1zM163 20h1v1h-1zM167 20h2v1h-2zM174 20h1v1h-1zM7 21h2v1h-2zM18 21h1v1h-1zM26 21h2v1h-2zM30 21h1v1h-1zM32 21h1v1h-1zM36 21h1v1h-1zM43 21h1v1h-1zM59 21h1v1h-1zM62 21h1v1h-1zM67 21h2v1h-2zM70 21h1v1h-1zM76 21h1v1h-1zM81 21h3v1h-3zM85 21h1v1h-1zM97 21h2v1h-2zM104 21h1v1h-1zM107 21h2v1h-2zM116 21h1v1h-1zM121 21h1v1h-1zM123 21h1v1h-1zM128 21h2v1h-2zM133 21h1v1h-1zM135 21h1v1h-1zM139 21h1v1h-1zM144 21h1v1h-1zM153 21h2v1h-2zM158 21h1v1h-1zM160 21h2v1h-2zM165 21h1v1h-1zM170 21h1v1h-1zM172 21h1v1h-1zM175 21h1v1h-1zM177 21h2v1h-2zM182 21h2v1h-2zM194 21h1v1h-1zM200 21h1v1h-1zM62 22h1v1h-1zM74 22h1v1h-1zM78 22h1v1h-1zM96 22h1v1h-1zM120 22h1v1h-1zM164 22h1v1h-1zM177 22h1v1h-1zM196 22h1v1h-1zM13 23h1v1h-1zM17 23h1v1h-1zM20 23h1v1h-1zM30 23h1v1h-1zM33 23h1v1h-1zM42 23h1v1h-1zM45 23h2v1h-2zM67 23h1v1h-1zM72 23h1v1h-1zM75 23h1v1h-1zM86 23h1v1h-1zM93 23h4v1h-4zM103 23h2v1h-2zM109 23h1v1h-1zM112 23h1v1h-1zM116 23h1v1h-1zM121 23h1v1h-1zM130 23h1v1h-1zM135 23h1v1h-1zM137 23h1v1h-1zM139 23h1v1h-1zM146 23h1v1h-1zM158 23h1v1h-1zM177 23h1v1h-1zM182 23h1v1h-1zM195 23h1v1h-1zM198 23h1v1h-1zM200 23h2v1h-2zM7 24h1v1h-1zM27 24h2v1h-2zM31 24h2v1h-2zM44 24h2v1h-2zM70 24h1v1h-1zM151 24h2v1h-2zM155 24h1v1h-1zM158 24h1v1h-1zM184 24h1v1h-1zM188 24h1v1h-1zM201 24h1v1h-1zM10 25h1v1h-1zM12 25h1v1h-1zM26 25h2v1h-2zM39 25h1v1h-1zM46 25h1v1h-1zM66 25h2v1h-2zM73 25h1v1h-1zM88 25h2v1h-2zM102 25h1v1h-1zM115 25h1v1h-1zM134 25h1v1h-1zM141 25h1v1h-1zM149 25h1v1h-1zM170 25h1v1h-1zM189 25h1v1h-1zM191 25h2v1h-2zM199 25h1v1h-1zM7 26h1v1h-1zM164 26h1v1h-1zM185 26h1v1h-1zM7 27h1v1h-1zM23 27h2v1h-2zM36 27h1v1h-1zM41 27h1v1h-1zM50 27h1v1h-1zM58 27h1v1h-1zM66 27h1v1h-1zM68 27h1v1h-1zM78 27h1v1h-1zM87 27h1v1h-1zM97 27h3v1h-3zM109 27h2v1h-2zM118 27h1v1h-1zM125 27h1v1h-1zM129 27h1v1h-1zM136 27h1v1h-1zM140 27h1v1h-1zM145 27h1v1h-1zM147 27h1v1h-1zM154 27h2v1h-2zM164 27h1v1h-1zM173 27h2v1h-2zM182 27h1v1h-1zM193 27h1v1h-1zM195 27h1v1h-1zM26 29h1v1h-1zM32 29h1v1h-1zM35 29h1v1h-1zM42 29h1v1h-1zM45 29h2v1h-2zM51 29h1v1h-1zM82 29h1v1h-1zM108 29h1v1h-1zM122 29h1v1h-1zM128 29h1v1h-1zM131 29h1v1h-1zM133 29h1v1h-1zM148 29h1v1h-1zM180 29h1v1h-1zM9 31h1v1h-1zM14 31h1v1h-1zM23 31h1v1h-1zM25 31h1v1h-1zM27 31h1v1h-1zM45 31h1v1h-1zM63 31h1v1h-1zM66 31h1v1h-1zM77 31h2v1h-2zM87 31h1v1h-1zM92 31h1v1h-1zM110 31h1v1h-1zM124 31h2v1h-2zM134 31h1v1h-1zM155 31h1v1h-1zM174 31h1v1h-1zM183 31h1v1h-1zM189 31h1v1h-1zM193 31h1v1h-1zM196 31h1v1h-1zM16 32h1v1h-1zM59 33h1v1h-1zM90 33h1v1h-1zM127 33h1v1h-1zM143 33h1v1h-1zM196 33h1v1h-1zM40 34h1v1h-1z"/>
<path fill="#f68013" d="M37 8h1v1h-1zM98 8h1v1h-1zM177 8h1v1h-1zM18 10h1v1h-1zM84 10h1v1h-1zM71 11h1v1h-1zM153 11h1v1h-1zM86 12h1v1h-1zM197 12h1v1h-1zM38 13h1v1h-1zM77 13h1v1h-1zM35 14h1v1h-1zM39 14h1v1h-1zM53 14h1v1h-1zM74 14h1v1h-1zM76 14h1v1h-1zM81 14h1v1h-1zM95 14h1v1h-1zM122 14h1v1h-1zM142 14h1v1h-1zM145 14h1v1h-1zM181 14h1v1h-1zM190 14h2v1h-2zM194 14h1v1h-1zM93 18h1v1h-1zM10 20h1v1h-1zM27 20h1v1h-1zM34 20h1v1h-1zM38 20h1v1h-1zM40 20h1v1h-1zM56 20h1v1h-1zM77 20h1v1h-1zM83 20h1v1h-1zM87 20h1v1h-1zM116 20h1v1h-1zM119 20h1v1h-1zM127 20h1v1h-1zM154 20h1v1h-1zM166 20h1v1h-1zM175 20h1v1h-1zM1 21h1v1h-1zM9 21h2v1h-2zM22 21h1v1h-1zM25 21h1v1h-1zM31 21h1v1h-1zM55 21h1v1h-1zM57 21h1v1h-1zM69 21h1v1h-1zM73 21h1v1h-1zM86 21h2v1h-2zM89 21h1v1h-1zM91 21h2v1h-2zM112 21h1v1h-1zM114 21h2v1h-2zM117 21h1v1h-1zM138 21h1v1h-1zM141 21h1v1h-1zM150 21h1v1h-1zM155 21h1v1h-1zM168 21h1v1h-1zM176 21h1v1h-1zM186 21h2v1h-2zM189 21h1v1h-1zM199 21h1v1h-1zM201 21h1v1h-1zM63 22h1v1h-1zM112 22h1v1h-1zM192 22h1v1h-1zM3 23h1v1h-1zM6 23h2v1h-2zM24 23h1v1h-1zM28 23h1v1h-1zM34 23h1v1h-1zM55 23h1v1h-1zM63 23h2v1h-2zM66 23h1v1h-1zM69 23h2v1h-2zM74 23h1v1h-1zM82 23h1v1h-1zM102 23h1v1h-1zM107 23h1v1h-1zM118 23h1v1h-1zM122 23h1v1h-1zM128 23h1v1h-1zM142 23h2v1h-2zM149 23h1v1h-1zM151 23h1v1h-1zM154 23h1v1h-1zM162 23h3v1h-3zM167 23h1v1h-1zM169 23h1v1h-1zM172 23h1v1h-1zM176 23h1v1h-1zM181 23h1v1h-1zM187 23h1v1h-1zM12 24h1v1h-1zM33 24h1v1h-1zM58 24h1v1h-1zM99 24h1v1h-1zM139 24h1v1h-1zM149 24h1v1h-1zM167 24h1v1h-1zM32 25h1v1h-1zM41 25h1v1h-1zM50 25h1v1h-1zM71 25h1v1h-1zM79 25h1v1h-1zM93 25h1v1h-1zM114 25h1v1h-1zM135 25h1v1h-1zM148 25h1v1h-1zM150 25h1v1h-1zM162 25h1v1h-1zM168 25h1v1h-1zM175 25h1v1h-1zM190 25h1v1h-1zM196 25h1v1h-1zM201 25h1v1h-1zM110 26h1v1h-1zM162 26h1v1h-1zM2 27h1v1h-1zM4 27h2v1h-2zM10 27h1v1h-1zM19 27h1v1h-1zM29 27h1v1h-1zM37 27h1v1h-1zM44 27h1v1h-1zM52 27h1v1h-1zM55 27h1v1h-1zM61 27h1v1h-1zM63 27h2v1h-2zM70 27h1v1h-1zM74 27h1v1h-1zM81 27h1v1h-1zM88 27h1v1h-1zM104 27h1v1h-1zM107 27h1v1h-1zM111 27h1v1h-1zM117 27h1v1h-1zM124 27h1v1h-1zM143 27h2v1h-2zM156 27h2v1h-2zM166 27h2v1h-2zM172 27h1v1h-1zM175 27h1v1h-1zM177 27h1v1h-1zM179 27h1v1h-1zM184 27h1v1h-1zM188 27h1v1h-1zM196 27h2v1h-2zM13 29h1v1h-1zM22 29h1v1h-1zM39 29h1v1h-1zM44 29h1v1h-1zM56 29h1v1h-1zM61 29h2v1h-2zM66 29h1v1h-1zM99 29h1v1h-1zM114 29h1v1h-1zM118 29h1v1h-1zM152 29h2v1h-2zM155 29h1v1h-1zM170 29h1v1h-1zM198 29h1v1h-1zM2 31h1v1h-1zM5 31h2v1h-2zM8 31h1v1h-1zM13 31h1v1h-1zM18 31h1v1h-1zM20 31h1v1h-1zM42 31h1v1h-1zM46 31h2v1h-2zM56 31h1v1h-1zM70 31h2v1h-2zM82 31h1v1h-1zM89 31h1v1h-1zM105 31h2v1h-2zM111 31h1v1h-1zM122 31h2v1h-2zM129 31h2v1h-2zM137 31h1v1h-1zM139 31h1v1h-1zM141 31h2v1h-2zM144 31h1v1h-1zM148 31h1v1h-1zM156 31h2v1h-2zM159 31h1v1h-1zM165 31h1v1h-1zM182 31h1v1h-1zM184 31h1v1h-1zM191 31h1v1h-1zM195 31h1v1h-1zM198 31h1v1h-1zM75 32h1v1h-1zM188 33h1v1h-1zM0 34h1v1h-1z"/>
<path fill="#f98e09" d="M189 7h1v1h-1zM37 10h1v1h-1zM56 10h1v1h-1zM24 14h1v1h-1zM32 14h1v1h-1zM86 14h1v1h-1zM179 14h2v1h-2zM87 16h1v1h-1zM111 18h1v1h-1zM46 19h1v1h-1zM195 19h1v1h-1zM49 20h1v1h-1zM73 20h1v1h-1zM92 20h1v1h-1zM29 21h1v1h-1zM34 21h1v1h-1zM48 21h1v1h-1zM51 21h1v1h-1zM53 21h1v1h-1zM56 21h1v1h-1zM77 21h1v1h-1zM88 21h1v1h-1zM102 21h1v1h-1zM105 21h1v1h-1zM109 21h1v1h-1zM127 21h1v1h-1zM134 21h1v1h-1zM137 21h1v1h-1zM142 21h1v1h-1zM166 21h1v1h-1zM169 21h1v1h-1zM171 21h1v1h-1zM179 21h1v1h-1zM181 21h1v1h-1zM6 22h1v1h-1zM64 22h1v1h-1zM68 22h1v1h-1zM76 22h1v1h-1zM79 22h1v1h-1zM97 22h1v1h-1zM104 22h1v1h-1zM110 22h1v1h-1zM126 22h1v1h-1zM154 22h1v1h-1zM167 22h1v1h-1zM187 22h1v1h-1zM193 22h1v1h-1zM0 23h1v1h-1zM10 23h1v1h-1zM12 23h1v1h-1zM23 23h1v1h-1zM26 23h2v1h-2zM29 23h1v1h-1zM36 23h2v1h-2zM43 23h1v1h-1zM58 23h2v1h-2zM65 23h1v1h-1zM71 23h1v1h-1zM80 23h2v1h-2zM84 23h1v1h-1zM88 23h1v1h-1zM90 23h1v1h-1zM97 23h2v1h-2zM100 23h1v1h-1zM133 23h1v1h-1zM136 23h1v1h-1zM140 23h1v1h-1zM160 23h2v1h-2zM165 23h1v1h-1zM175 23h1v1h-1zM178 23h1v1h-1zM184 23h1v1h-1zM191 23h1v1h-1zM193 23h1v1h-1zM196 23h1v1h-1zM19 24h1v1h-1zM51 24h1v1h-1zM54 24h1v1h-1zM102 24h1v1h-1zM137 24h1v1h-1zM0 25h1v1h-1zM28 25h1v1h-1zM55 25h1v1h-1zM59 25h1v1h-1zM65 25h1v1h-1zM68 25h1v1h-1zM140 25h1v1h-1zM158 25h1v1h-1zM95 26h1v1h-1zM194 26h1v1h-1zM3 27h1v1h-1zM12 27h1v1h-1zM17 27h1v1h-1zM21 27h1v1h-1zM28 27h1v1h-1zM30 27h2v1h-2zM40 27h1v1h-1zM43 27h1v1h-1zM45 27h1v1h-1zM47 27h1v1h-1zM59 27h1v1h-1zM65 27h1v1h-1zM69 27h1v1h-1zM71 27h1v1h-1zM76 27h1v1h-1zM83 27h1v1h-1zM85 27h2v1h-2zM90 27h1v1h-1zM92 27h1v1h-1zM94 27h1v1h-1zM106 27h1v1h-1zM116 27h1v1h-1zM119 27h1v1h-1zM132 27h2v1h-2zM141 27h1v1h-1zM149 27h1v1h-1zM158 27h1v1h-1zM160 27h1v1h-1zM162 27h1v1h-1zM171 27h1v1h-1zM176 27h1v1h-1zM186 27h2v1h-2zM194 27h1v1h-1zM200 27h2v1h-2zM16 29h1v1h-1zM20 29h1v1h-1zM25 29h1v1h-1zM43 29h1v1h-1zM63 29h1v1h-1zM102 29h1v1h-1zM107 29h1v1h-1zM143 29h1v1h-1zM7 31h1v1h-1zM12 31h1v1h-1zM17 31h1v1h-1zM28 31h1v1h-1zM36 31h1v1h-1zM38 31h2v1h-2zM50 31h1v1h-1zM52 31h1v1h-1zM69 31h1v1h-1zM74 31h3v1h-3zM79 31h1v1h-1zM81 31h1v1h-1zM88 31h1v1h-1zM91 31h1v1h-1zM93 31h2v1h-2zM100 31h2v1h-2zM104 31h1v1h-1zM108 31h1v1h-1zM116 31h1v1h-1zM121 31h1v1h-1zM127 31h1v1h-1zM132 31h1v1h-1zM145 31h1v1h-1zM147 31h1v1h-1zM154 31h1v1h-1zM158 31h1v1h-1zM173 31h1v1h-1zM179 31h1v1h-1zM181 31h1v1h-1zM185 31h1v1h-1zM197 31h1v1h-1zM15 32h1v1h-1z"/>
<path fill="#fb9d07" d="M169 8h1v1h-1zM179 8h1v1h-1zM164 12h1v1h-1zM90 13h1v1h-1zM83 14h1v1h-1zM157 14h1v1h-1zM12 20h1v1h-1zM11 21h1v1h-1zM19 21h1v1h-1zM35 21h1v1h-1zM46 21h2v1h-2zM52 21h1v1h-1zM90 21h1v1h-1zM93 21h1v1h-1zM95 21h2v1h-2zM103 21h1v1h-1zM106 21h1v1h-1zM113 21h1v1h-1zM146 21h1v1h-1zM162 21h1v1h-1zM173 21h1v1h-1zM188 21h1v1h-1zM190 21h1v1h-1zM13 22h1v1h-1zM17 22h1v1h-1zM72 22h1v1h-1zM90 22h1v1h-1zM108 22h1v1h-1zM114 22h1v1h-1zM118 22h1v1h-1zM123 22h1v1h-1zM142 22h1v1h-1zM144 22h1v1h-1zM161 22h1v1h-1zM171 22h1v1h-1zM180 22h1v1h-1zM185 22h1v1h-1zM189 22h1v1h-1zM200 22h1v1h-1zM15 23h1v1h-1zM53 23h1v1h-1zM61 23h2v1h-2zM79 23h1v1h-1zM89 23h1v1h-1zM120 23h1v1h-1zM134 23h1v1h-1zM156 23h1v1h-1zM173 23h2v1h-2zM190 23h1v1h-1zM192 23h1v1h-1zM194 23h1v1h-1zM197 23h1v1h-1zM53 24h1v1h-1zM72 24h1v1h-1zM115 24h1v1h-1zM119 24h1v1h-1zM128 24h1v1h-1zM105 25h1v1h-1zM122 25h1v1h-1zM178 25h1v1h-1zM183 25h1v1h-1zM48 26h1v1h-1zM119 26h1v1h-1zM8 27h1v1h-1zM14 27h1v1h-1zM25 27h1v1h-1zM27 27h1v1h-1zM34 27h1v1h-1zM38 27h1v1h-1zM46 27h1v1h-1zM49 27h1v1h-1zM56 27h2v1h-2zM60 27h1v1h-1zM84 27h1v1h-1zM105 27h1v1h-1zM120 27h1v1h-1zM126 27h1v1h-1zM131 27h1v1h-1zM137 27h1v1h-1zM159 27h1v1h-1zM180 27h1v1h-1zM198 27h1v1h-1zM17 29h2v1h-2zM36 29h1v1h-1zM0 31h1v1h-1zM10 31h1v1h-1zM16 31h1v1h-1zM19 31h1v1h-1zM22 31h1v1h-1zM32 31h1v1h-1zM40 31h2v1h-2zM58 31h5v1h-5zM64 31h1v1h-1zM68 31h1v1h-1zM84 31h2v1h-2zM96 31h1v1h-1zM98 31h2v1h-2zM109 31h1v1h-1zM118 31h1v1h-1zM131 31h1v1h-1zM146 31h1v1h-1zM150 31h2v1h-2zM153 31h1v1h-1zM161 31h2v1h-2zM166 31h1v1h-1zM172 31h1v1h-1zM175 31h1v1h-1zM178 31h1v1h-1zM186 31h1v1h-1zM188 31h1v1h-1zM200 31h2v1h-2zM191 32h1v1h-1z"/>
<path fill="#fcac11" d="M143 13h1v1h-1zM124 14h1v1h-1zM133 14h1v1h-1zM167 14h1v1h-1zM192 14h1v1h-1zM23 21h1v1h-1zM28 21h1v1h-1zM45 21h1v1h-1zM54 21h1v1h-1zM61 21h1v1h-1zM159 21h1v1h-1zM197 21h2v1h-2zM4 22h1v1h-1zM24 22h1v1h-1zM30 22h1v1h-1zM32 22h1v1h-1zM49 22h1v1h-1zM55 22h1v1h-1zM65 22h1v1h-1zM75 22h1v1h-1zM77 22h1v1h-1zM81 22h1v1h-1zM93 22h1v1h-1zM101 22h2v1h-2zM111 22h1v1h-1zM122 22h1v1h-1zM124 22h1v1h-1zM129 22h1v1h-1zM132 22h1v1h-1zM134 22h1v1h-1zM136 22h1v1h-1zM139 22h1v1h-1zM145 22h1v1h-1zM147 22h1v1h-1zM149 22h3v1h-3zM194 22h1v1h-1zM197 22h1v1h-1zM201 22h1v1h-1zM9 23h1v1h-1zM40 23h1v1h-1zM85 23h1v1h-1zM152 23h1v1h-1zM180 23h1v1h-1zM111 24h1v1h-1zM114 24h1v1h-1zM14 25h1v1h-1zM48 25h1v1h-1zM17 26h1v1h-1zM33 26h1v1h-1zM73 26h1v1h-1zM77 26h1v1h-1zM192 26h1v1h-1zM6 27h1v1h-1zM13 27h1v1h-1zM15 27h1v1h-1zM18 27h1v1h-1zM32 27h1v1h-1zM35 27h1v1h-1zM53 27h1v1h-1zM67 27h1v1h-1zM73 27h1v1h-1zM75 27h1v1h-1zM101 27h1v1h-1zM123 27h1v1h-1zM150 27h1v1h-1zM169 27h1v1h-1zM192 27h1v1h-1zM5 29h1v1h-1zM59 29h1v1h-1zM1 31h1v1h-1zM3 31h1v1h-1zM24 31h1v1h-1zM29 31h2v1h-2zM34 31h1v1h-1zM53 31h3v1h-3zM57 31h1v1h-1zM65 31h1v1h-1zM115 31h1v1h-1zM119 31h1v1h-1zM163 31h1v1h-1zM167 31h4v1h-4zM190 31h1v1h-1z"/>
<path fill="#fbbc21" d="M14 13h1v1h-1zM28 14h1v1h-1zM134 14h1v1h-1zM12 21h1v1h-1zM17 21h1v1h-1zM63 21h1v1h-1zM1 22h2v1h-2zM10 22h1v1h-1zM19 22h1v1h-1zM29 22h1v1h-1zM31 22h1v1h-1zM36 22h1v1h-1zM39 22h1v1h-1zM41 22h1v1h-1zM45 22h1v1h-1zM47 22h1v1h-1zM54 22h1v1h-1zM58 22h1v1h-1zM67 22h1v1h-1zM69 22h2v1h-2zM73 22h1v1h-1zM83 22h1v1h-1zM85 22h1v1h-1zM89 22h1v1h-1zM91 22h1v1h-1zM95 22h1v1h-1zM98 22h2v1h-2zM103 22h1v1h-1zM105 22h1v1h-1zM119 22h1v1h-1zM128 22h1v1h-1zM133 22h1v1h-1zM146 22h1v1h-1zM156 22h1v1h-1zM160 22h1v1h-1zM163 22h1v1h-1zM169 22h1v1h-1zM173 22h1v1h-1zM175 22h1v1h-1zM179 22h1v1h-1zM181 22h1v1h-1zM184 22h1v1h-1zM190 22h2v1h-2zM195 22h1v1h-1zM11 23h1v1h-1zM19 23h1v1h-1zM49 23h1v1h-1zM110 23h1v1h-1zM153 23h1v1h-1zM179 23h1v1h-1zM128 26h1v1h-1zM39 27h1v1h-1zM77 27h1v1h-1zM100 27h1v1h-1zM102 27h1v1h-1zM122 27h1v1h-1zM153 27h1v1h-1zM163 27h1v1h-1zM104 29h1v1h-1zM11 31h1v1h-1zM26 31h1v1h-1zM35 31h1v1h-1zM49 31h1v1h-1zM102 31h1v1h-1zM107 31h1v1h-1zM114 31h1v1h-1zM126 31h1v1h-1zM128 31h1v1h-1zM171 31h1v1h-1zM176 31h1v1h-1z"/>
<path fill="#f9cb35" d="M41 8h1v1h-1zM98 10h1v1h-1zM0 22h1v1h-1zM11 22h1v1h-1zM23 22h1v1h-1zM28 22h1v1h-1zM37 22h1v1h-1zM40 22h1v1h-1zM50 22h2v1h-2zM53 22h1v1h-1zM57 22h1v1h-1zM66 22h1v1h-1zM71 22h1v1h-1zM86 22h2v1h-2zM115 22h1v1h-1zM117 22h1v1h-1zM127 22h1v1h-1zM130 22h1v1h-1zM135 22h1v1h-1zM140 22h1v1h-1zM152 22h1v1h-1zM162 22h1v1h-1zM176 22h1v1h-1zM178 22h1v1h-1zM186 22h1v1h-1zM188 22h1v1h-1zM198 22h1v1h-1zM4 23h1v1h-1zM21 23h1v1h-1zM48 23h1v1h-1zM60 23h1v1h-1zM119 23h1v1h-1zM11 24h1v1h-1zM108 24h1v1h-1zM146 27h1v1h-1zM80 29h1v1h-1zM86 31h1v1h-1zM95 31h1v1h-1z"/>
<path fill="#f5db4c" d="M112 13h1v1h-1zM151 14h1v1h-1zM66 21h1v1h-1zM5 22h1v1h-1zM7 22h1v1h-1zM9 22h1v1h-1zM14 22h3v1h-3zM21 22h1v1h-1zM26 22h1v1h-1zM33 22h2v1h-2zM38 22h1v1h-1zM43 22h1v1h-1zM52 22h1v1h-1zM56 22h1v1h-1zM80 22h1v1h-1zM82 22h1v1h-1zM84 22h1v1h-1zM106 22h1v1h-1zM121 22h1v1h-1zM131 22h1v1h-1zM137 22h2v1h-2zM141 22h1v1h-1zM143 22h1v1h-1zM153 22h1v1h-1zM158 22h1v1h-1zM172 22h1v1h-1zM174 22h1v1h-1zM182 22h1v1h-1zM199 22h1v1h-1zM124 23h1v1h-1zM138 27h1v1h-1zM69 29h1v1h-1z"/>
<path fill="#f2ea69" d="M18 22h1v1h-1zM35 22h1v1h-1zM42 22h1v1h-1zM88 22h1v1h-1zM92 22h1v1h-1zM109 22h1v1h-1zM116 22h1v1h-1zM159 22h1v1h-1zM165 22h2v1h-2zM170 22h1v1h-1zM183 22h1v1h-1zM143 25h1v1h-1z"/>
<path fill="#f3f68a" d="M3 22h1v1h-1zM8 22h1v1h-1zM12 22h1v1h-1zM20 22h1v1h-1zM22 22h1v1h-1zM25 22h1v1h-1zM27 22h1v1h-1zM44 22h1v1h-1zM46 22h1v1h-1zM48 22h1v1h-1zM59 22h3v1h-3zM94 22h1v1h-1zM107 22h1v1h-1zM113 22h1v1h-1zM148 22h1v1h-1zM155 22h1v1h-1zM168 22h1v1h-1z"/>
</g>
<g transform="translate(781.0,979.0) scale(2.50000,28.0)" shape-rendering="crispEdges">
<path fill="#210c4a" d="M4 9h1v1h-1zM33 14h1v1h-1zM14 15h1v1h-1zM26 23h1v1h-1zM7 24h1v1h-1zM35 25h1v1h-1z"/>
<path fill="#2f0a5b" d="M12 9h1v1h-1zM15 9h1v1h-1zM23 9h1v1h-1zM26 14h1v1h-1zM28 24h1v1h-1z"/>
<path fill="#3d0965" d="M17 2h1v1h-1zM2 6h1v1h-1zM37 6h1v1h-1zM41 6h1v1h-1zM21 9h1v1h-1zM35 14h1v1h-1zM13 15h1v1h-1zM37 22h1v1h-1zM0 25h1v1h-1zM30 27h1v1h-1zM9 31h1v1h-1zM22 35h1v1h-1z"/>
<path fill="#4a0c6b" d="M25 0h1v1h-1zM32 14h1v1h-1zM4 15h1v1h-1zM15 15h1v1h-1zM39 24h1v1h-1zM21 25h1v1h-1zM3 26h1v1h-1zM17 26h1v1h-1zM29 27h1v1h-1zM3 33h1v1h-1zM28 33h1v1h-1zM32 35h1v1h-1z"/>
<path fill="#57106e" d="M16 0h1v1h-1zM20 0h1v1h-1zM37 0h1v1h-1zM7 2h1v1h-1zM28 2h1v1h-1zM35 2h1v1h-1zM6 12h1v1h-1zM5 15h1v1h-1zM26 15h1v1h-1zM25 23h1v1h-1zM35 24h1v1h-1zM37 24h1v1h-1zM19 26h1v1h-1zM41 29h1v1h-1zM20 35h1v1h-1zM10 36h1v1h-1z"/>
<path fill="#64156e" d="M14 0h1v1h-1zM22 1h1v1h-1zM36 1h1v1h-1zM10 9h1v1h-1zM26 9h1v1h-1zM22 14h1v1h-1zM6 15h1v1h-1zM33 15h1v1h-1zM35 15h1v1h-1zM30 18h1v1h-1zM33 24h1v1h-1zM18 26h1v1h-1zM20 26h1v1h-1zM37 26h1v1h-1zM30 30h1v1h-1zM37 33h1v1h-1zM17 35h1v1h-1zM26 35h1v1h-1zM35 35h1v1h-1z"/>
<path fill="#71196e" d="M13 0h1v1h-1zM20 1h1v1h-1zM15 2h1v1h-1zM29 2h3v1h-3zM7 6h1v1h-1zM12 6h1v1h-1zM16 6h1v1h-1zM35 9h1v1h-1zM5 14h1v1h-1zM7 15h1v1h-1zM31 15h2v1h-2zM3 18h1v1h-1zM14 22h1v1h-1zM19 23h1v1h-1zM37 25h1v1h-1zM0 26h1v1h-1zM10 26h1v1h-1zM23 26h1v1h-1zM26 26h1v1h-1zM32 26h1v1h-1zM15 27h1v1h-1zM10 28h1v1h-1zM12 28h1v1h-1zM38 35h1v1h-1z"/>
<path fill="#7d1e6d" d="M7 0h1v1h-1zM23 0h1v1h-1zM6 1h1v1h-1zM34 1h1v1h-1zM12 5h1v1h-1zM6 6h1v1h-1zM21 6h1v1h-1zM31 6h1v1h-1zM39 6h1v1h-1zM0 9h1v1h-1zM9 9h1v1h-1zM11 9h1v1h-1zM28 12h1v1h-1zM35 12h1v1h-1zM6 14h1v1h-1zM10 15h1v1h-1zM12 15h1v1h-1zM22 15h1v1h-1zM38 15h1v1h-1zM42 15h1v1h-1zM19 18h1v1h-1zM38 22h1v1h-1zM17 23h1v1h-1zM22 23h2v1h-2zM36 23h1v1h-1zM4 24h1v1h-1zM39 25h1v1h-1zM42 25h1v1h-1zM1 26h1v1h-1zM7 26h1v1h-1zM34 26h1v1h-1zM39 26h1v1h-1zM23 27h1v1h-1zM25 27h1v1h-1zM32 27h1v1h-1zM42 27h1v1h-1zM2 28h1v1h-1zM26 29h1v1h-1zM4 30h1v1h-1zM12 31h1v1h-1zM34 31h1v1h-1zM32 33h1v1h-1zM23 35h1v1h-1z"/>
<path fill="#8a226a" d="M30 0h1v1h-1zM13 1h1v1h-1zM4 2h1v1h-1zM6 2h1v1h-1zM26 2h1v1h-1zM40 2h1v1h-1zM1 6h1v1h-1zM24 6h1v1h-1zM16 9h1v1h-1zM30 9h1v1h-1zM14 14h1v1h-1zM0 15h1v1h-1zM30 15h1v1h-1zM4 18h1v1h-1zM25 18h1v1h-1zM29 18h1v1h-1zM2 22h1v1h-1zM32 22h1v1h-1zM25 25h1v1h-1zM22 26h1v1h-1zM31 26h1v1h-1zM35 27h1v1h-1zM38 27h1v1h-1zM19 28h1v1h-1zM24 28h1v1h-1zM3 31h1v1h-1zM5 35h1v1h-1z"/>
<path fill="#972766" d="M27 0h1v1h-1zM11 1h1v1h-1zM27 1h2v1h-2zM37 1h1v1h-1zM41 1h1v1h-1zM1 2h1v1h-1zM14 2h1v1h-1zM24 2h1v1h-1zM27 2h1v1h-1zM11 6h1v1h-1zM13 6h2v1h-2zM26 6h1v1h-1zM32 6h1v1h-1zM35 6h1v1h-1zM38 6h1v1h-1zM40 6h1v1h-1zM7 9h1v1h-1zM24 9h1v1h-1zM31 11h1v1h-1zM18 12h1v1h-1zM31 12h1v1h-1zM40 12h1v1h-1zM33 18h1v1h-1zM4 22h1v1h-1zM26 22h1v1h-1zM18 23h1v1h-1zM32 25h1v1h-1zM34 25h1v1h-1zM21 26h1v1h-1zM27 26h1v1h-1zM38 26h1v1h-1zM25 33h1v1h-1zM42 33h1v1h-1z"/>
<path fill="#a32c61" d="M33 0h1v1h-1zM4 1h1v1h-1zM16 1h1v1h-1zM21 1h1v1h-1zM25 1h2v1h-2zM31 1h1v1h-1zM8 2h1v1h-1zM11 2h2v1h-2zM32 2h1v1h-1zM34 2h1v1h-1zM42 2h1v1h-1zM6 5h1v1h-1zM15 5h1v1h-1zM15 6h1v1h-1zM23 6h1v1h-1zM25 6h1v1h-1zM28 6h1v1h-1zM0 11h1v1h-1zM8 12h1v1h-1zM41 12h1v1h-1zM24 15h1v1h-1zM13 17h1v1h-1zM22 17h1v1h-1zM15 18h1v1h-1zM22 18h1v1h-1zM38 18h1v1h-1zM15 22h1v1h-1zM18 22h1v1h-1zM34 23h1v1h-1zM40 23h1v1h-1zM23 25h1v1h-1zM25 26h1v1h-1zM20 27h1v1h-1zM23 31h1v1h-1zM10 32h1v1h-1zM7 33h1v1h-1zM28 35h1v1h-1z"/>
<path fill="#b0315b" d="M26 0h1v1h-1zM32 0h1v1h-1zM3 1h1v1h-1zM9 1h1v1h-1zM35 1h1v1h-1zM13 2h1v1h-1zM19 2h1v1h-1zM33 2h1v1h-1zM4 3h1v1h-1zM3 5h1v1h-1zM21 5h1v1h-1zM38 5h1v1h-1zM5 6h1v1h-1zM8 6h1v1h-1zM10 6h1v1h-1zM18 6h1v1h-1zM27 6h1v1h-1zM33 6h1v1h-1zM11 11h1v1h-1zM15 11h1v1h-1zM20 11h1v1h-1zM40 11h1v1h-1zM15 12h1v1h-1zM9 17h1v1h-1zM26 17h1v1h-1zM20 18h1v1h-1zM24 18h1v1h-1zM27 18h1v1h-1zM31 18h1v1h-1zM3 22h1v1h-1zM5 22h1v1h-1zM40 22h1v1h-1zM8 25h1v1h-1zM6 26h1v1h-1zM9 26h1v1h-1zM26 27h1v1h-1zM34 35h1v1h-1zM36 35h1v1h-1z"/>
<path fill="#bc3754" d="M22 0h1v1h-1zM8 1h1v1h-1zM33 1h1v1h-1zM39 1h1v1h-1zM18 2h1v1h-1zM21 2h2v1h-2zM8 5h1v1h-1zM30 5h1v1h-1zM3 6h1v1h-1zM17 6h1v1h-1zM20 6h1v1h-1zM17 11h1v1h-1zM36 11h1v1h-1zM39 11h1v1h-1zM2 12h1v1h-1zM7 12h1v1h-1zM22 12h2v1h-2zM30 12h1v1h-1zM32 12h1v1h-1zM1 18h1v1h-1zM13 18h1v1h-1zM26 18h1v1h-1zM39 18h3v1h-3zM12 19h1v1h-1zM16 19h1v1h-1zM32 19h1v1h-1zM23 22h1v1h-1zM31 22h1v1h-1zM37 23h1v1h-1zM5 25h1v1h-1zM26 25h1v1h-1zM31 27h1v1h-1zM34 27h1v1h-1zM15 30h1v1h-1zM22 33h1v1h-1zM9 35h1v1h-1z"/>
<path fill="#c73e4c" d="M12 1h1v1h-1zM17 1h2v1h-2zM24 1h1v1h-1zM38 1h1v1h-1zM40 1h1v1h-1zM3 2h1v1h-1zM23 2h1v1h-1zM25 2h1v1h-1zM12 4h1v1h-1zM29 6h2v1h-2zM7 11h2v1h-2zM21 11h1v1h-1zM28 11h1v1h-1zM34 11h1v1h-1zM42 11h1v1h-1zM5 12h1v1h-1zM19 12h1v1h-1zM33 12h1v1h-1zM37 12h1v1h-1zM34 15h1v1h-1zM32 16h1v1h-1zM0 17h1v1h-1zM16 17h1v1h-1zM8 18h1v1h-1zM10 18h1v1h-1zM16 18h1v1h-1zM23 18h1v1h-1zM1 19h1v1h-1zM9 19h1v1h-1zM25 22h1v1h-1zM33 22h1v1h-1zM21 23h1v1h-1zM28 23h1v1h-1zM17 27h2v1h-2zM40 27h1v1h-1z"/>
<path fill="#d24644" d="M42 0h1v1h-1zM2 1h1v1h-1zM5 1h1v1h-1zM15 1h1v1h-1zM23 1h1v1h-1zM16 2h1v1h-1zM38 2h1v1h-1zM28 5h1v1h-1zM0 6h1v1h-1zM36 6h1v1h-1zM0 7h1v1h-1zM31 7h1v1h-1zM35 7h1v1h-1zM9 11h1v1h-1zM13 11h1v1h-1zM37 11h1v1h-1zM25 12h1v1h-1zM27 12h1v1h-1zM34 12h1v1h-1zM38 12h1v1h-1zM26 16h1v1h-1zM40 16h1v1h-1zM15 17h1v1h-1zM17 17h1v1h-1zM24 17h1v1h-1zM27 17h1v1h-1zM29 17h1v1h-1zM31 17h1v1h-1zM36 17h1v1h-1zM7 19h1v1h-1zM10 19h2v1h-2zM25 19h1v1h-1zM27 19h1v1h-1zM19 22h1v1h-1zM3 23h1v1h-1zM33 26h1v1h-1zM8 27h1v1h-1z"/>
<path fill="#db503b" d="M10 1h1v1h-1zM19 1h1v1h-1zM29 1h1v1h-1zM9 2h1v1h-1zM19 4h1v1h-1zM28 4h1v1h-1zM36 4h1v1h-1zM9 5h1v1h-1zM9 6h1v1h-1zM42 6h1v1h-1zM28 7h1v1h-1zM10 11h1v1h-1zM14 11h1v1h-1zM16 11h1v1h-1zM25 11h1v1h-1zM33 11h1v1h-1zM3 12h2v1h-2zM10 12h1v1h-1zM14 12h1v1h-1zM17 12h1v1h-1zM36 12h1v1h-1zM11 13h1v1h-1zM4 16h1v1h-1zM13 16h1v1h-1zM31 16h1v1h-1zM34 16h1v1h-1zM41 16h1v1h-1zM32 17h2v1h-2zM41 17h2v1h-2zM0 18h1v1h-1zM6 18h1v1h-1zM12 18h1v1h-1zM14 18h1v1h-1zM18 18h1v1h-1zM28 18h1v1h-1zM42 18h1v1h-1zM0 19h1v1h-1zM3 19h2v1h-2zM13 19h1v1h-1zM29 19h1v1h-1zM31 19h1v1h-1zM37 19h1v1h-1zM32 20h1v1h-1zM35 20h1v1h-1zM11 26h1v1h-1zM40 26h1v1h-1zM7 27h1v1h-1zM12 27h1v1h-1zM9 28h1v1h-1z"/>
<path fill="#e45a31" d="M7 1h1v1h-1zM30 1h1v1h-1zM36 2h1v1h-1zM20 4h1v1h-1zM32 4h1v1h-1zM2 5h1v1h-1zM32 5h1v1h-1zM7 7h1v1h-1zM26 10h1v1h-1zM33 10h1v1h-1zM6 11h1v1h-1zM18 11h1v1h-1zM38 11h1v1h-1zM9 12h1v1h-1zM11 12h2v1h-2zM20 12h2v1h-2zM26 12h1v1h-1zM19 16h1v1h-1zM21 16h1v1h-1zM28 16h1v1h-1zM36 16h1v1h-1zM2 17h1v1h-1zM5 17h1v1h-1zM7 17h1v1h-1zM21 17h1v1h-1zM23 17h1v1h-1zM5 18h1v1h-1zM7 18h1v1h-1zM35 18h1v1h-1zM2 19h1v1h-1zM6 19h1v1h-1zM14 19h1v1h-1zM17 19h1v1h-1zM30 19h1v1h-1zM36 19h1v1h-1zM38 19h1v1h-1zM41 19h1v1h-1zM13 20h1v1h-1zM15 20h2v1h-2zM39 20h1v1h-1zM41 20h1v1h-1zM9 27h1v1h-1z"/>
<path fill="#eb6628" d="M18 4h1v1h-1zM39 4h1v1h-1zM41 4h2v1h-2zM25 5h1v1h-1zM2 7h1v1h-1zM5 7h1v1h-1zM26 7h1v1h-1zM39 7h1v1h-1zM7 10h1v1h-1zM2 11h1v1h-1zM4 11h1v1h-1zM24 11h1v1h-1zM32 11h1v1h-1zM24 12h1v1h-1zM39 12h1v1h-1zM42 12h1v1h-1zM4 13h1v1h-1zM6 13h1v1h-1zM19 13h1v1h-1zM0 16h1v1h-1zM2 16h1v1h-1zM8 16h1v1h-1zM11 16h2v1h-2zM18 16h1v1h-1zM22 16h1v1h-1zM24 16h2v1h-2zM1 17h1v1h-1zM4 17h1v1h-1zM8 17h1v1h-1zM11 17h1v1h-1zM19 17h1v1h-1zM30 17h1v1h-1zM35 17h1v1h-1zM37 18h1v1h-1zM21 19h1v1h-1zM26 19h1v1h-1zM33 19h1v1h-1zM35 19h1v1h-1zM1 20h1v1h-1zM8 20h1v1h-1zM11 20h1v1h-1zM14 20h1v1h-1zM18 20h1v1h-1zM30 20h1v1h-1zM36 20h1v1h-1zM31 21h1v1h-1zM5 23h1v1h-1zM9 23h1v1h-1zM12 23h1v1h-1zM4 27h1v1h-1zM6 27h1v1h-1z"/>
<path fill="#f1731d" d="M41 2h1v1h-1zM3 4h1v1h-1zM8 4h2v1h-2zM14 4h1v1h-1zM16 4h2v1h-2zM29 4h1v1h-1zM33 4h1v1h-1zM26 5h1v1h-1zM34 5h1v1h-1zM10 7h1v1h-1zM18 7h1v1h-1zM25 7h1v1h-1zM33 7h1v1h-1zM16 8h1v1h-1zM5 10h1v1h-1zM23 10h1v1h-1zM1 11h1v1h-1zM23 11h1v1h-1zM27 11h1v1h-1zM13 13h1v1h-1zM16 13h3v1h-3zM20 13h2v1h-2zM28 13h1v1h-1zM39 13h1v1h-1zM5 16h1v1h-1zM7 16h1v1h-1zM10 16h1v1h-1zM23 16h1v1h-1zM27 16h1v1h-1zM30 16h1v1h-1zM3 17h1v1h-1zM10 17h1v1h-1zM14 17h1v1h-1zM18 17h1v1h-1zM20 17h1v1h-1zM37 17h3v1h-3zM5 19h1v1h-1zM22 19h1v1h-1zM39 19h1v1h-1zM42 19h1v1h-1zM5 20h3v1h-3zM17 20h1v1h-1zM19 20h1v1h-1zM22 20h1v1h-1zM28 20h1v1h-1zM33 20h1v1h-1zM16 21h1v1h-1zM19 21h1v1h-1zM32 21h1v1h-1zM40 21h1v1h-1zM2 23h1v1h-1zM4 23h1v1h-1zM8 23h1v1h-1zM15 23h1v1h-1z"/>
<path fill="#f68013" d="M10 4h1v1h-1zM26 4h1v1h-1zM37 4h1v1h-1zM40 4h1v1h-1zM1 5h1v1h-1zM5 5h1v1h-1zM20 5h1v1h-1zM8 7h1v1h-1zM13 7h1v1h-1zM15 7h1v1h-1zM20 7h1v1h-1zM30 7h1v1h-1zM32 7h1v1h-1zM34 7h1v1h-1zM41 7h2v1h-2zM2 10h1v1h-1zM8 10h1v1h-1zM17 10h1v1h-1zM37 10h1v1h-1zM35 11h1v1h-1zM1 12h1v1h-1zM13 12h1v1h-1zM16 12h1v1h-1zM8 13h2v1h-2zM14 13h2v1h-2zM27 13h1v1h-1zM31 13h1v1h-1zM40 13h1v1h-1zM6 16h1v1h-1zM14 16h1v1h-1zM17 16h1v1h-1zM20 16h1v1h-1zM35 16h1v1h-1zM37 16h3v1h-3zM42 16h1v1h-1zM25 17h1v1h-1zM2 18h1v1h-1zM11 18h1v1h-1zM36 18h1v1h-1zM18 19h2v1h-2zM24 19h1v1h-1zM28 19h1v1h-1zM40 19h1v1h-1zM3 20h1v1h-1zM12 20h1v1h-1zM26 20h1v1h-1zM29 20h1v1h-1zM34 20h1v1h-1zM37 20h1v1h-1zM2 21h1v1h-1zM6 21h2v1h-2zM15 21h1v1h-1zM26 21h2v1h-2zM30 21h1v1h-1zM29 23h1v1h-1zM1 27h1v1h-1zM5 27h1v1h-1z"/>
<path fill="#f98e09" d="M0 4h2v1h-2zM7 4h1v1h-1zM11 4h1v1h-1zM13 4h1v1h-1zM25 4h1v1h-1zM27 4h1v1h-1zM30 4h2v1h-2zM35 4h1v1h-1zM38 4h1v1h-1zM36 5h1v1h-1zM41 5h1v1h-1zM6 7h1v1h-1zM11 7h1v1h-1zM21 7h2v1h-2zM24 7h1v1h-1zM38 7h1v1h-1zM0 8h1v1h-1zM33 8h1v1h-1zM35 8h1v1h-1zM0 10h1v1h-1zM14 10h1v1h-1zM24 10h1v1h-1zM28 10h4v1h-4zM38 10h1v1h-1zM41 10h1v1h-1zM3 11h1v1h-1zM2 13h1v1h-1zM23 13h1v1h-1zM25 13h1v1h-1zM35 13h1v1h-1zM41 13h1v1h-1zM1 16h1v1h-1zM9 16h1v1h-1zM15 16h1v1h-1zM29 16h1v1h-1zM33 16h1v1h-1zM8 19h1v1h-1zM15 19h1v1h-1zM20 19h1v1h-1zM34 19h1v1h-1zM4 20h1v1h-1zM9 20h1v1h-1zM42 20h1v1h-1zM3 21h2v1h-2zM8 21h1v1h-1zM10 21h1v1h-1zM12 21h1v1h-1zM21 21h1v1h-1zM24 21h1v1h-1zM28 21h1v1h-1zM0 23h2v1h-2zM10 23h1v1h-1zM13 27h1v1h-1z"/>
<path fill="#fb9d07" d="M4 4h1v1h-1zM21 4h2v1h-2zM24 4h1v1h-1zM34 4h1v1h-1zM10 5h1v1h-1zM31 5h1v1h-1zM9 7h1v1h-1zM16 7h1v1h-1zM19 7h1v1h-1zM23 7h1v1h-1zM27 7h1v1h-1zM37 7h1v1h-1zM1 8h1v1h-1zM7 8h1v1h-1zM10 8h1v1h-1zM22 8h1v1h-1zM27 8h2v1h-2zM32 8h1v1h-1zM34 8h1v1h-1zM39 8h1v1h-1zM1 10h1v1h-1zM4 10h1v1h-1zM10 10h1v1h-1zM16 10h1v1h-1zM19 10h2v1h-2zM27 10h1v1h-1zM34 10h2v1h-2zM39 10h2v1h-2zM42 10h1v1h-1zM29 11h1v1h-1zM3 13h1v1h-1zM5 13h1v1h-1zM24 13h1v1h-1zM29 13h1v1h-1zM36 13h2v1h-2zM42 13h1v1h-1zM3 16h1v1h-1zM6 17h1v1h-1zM34 17h1v1h-1zM40 17h1v1h-1zM0 20h1v1h-1zM10 20h1v1h-1zM20 20h2v1h-2zM23 20h3v1h-3zM27 20h1v1h-1zM31 20h1v1h-1zM38 20h1v1h-1zM40 20h1v1h-1zM0 21h2v1h-2zM9 21h1v1h-1zM37 21h1v1h-1zM39 21h1v1h-1zM42 21h1v1h-1zM6 23h1v1h-1zM14 23h1v1h-1zM10 27h2v1h-2z"/>
<path fill="#fcac11" d="M2 4h1v1h-1zM6 4h1v1h-1zM15 4h1v1h-1zM12 7h1v1h-1zM17 7h1v1h-1zM29 7h1v1h-1zM8 8h1v1h-1zM11 8h2v1h-2zM14 8h2v1h-2zM21 8h1v1h-1zM25 8h1v1h-1zM38 8h1v1h-1zM40 8h1v1h-1zM6 10h1v1h-1zM11 10h3v1h-3zM18 10h1v1h-1zM21 10h2v1h-2zM12 11h1v1h-1zM26 11h1v1h-1zM10 13h1v1h-1zM33 13h2v1h-2zM38 13h1v1h-1zM16 16h1v1h-1zM2 20h1v1h-1zM5 21h1v1h-1zM13 21h1v1h-1zM23 21h1v1h-1zM33 21h1v1h-1zM35 21h1v1h-1zM38 21h1v1h-1zM41 21h1v1h-1zM7 23h1v1h-1z"/>
<path fill="#fbbc21" d="M14 5h1v1h-1zM27 5h1v1h-1zM36 7h1v1h-1zM4 8h2v1h-2zM13 8h1v1h-1zM17 8h1v1h-1zM19 8h2v1h-2zM24 8h1v1h-1zM36 8h1v1h-1zM3 10h1v1h-1zM15 10h1v1h-1zM32 10h1v1h-1zM22 11h1v1h-1zM0 13h2v1h-2zM12 13h1v1h-1zM22 13h1v1h-1zM30 13h1v1h-1zM28 17h1v1h-1zM23 19h1v1h-1zM11 21h1v1h-1zM20 21h1v1h-1zM22 21h1v1h-1zM25 21h1v1h-1zM29 21h1v1h-1zM34 21h1v1h-1zM36 21h1v1h-1zM11 23h1v1h-1zM13 23h1v1h-1zM2 27h1v1h-1z"/>
<path fill="#f9cb35" d="M14 7h1v1h-1zM40 7h1v1h-1zM2 8h2v1h-2zM18 8h1v1h-1zM23 8h1v1h-1zM29 8h2v1h-2zM37 8h1v1h-1zM41 8h1v1h-1zM9 10h1v1h-1zM25 10h1v1h-1zM36 10h1v1h-1zM17 21h1v1h-1zM16 23h1v1h-1z"/>
<path fill="#f5db4c" d="M13 5h1v1h-1zM6 8h1v1h-1zM9 8h1v1h-1zM31 8h1v1h-1zM42 8h1v1h-1zM18 21h1v1h-1z"/>
<path fill="#f2ea69" d="M5 4h1v1h-1zM26 8h1v1h-1z"/>
<path fill="#f3f68a" d="M23 4h1v1h-1zM14 21h1v1h-1z"/>
</g>
<g transform="translate(888.5,979.0) scale(2.51074,28.0)" shape-rendering="crispEdges">
<path fill="#210c4a" d="M32 0h1v1h-1zM17 2h1v1h-1zM49 5h1v1h-1zM38 9h1v1h-1zM2 15h1v1h-1zM49 15h1v1h-1zM53 15h1v1h-1zM56 24h1v1h-1zM91 27h1v1h-1zM97 29h1v1h-1z"/>
<path fill="#2f0a5b" d="M56 0h1v1h-1zM100 0h1v1h-1zM63 6h1v1h-1zM118 24h1v1h-1zM84 25h1v1h-1zM60 28h1v1h-1z"/>
<path fill="#3d0965" d="M25 2h1v1h-1zM111 2h1v1h-1zM67 9h1v1h-1zM107 9h1v1h-1zM33 15h1v1h-1zM69 15h2v1h-2zM99 15h1v1h-1zM120 15h1v1h-1zM41 25h1v1h-1zM13 26h1v1h-1zM46 26h1v1h-1zM80 26h1v1h-1zM100 26h1v1h-1zM115 26h1v1h-1zM10 27h1v1h-1zM103 33h1v1h-1zM20 35h1v1h-1z"/>
<path fill="#4a0c6b" d="M58 0h1v1h-1zM60 0h1v1h-1zM13 1h1v1h-1zM25 1h1v1h-1zM118 1h1v1h-1zM4 5h1v1h-1zM48 6h1v1h-1zM52 9h1v1h-1zM59 9h1v1h-1zM72 9h1v1h-1zM80 9h2v1h-2zM103 9h1v1h-1zM86 15h1v1h-1zM106 24h1v1h-1zM98 25h1v1h-1zM33 26h1v1h-1zM81 26h1v1h-1zM32 27h1v1h-1zM81 28h1v1h-1zM110 28h1v1h-1zM109 29h1v1h-1zM111 30h1v1h-1zM4 32h1v1h-1zM18 33h1v1h-1zM20 34h1v1h-1zM28 35h1v1h-1zM45 35h1v1h-1z"/>
<path fill="#57106e" d="M14 0h1v1h-1zM36 0h1v1h-1zM55 0h1v1h-1zM86 0h1v1h-1zM95 0h1v1h-1zM102 0h2v1h-2zM16 1h1v1h-1zM91 1h1v1h-1zM5 2h1v1h-1zM82 2h1v1h-1zM106 2h1v1h-1zM28 5h1v1h-1zM85 5h1v1h-1zM19 6h1v1h-1zM39 6h1v1h-1zM60 6h1v1h-1zM64 6h1v1h-1zM79 6h1v1h-1zM94 6h1v1h-1zM102 6h1v1h-1zM11 9h1v1h-1zM20 9h1v1h-1zM42 9h1v1h-1zM73 9h1v1h-1zM95 9h1v1h-1zM118 9h1v1h-1zM1 15h1v1h-1zM6 15h1v1h-1zM13 15h1v1h-1zM22 15h1v1h-1zM28 15h1v1h-1zM43 15h1v1h-1zM46 15h1v1h-1zM97 15h1v1h-1zM105 15h1v1h-1zM101 23h1v1h-1zM109 23h1v1h-1zM31 24h2v1h-2zM108 24h1v1h-1zM9 25h1v1h-1zM4 26h1v1h-1zM48 26h1v1h-1zM86 26h1v1h-1zM11 27h1v1h-1zM13 27h1v1h-1zM120 29h1v1h-1zM10 31h1v1h-1zM20 31h1v1h-1zM35 32h1v1h-1zM57 32h1v1h-1zM113 32h1v1h-1zM112 33h1v1h-1zM25 34h1v1h-1zM83 36h1v1h-1z"/>
<path fill="#64156e" d="M5 0h1v1h-1zM13 0h1v1h-1zM16 0h1v1h-1zM22 0h1v1h-1zM33 0h1v1h-1zM45 0h1v1h-1zM57 0h1v1h-1zM63 0h1v1h-1zM67 0h1v1h-1zM79 0h1v1h-1zM93 0h1v1h-1zM18 1h1v1h-1zM64 1h1v1h-1zM106 1h1v1h-1zM2 2h1v1h-1zM10 2h1v1h-1zM19 2h1v1h-1zM78 2h1v1h-1zM83 2h1v1h-1zM88 2h1v1h-1zM103 2h1v1h-1zM2 3h1v1h-1zM52 3h1v1h-1zM2 6h1v1h-1zM13 6h1v1h-1zM43 6h1v1h-1zM55 6h2v1h-2zM70 6h1v1h-1zM96 6h1v1h-1zM120 6h1v1h-1zM62 8h1v1h-1zM31 9h1v1h-1zM63 9h1v1h-1zM108 9h1v1h-1zM111 9h1v1h-1zM115 9h1v1h-1zM119 9h1v1h-1zM60 12h1v1h-1zM12 15h1v1h-1zM39 15h1v1h-1zM45 15h1v1h-1zM66 15h1v1h-1zM87 15h1v1h-1zM100 15h1v1h-1zM75 23h1v1h-1zM88 23h1v1h-1zM0 24h1v1h-1zM22 24h1v1h-1zM25 24h1v1h-1zM44 24h1v1h-1zM51 25h1v1h-1zM112 25h1v1h-1zM57 26h1v1h-1zM64 26h1v1h-1zM68 26h1v1h-1zM71 26h1v1h-1zM85 26h1v1h-1zM24 27h1v1h-1zM53 27h1v1h-1zM82 27h1v1h-1zM10 29h1v1h-1zM75 29h1v1h-1zM98 29h1v1h-1zM103 29h1v1h-1zM105 29h1v1h-1zM115 29h1v1h-1zM8 32h1v1h-1zM81 32h1v1h-1zM117 33h1v1h-1zM24 35h1v1h-1zM30 35h1v1h-1z"/>
<path fill="#71196e" d="M47 0h1v1h-1zM88 0h1v1h-1zM11 1h1v1h-1zM30 1h1v1h-1zM33 1h1v1h-1zM54 1h1v1h-1zM85 1h1v1h-1zM1 2h1v1h-1zM32 2h1v1h-1zM59 2h1v1h-1zM64 2h1v1h-1zM87 2h1v1h-1zM96 2h1v1h-1zM100 2h1v1h-1zM110 2h1v1h-1zM118 2h1v1h-1zM118 5h1v1h-1zM4 6h1v1h-1zM8 6h1v1h-1zM41 6h1v1h-1zM67 6h1v1h-1zM88 6h1v1h-1zM106 6h1v1h-1zM108 6h1v1h-1zM110 6h2v1h-2zM13 9h1v1h-1zM19 9h1v1h-1zM22 9h1v1h-1zM29 9h1v1h-1zM45 9h1v1h-1zM55 9h1v1h-1zM71 9h1v1h-1zM77 9h1v1h-1zM86 9h1v1h-1zM102 9h1v1h-1zM117 9h1v1h-1zM84 13h1v1h-1zM40 15h1v1h-1zM52 15h1v1h-1zM57 15h1v1h-1zM75 15h1v1h-1zM95 15h1v1h-1zM102 22h1v1h-1zM22 23h1v1h-1zM49 23h1v1h-1zM12 24h1v1h-1zM26 24h1v1h-1zM40 25h1v1h-1zM45 25h1v1h-1zM57 25h1v1h-1zM70 25h1v1h-1zM89 25h1v1h-1zM99 25h1v1h-1zM28 26h1v1h-1zM119 26h1v1h-1zM79 27h1v1h-1zM30 30h1v1h-1zM36 30h1v1h-1zM86 31h1v1h-1zM91 31h1v1h-1zM101 31h1v1h-1zM70 32h1v1h-1zM49 33h1v1h-1zM14 34h1v1h-1zM37 34h1v1h-1zM73 34h1v1h-1zM92 34h1v1h-1zM0 35h2v1h-2zM50 35h2v1h-2zM94 35h1v1h-1zM7 36h1v1h-1z"/>
<path fill="#7d1e6d" d="M51 0h1v1h-1zM75 0h1v1h-1zM85 0h1v1h-1zM104 0h1v1h-1zM108 0h1v1h-1zM7 1h1v1h-1zM17 1h1v1h-1zM20 1h1v1h-1zM28 1h1v1h-1zM65 1h1v1h-1zM74 1h1v1h-1zM76 1h1v1h-1zM89 1h1v1h-1zM98 1h2v1h-2zM101 1h1v1h-1zM111 1h1v1h-1zM116 1h2v1h-2zM3 2h1v1h-1zM39 2h1v1h-1zM46 2h1v1h-1zM63 2h1v1h-1zM93 2h1v1h-1zM98 2h2v1h-2zM1 3h1v1h-1zM51 3h1v1h-1zM85 3h1v1h-1zM17 6h1v1h-1zM30 6h1v1h-1zM45 6h1v1h-1zM62 6h1v1h-1zM83 6h1v1h-1zM98 6h2v1h-2zM101 6h1v1h-1zM112 6h1v1h-1zM119 6h1v1h-1zM64 8h1v1h-1zM3 9h1v1h-1zM25 9h1v1h-1zM32 9h1v1h-1zM41 9h1v1h-1zM88 9h1v1h-1zM91 9h1v1h-1zM99 9h1v1h-1zM109 9h1v1h-1zM13 12h1v1h-1zM74 12h1v1h-1zM7 13h1v1h-1zM0 15h1v1h-1zM27 15h1v1h-1zM31 15h1v1h-1zM42 15h1v1h-1zM54 15h1v1h-1zM97 19h1v1h-1zM113 19h1v1h-1zM100 23h1v1h-1zM21 24h1v1h-1zM38 24h1v1h-1zM42 24h2v1h-2zM95 24h1v1h-1zM7 25h1v1h-1zM44 25h1v1h-1zM7 26h1v1h-1zM39 26h1v1h-1zM53 26h1v1h-1zM97 26h1v1h-1zM103 26h1v1h-1zM9 27h1v1h-1zM90 27h1v1h-1zM51 28h1v1h-1zM63 29h1v1h-1zM67 29h1v1h-1zM79 30h1v1h-1zM18 31h1v1h-1zM22 31h1v1h-1zM34 31h1v1h-1zM72 31h1v1h-1zM102 32h1v1h-1zM24 33h1v1h-1zM18 35h1v1h-1zM49 35h1v1h-1z"/>
<path fill="#8a226a" d="M4 0h1v1h-1zM8 0h1v1h-1zM24 0h1v1h-1zM28 0h1v1h-1zM31 0h1v1h-1zM49 0h1v1h-1zM68 0h1v1h-1zM81 0h1v1h-1zM105 0h1v1h-1zM117 0h1v1h-1zM1 1h1v1h-1zM35 1h1v1h-1zM56 1h1v1h-1zM66 1h1v1h-1zM79 1h1v1h-1zM109 1h1v1h-1zM14 2h1v1h-1zM23 2h1v1h-1zM38 2h1v1h-1zM44 2h1v1h-1zM51 2h2v1h-2zM61 2h1v1h-1zM84 2h1v1h-1zM30 4h1v1h-1zM77 4h1v1h-1zM11 5h1v1h-1zM0 6h1v1h-1zM27 6h1v1h-1zM29 6h1v1h-1zM34 6h2v1h-2zM42 6h1v1h-1zM52 6h1v1h-1zM61 6h1v1h-1zM65 6h1v1h-1zM69 6h1v1h-1zM73 6h1v1h-1zM86 6h2v1h-2zM91 6h1v1h-1zM31 8h1v1h-1zM28 9h1v1h-1zM87 9h1v1h-1zM92 9h1v1h-1zM94 9h1v1h-1zM110 9h1v1h-1zM83 11h1v1h-1zM95 11h1v1h-1zM0 12h1v1h-1zM97 12h1v1h-1zM73 13h1v1h-1zM44 15h1v1h-1zM47 15h1v1h-1zM56 15h1v1h-1zM73 15h1v1h-1zM76 15h1v1h-1zM110 15h1v1h-1zM32 17h1v1h-1zM42 22h1v1h-1zM10 23h1v1h-1zM63 23h1v1h-1zM67 23h1v1h-1zM83 23h1v1h-1zM33 24h1v1h-1zM49 24h1v1h-1zM68 24h1v1h-1zM72 24h1v1h-1zM101 24h1v1h-1zM23 25h1v1h-1zM31 25h1v1h-1zM33 25h1v1h-1zM37 25h1v1h-1zM49 25h1v1h-1zM58 25h1v1h-1zM68 25h1v1h-1zM72 25h1v1h-1zM83 25h1v1h-1zM88 25h1v1h-1zM94 25h2v1h-2zM104 25h1v1h-1zM119 25h1v1h-1zM11 26h1v1h-1zM21 26h1v1h-1zM32 26h1v1h-1zM74 26h1v1h-1zM90 26h1v1h-1zM99 26h1v1h-1zM103 27h1v1h-1zM31 28h1v1h-1zM36 28h1v1h-1zM78 29h1v1h-1zM80 29h1v1h-1zM83 29h1v1h-1zM90 29h1v1h-1zM99 29h1v1h-1zM101 29h1v1h-1zM114 29h1v1h-1zM33 31h1v1h-1zM95 31h1v1h-1zM105 33h1v1h-1zM7 35h1v1h-1zM9 35h1v1h-1z"/>
<path fill="#972766" d="M6 0h2v1h-2zM9 0h1v1h-1zM35 0h1v1h-1zM59 0h1v1h-1zM76 0h1v1h-1zM78 0h1v1h-1zM83 0h1v1h-1zM94 0h1v1h-1zM99 0h1v1h-1zM101 0h1v1h-1zM118 0h1v1h-1zM2 1h2v1h-2zM6 1h1v1h-1zM29 1h1v1h-1zM32 1h1v1h-1zM34 1h1v1h-1zM41 1h1v1h-1zM47 1h1v1h-1zM52 1h1v1h-1zM59 1h1v1h-1zM67 1h1v1h-1zM70 1h1v1h-1zM90 1h1v1h-1zM92 1h1v1h-1zM95 1h1v1h-1zM105 1h1v1h-1zM110 1h1v1h-1zM12 2h1v1h-1zM15 2h1v1h-1zM22 2h1v1h-1zM30 2h2v1h-2zM37 2h1v1h-1zM45 2h1v1h-1zM48 2h1v1h-1zM58 2h1v1h-1zM60 2h1v1h-1zM89 2h1v1h-1zM97 2h1v1h-1zM101 2h1v1h-1zM105 2h1v1h-1zM113 2h1v1h-1zM119 2h1v1h-1zM55 3h1v1h-1zM77 3h1v1h-1zM118 3h1v1h-1zM28 4h1v1h-1zM73 4h1v1h-1zM12 6h1v1h-1zM22 6h1v1h-1zM24 6h1v1h-1zM40 6h1v1h-1zM49 6h1v1h-1zM57 6h1v1h-1zM105 6h1v1h-1zM113 6h1v1h-1zM116 6h1v1h-1zM41 8h1v1h-1zM15 9h1v1h-1zM62 9h1v1h-1zM68 9h1v1h-1zM63 11h1v1h-1zM68 11h2v1h-2zM93 11h1v1h-1zM92 12h1v1h-1zM60 13h1v1h-1zM118 13h1v1h-1zM48 15h1v1h-1zM50 15h1v1h-1zM88 15h1v1h-1zM90 15h1v1h-1zM108 17h1v1h-1zM93 19h1v1h-1zM95 19h1v1h-1zM33 22h1v1h-1zM63 22h1v1h-1zM101 22h1v1h-1zM6 23h1v1h-1zM29 23h1v1h-1zM42 23h1v1h-1zM45 23h1v1h-1zM108 23h1v1h-1zM4 24h1v1h-1zM48 24h1v1h-1zM59 24h1v1h-1zM77 24h1v1h-1zM81 24h2v1h-2zM86 24h1v1h-1zM88 24h1v1h-1zM90 24h1v1h-1zM98 24h1v1h-1zM103 24h1v1h-1zM112 24h1v1h-1zM28 25h1v1h-1zM35 25h1v1h-1zM75 25h1v1h-1zM78 25h1v1h-1zM81 25h2v1h-2zM108 25h1v1h-1zM111 25h1v1h-1zM1 26h1v1h-1zM5 26h2v1h-2zM76 26h1v1h-1zM89 26h1v1h-1zM18 27h1v1h-1zM110 27h1v1h-1zM45 29h1v1h-1zM55 29h1v1h-1zM73 29h1v1h-1zM110 29h1v1h-1zM67 30h1v1h-1zM117 31h1v1h-1zM63 33h1v1h-1zM44 35h1v1h-1zM53 35h1v1h-1z"/>
<path fill="#a32c61" d="M2 0h1v1h-1zM12 0h1v1h-1zM18 0h1v1h-1zM27 0h1v1h-1zM38 0h1v1h-1zM40 0h1v1h-1zM43 0h1v1h-1zM72 0h1v1h-1zM84 0h1v1h-1zM107 0h1v1h-1zM111 0h1v1h-1zM5 1h1v1h-1zM8 1h1v1h-1zM26 1h1v1h-1zM36 1h1v1h-1zM38 1h2v1h-2zM45 1h1v1h-1zM49 1h1v1h-1zM55 1h1v1h-1zM58 1h1v1h-1zM60 1h2v1h-2zM84 1h1v1h-1zM86 1h2v1h-2zM93 1h1v1h-1zM107 1h1v1h-1zM120 1h1v1h-1zM11 2h1v1h-1zM13 2h1v1h-1zM16 2h1v1h-1zM26 2h1v1h-1zM53 2h1v1h-1zM66 2h1v1h-1zM72 2h1v1h-1zM81 2h1v1h-1zM86 2h1v1h-1zM102 2h1v1h-1zM104 2h1v1h-1zM109 2h1v1h-1zM7 4h1v1h-1zM9 4h1v1h-1zM27 4h1v1h-1zM46 4h1v1h-1zM14 5h1v1h-1zM66 5h1v1h-1zM18 6h1v1h-1zM23 6h1v1h-1zM26 6h1v1h-1zM28 6h1v1h-1zM36 6h2v1h-2zM53 6h1v1h-1zM75 6h2v1h-2zM84 6h2v1h-2zM90 6h1v1h-1zM117 6h1v1h-1zM26 8h1v1h-1zM37 8h1v1h-1zM61 8h1v1h-1zM95 8h1v1h-1zM97 8h1v1h-1zM74 9h1v1h-1zM7 12h1v1h-1zM41 12h1v1h-1zM98 12h1v1h-1zM87 13h1v1h-1zM21 15h1v1h-1zM35 15h1v1h-1zM89 15h1v1h-1zM96 17h1v1h-1zM11 18h1v1h-1zM22 18h1v1h-1zM14 19h1v1h-1zM33 19h1v1h-1zM69 19h1v1h-1zM6 22h1v1h-1zM21 23h1v1h-1zM24 23h1v1h-1zM68 23h1v1h-1zM104 23h1v1h-1zM5 24h1v1h-1zM16 24h1v1h-1zM24 24h1v1h-1zM28 24h1v1h-1zM69 24h1v1h-1zM76 24h1v1h-1zM100 24h1v1h-1zM115 24h2v1h-2zM5 25h1v1h-1zM13 25h1v1h-1zM46 25h1v1h-1zM53 25h1v1h-1zM105 25h1v1h-1zM114 25h1v1h-1zM42 26h1v1h-1zM75 26h1v1h-1zM111 26h1v1h-1zM61 27h1v1h-1zM112 27h1v1h-1zM18 29h1v1h-1zM53 29h1v1h-1zM60 29h1v1h-1zM70 29h1v1h-1zM102 29h1v1h-1zM28 31h1v1h-1zM31 31h1v1h-1zM97 31h1v1h-1zM102 33h1v1h-1zM23 35h1v1h-1zM116 35h1v1h-1z"/>
<path fill="#b0315b" d="M1 0h1v1h-1zM20 0h1v1h-1zM39 0h1v1h-1zM44 0h1v1h-1zM87 0h1v1h-1zM21 1h1v1h-1zM24 1h1v1h-1zM50 1h1v1h-1zM72 1h1v1h-1zM77 1h1v1h-1zM80 1h1v1h-1zM82 1h1v1h-1zM100 1h1v1h-1zM112 1h1v1h-1zM41 2h1v1h-1zM55 2h1v1h-1zM57 2h1v1h-1zM67 2h1v1h-1zM74 2h1v1h-1zM90 2h1v1h-1zM117 2h1v1h-1zM64 3h1v1h-1zM99 3h1v1h-1zM98 4h2v1h-2zM108 4h1v1h-1zM111 4h1v1h-1zM116 4h1v1h-1zM25 5h1v1h-1zM1 6h1v1h-1zM11 6h1v1h-1zM20 6h2v1h-2zM38 6h1v1h-1zM50 6h1v1h-1zM66 6h1v1h-1zM89 6h1v1h-1zM95 6h1v1h-1zM42 8h1v1h-1zM49 8h1v1h-1zM81 8h1v1h-1zM70 9h1v1h-1zM18 11h1v1h-1zM21 11h1v1h-1zM41 11h1v1h-1zM54 11h1v1h-1zM65 11h1v1h-1zM92 11h1v1h-1zM105 11h1v1h-1zM108 11h1v1h-1zM4 12h1v1h-1zM30 12h1v1h-1zM37 12h1v1h-1zM46 12h1v1h-1zM48 12h2v1h-2zM51 12h1v1h-1zM110 12h2v1h-2zM69 13h1v1h-1zM79 13h1v1h-1zM83 13h1v1h-1zM100 13h1v1h-1zM105 13h1v1h-1zM108 13h1v1h-1zM24 15h1v1h-1zM37 15h1v1h-1zM60 15h1v1h-1zM83 15h1v1h-1zM96 15h1v1h-1zM2 17h2v1h-2zM11 17h1v1h-1zM21 17h2v1h-2zM29 17h1v1h-1zM36 17h1v1h-1zM65 17h1v1h-1zM105 17h1v1h-1zM112 17h1v1h-1zM1 18h1v1h-1zM4 18h1v1h-1zM6 18h1v1h-1zM17 18h1v1h-1zM53 18h1v1h-1zM64 18h1v1h-1zM78 18h1v1h-1zM90 18h1v1h-1zM117 18h1v1h-1zM13 19h1v1h-1zM68 19h1v1h-1zM75 19h1v1h-1zM100 19h1v1h-1zM117 20h1v1h-1zM22 22h1v1h-1zM67 22h1v1h-1zM109 22h1v1h-1zM115 22h1v1h-1zM55 23h1v1h-1zM65 23h1v1h-1zM96 23h1v1h-1zM106 23h1v1h-1zM111 23h1v1h-1zM113 23h1v1h-1zM7 24h1v1h-1zM11 24h1v1h-1zM50 24h1v1h-1zM55 24h1v1h-1zM65 24h1v1h-1zM114 24h1v1h-1zM117 24h1v1h-1zM8 25h1v1h-1zM25 25h1v1h-1zM27 25h1v1h-1zM34 25h1v1h-1zM42 25h1v1h-1zM52 25h1v1h-1zM56 25h1v1h-1zM60 25h1v1h-1zM76 25h1v1h-1zM87 25h1v1h-1zM91 25h1v1h-1zM96 25h1v1h-1zM113 25h1v1h-1zM44 26h1v1h-1zM77 26h1v1h-1zM65 27h1v1h-1zM100 28h1v1h-1zM88 29h1v1h-1zM91 29h1v1h-1zM107 29h1v1h-1zM29 31h1v1h-1zM55 32h1v1h-1zM65 32h1v1h-1zM99 33h1v1h-1zM55 34h1v1h-1zM0 36h1v1h-1z"/>
<path fill="#bc3754" d="M0 0h1v1h-1zM54 0h1v1h-1zM64 0h1v1h-1zM69 0h1v1h-1zM82 0h1v1h-1zM98 0h1v1h-1zM116 0h1v1h-1zM15 1h1v1h-1zM40 1h1v1h-1zM48 1h1v1h-1zM53 1h1v1h-1zM57 1h1v1h-1zM81 1h1v1h-1zM103 1h1v1h-1zM114 1h1v1h-1zM28 2h1v1h-1zM43 2h1v1h-1zM56 2h1v1h-1zM70 2h1v1h-1zM77 2h1v1h-1zM79 2h1v1h-1zM95 2h1v1h-1zM112 2h1v1h-1zM5 3h1v1h-1zM57 3h1v1h-1zM21 4h1v1h-1zM82 4h2v1h-2zM95 4h1v1h-1zM7 5h1v1h-1zM9 5h1v1h-1zM74 5h1v1h-1zM99 5h1v1h-1zM31 6h1v1h-1zM54 6h1v1h-1zM68 6h1v1h-1zM100 6h1v1h-1zM109 6h1v1h-1zM6 8h2v1h-2zM23 8h1v1h-1zM29 8h1v1h-1zM47 8h1v1h-1zM66 8h1v1h-1zM2 11h1v1h-1zM9 11h1v1h-1zM19 11h1v1h-1zM23 11h1v1h-1zM31 11h1v1h-1zM44 11h1v1h-1zM46 11h1v1h-1zM64 11h1v1h-1zM84 11h1v1h-1zM98 11h1v1h-1zM100 11h2v1h-2zM28 12h2v1h-2zM32 12h1v1h-1zM36 12h1v1h-1zM44 12h1v1h-1zM77 12h1v1h-1zM83 12h1v1h-1zM102 12h1v1h-1zM116 12h1v1h-1zM6 13h1v1h-1zM20 13h1v1h-1zM34 13h1v1h-1zM39 13h1v1h-1zM62 13h1v1h-1zM120 13h1v1h-1zM84 15h1v1h-1zM42 17h1v1h-1zM44 17h1v1h-1zM87 17h1v1h-1zM97 17h1v1h-1zM117 17h1v1h-1zM120 17h1v1h-1zM0 18h1v1h-1zM13 18h1v1h-1zM28 18h1v1h-1zM59 18h1v1h-1zM74 18h1v1h-1zM101 18h1v1h-1zM103 18h1v1h-1zM106 18h1v1h-1zM11 19h1v1h-1zM17 19h1v1h-1zM27 19h1v1h-1zM32 19h1v1h-1zM38 19h1v1h-1zM40 19h1v1h-1zM49 19h1v1h-1zM53 19h1v1h-1zM59 19h1v1h-1zM61 19h1v1h-1zM98 19h1v1h-1zM54 20h1v1h-1zM58 20h1v1h-1zM101 20h1v1h-1zM41 22h1v1h-1zM45 22h1v1h-1zM47 22h1v1h-1zM97 22h1v1h-1zM25 23h1v1h-1zM28 23h1v1h-1zM78 23h1v1h-1zM92 23h2v1h-2zM18 24h2v1h-2zM27 24h1v1h-1zM41 24h1v1h-1zM54 24h1v1h-1zM63 24h1v1h-1zM73 24h1v1h-1zM29 25h2v1h-2zM43 25h1v1h-1zM54 25h2v1h-2zM93 25h1v1h-1zM102 25h1v1h-1zM70 26h1v1h-1zM120 26h1v1h-1zM117 29h1v1h-1zM7 31h1v1h-1zM27 31h1v1h-1zM96 31h1v1h-1z"/>
<path fill="#c73e4c" d="M10 0h1v1h-1zM74 0h1v1h-1zM106 0h1v1h-1zM113 0h2v1h-2zM10 1h1v1h-1zM14 1h1v1h-1zM27 1h1v1h-1zM37 1h1v1h-1zM43 1h1v1h-1zM68 1h1v1h-1zM35 2h1v1h-1zM73 2h1v1h-1zM108 2h1v1h-1zM120 2h1v1h-1zM5 4h1v1h-1zM23 4h2v1h-2zM57 4h1v1h-1zM59 4h2v1h-2zM69 4h1v1h-1zM85 4h1v1h-1zM93 4h1v1h-1zM21 5h1v1h-1zM7 6h1v1h-1zM15 6h1v1h-1zM32 6h1v1h-1zM58 6h1v1h-1zM72 6h1v1h-1zM93 6h1v1h-1zM97 6h1v1h-1zM103 6h1v1h-1zM32 8h1v1h-1zM45 8h1v1h-1zM75 8h1v1h-1zM85 8h1v1h-1zM93 8h1v1h-1zM106 8h1v1h-1zM109 8h1v1h-1zM3 11h1v1h-1zM8 11h1v1h-1zM29 11h1v1h-1zM35 11h2v1h-2zM73 11h1v1h-1zM75 11h1v1h-1zM81 11h1v1h-1zM91 11h1v1h-1zM8 12h1v1h-1zM14 12h1v1h-1zM22 12h1v1h-1zM24 12h1v1h-1zM27 12h1v1h-1zM34 12h2v1h-2zM38 12h1v1h-1zM40 12h1v1h-1zM52 12h1v1h-1zM55 12h2v1h-2zM84 12h1v1h-1zM95 12h1v1h-1zM99 12h1v1h-1zM112 12h1v1h-1zM9 13h1v1h-1zM13 13h1v1h-1zM36 13h1v1h-1zM49 13h1v1h-1zM65 13h1v1h-1zM70 13h1v1h-1zM74 13h2v1h-2zM81 13h2v1h-2zM90 13h1v1h-1zM111 13h1v1h-1zM119 13h1v1h-1zM41 15h1v1h-1zM113 15h1v1h-1zM13 17h1v1h-1zM15 17h1v1h-1zM31 17h1v1h-1zM57 17h1v1h-1zM70 17h1v1h-1zM76 17h1v1h-1zM90 17h1v1h-1zM98 17h1v1h-1zM102 17h1v1h-1zM15 18h1v1h-1zM27 18h1v1h-1zM30 18h1v1h-1zM39 18h1v1h-1zM77 18h1v1h-1zM95 18h1v1h-1zM118 18h1v1h-1zM9 19h1v1h-1zM18 19h1v1h-1zM20 19h1v1h-1zM24 19h1v1h-1zM28 19h1v1h-1zM51 19h2v1h-2zM62 19h1v1h-1zM65 19h1v1h-1zM84 19h1v1h-1zM106 19h1v1h-1zM112 19h1v1h-1zM118 19h2v1h-2zM0 20h1v1h-1zM8 20h1v1h-1zM52 20h1v1h-1zM98 20h1v1h-1zM106 20h1v1h-1zM116 20h1v1h-1zM119 20h1v1h-1zM27 22h1v1h-1zM32 22h1v1h-1zM35 22h1v1h-1zM37 22h1v1h-1zM39 22h1v1h-1zM48 22h1v1h-1zM55 22h1v1h-1zM71 22h1v1h-1zM83 22h1v1h-1zM91 22h1v1h-1zM94 22h1v1h-1zM48 23h1v1h-1zM30 24h1v1h-1zM45 24h1v1h-1zM61 24h1v1h-1zM79 24h1v1h-1zM22 25h1v1h-1zM47 25h1v1h-1zM79 25h1v1h-1zM115 25h1v1h-1zM16 26h1v1h-1zM113 26h1v1h-1zM62 29h1v1h-1zM88 31h1v1h-1z"/>
<path fill="#d24644" d="M11 0h1v1h-1zM52 0h1v1h-1zM89 0h1v1h-1zM92 0h1v1h-1zM4 1h1v1h-1zM22 1h1v1h-1zM42 1h1v1h-1zM62 1h1v1h-1zM108 1h1v1h-1zM9 2h1v1h-1zM54 2h1v1h-1zM65 2h1v1h-1zM92 2h1v1h-1zM114 2h1v1h-1zM11 3h1v1h-1zM79 3h1v1h-1zM1 4h2v1h-2zM14 4h1v1h-1zM91 4h1v1h-1zM76 5h1v1h-1zM5 6h1v1h-1zM44 6h1v1h-1zM1 8h1v1h-1zM60 8h1v1h-1zM74 8h1v1h-1zM91 8h1v1h-1zM101 8h1v1h-1zM104 8h2v1h-2zM110 8h1v1h-1zM117 8h2v1h-2zM6 11h1v1h-1zM17 11h1v1h-1zM39 11h1v1h-1zM51 11h1v1h-1zM53 11h1v1h-1zM60 11h1v1h-1zM70 11h1v1h-1zM90 11h1v1h-1zM94 11h1v1h-1zM107 11h1v1h-1zM115 11h1v1h-1zM1 12h1v1h-1zM16 12h1v1h-1zM33 12h1v1h-1zM57 12h2v1h-2zM62 12h1v1h-1zM71 12h1v1h-1zM80 12h1v1h-1zM85 12h1v1h-1zM90 12h1v1h-1zM96 12h1v1h-1zM109 12h1v1h-1zM10 13h1v1h-1zM24 13h1v1h-1zM32 13h1v1h-1zM37 13h1v1h-1zM56 13h1v1h-1zM58 13h1v1h-1zM72 13h1v1h-1zM76 13h1v1h-1zM97 13h1v1h-1zM103 13h1v1h-1zM115 13h1v1h-1zM94 15h1v1h-1zM99 16h1v1h-1zM7 17h1v1h-1zM14 17h1v1h-1zM30 17h1v1h-1zM34 17h1v1h-1zM38 17h1v1h-1zM50 17h2v1h-2zM54 17h1v1h-1zM63 17h1v1h-1zM74 17h1v1h-1zM79 17h1v1h-1zM85 17h1v1h-1zM89 17h1v1h-1zM95 17h1v1h-1zM114 17h1v1h-1zM18 18h1v1h-1zM31 18h1v1h-1zM46 18h1v1h-1zM70 18h1v1h-1zM79 18h1v1h-1zM83 18h1v1h-1zM92 18h1v1h-1zM100 18h1v1h-1zM112 18h1v1h-1zM10 19h1v1h-1zM36 19h1v1h-1zM55 19h1v1h-1zM57 19h1v1h-1zM86 19h1v1h-1zM90 19h1v1h-1zM105 19h1v1h-1zM110 19h1v1h-1zM116 19h1v1h-1zM18 20h2v1h-2zM40 20h1v1h-1zM60 20h1v1h-1zM63 20h1v1h-1zM99 20h1v1h-1zM105 20h1v1h-1zM34 22h1v1h-1zM36 22h1v1h-1zM44 22h1v1h-1zM50 22h1v1h-1zM52 22h1v1h-1zM61 22h1v1h-1zM65 22h1v1h-1zM72 22h1v1h-1zM81 22h1v1h-1zM85 22h2v1h-2zM95 22h1v1h-1zM116 22h1v1h-1zM120 22h1v1h-1zM12 23h2v1h-2zM26 23h2v1h-2zM46 23h1v1h-1zM57 23h1v1h-1zM62 24h1v1h-1zM110 24h1v1h-1zM15 25h1v1h-1zM62 25h1v1h-1zM77 25h1v1h-1zM90 25h1v1h-1zM92 25h1v1h-1zM63 26h1v1h-1zM86 29h1v1h-1zM111 29h1v1h-1zM44 31h1v1h-1z"/>
<path fill="#db503b" d="M23 0h1v1h-1zM30 0h1v1h-1zM19 1h1v1h-1zM46 1h1v1h-1zM69 1h1v1h-1zM104 1h1v1h-1zM40 2h1v1h-1zM8 4h1v1h-1zM20 4h1v1h-1zM36 4h1v1h-1zM42 4h1v1h-1zM71 4h1v1h-1zM78 4h1v1h-1zM84 4h1v1h-1zM87 4h1v1h-1zM113 4h1v1h-1zM118 4h1v1h-1zM34 5h1v1h-1zM14 6h1v1h-1zM16 6h1v1h-1zM25 6h1v1h-1zM77 6h1v1h-1zM107 6h1v1h-1zM11 8h1v1h-1zM48 8h1v1h-1zM68 8h2v1h-2zM73 8h1v1h-1zM103 8h1v1h-1zM1 11h1v1h-1zM11 11h2v1h-2zM14 11h1v1h-1zM16 11h1v1h-1zM20 11h1v1h-1zM28 11h1v1h-1zM33 11h1v1h-1zM42 11h1v1h-1zM55 11h1v1h-1zM57 11h2v1h-2zM87 11h1v1h-1zM89 11h1v1h-1zM112 11h1v1h-1zM11 12h1v1h-1zM18 12h1v1h-1zM20 12h1v1h-1zM25 12h1v1h-1zM43 12h1v1h-1zM64 12h2v1h-2zM67 12h2v1h-2zM79 12h1v1h-1zM82 12h1v1h-1zM89 12h1v1h-1zM93 12h1v1h-1zM2 13h1v1h-1zM14 13h1v1h-1zM26 13h1v1h-1zM29 13h1v1h-1zM40 13h1v1h-1zM53 13h1v1h-1zM98 13h1v1h-1zM110 13h1v1h-1zM14 15h1v1h-1zM1 16h1v1h-1zM34 16h1v1h-1zM49 16h1v1h-1zM51 16h1v1h-1zM82 16h1v1h-1zM95 16h1v1h-1zM0 17h1v1h-1zM9 17h1v1h-1zM26 17h1v1h-1zM39 17h2v1h-2zM43 17h1v1h-1zM49 17h1v1h-1zM53 17h1v1h-1zM64 17h1v1h-1zM67 17h1v1h-1zM71 17h1v1h-1zM73 17h1v1h-1zM80 17h1v1h-1zM82 17h1v1h-1zM93 17h1v1h-1zM103 17h1v1h-1zM106 17h2v1h-2zM118 17h1v1h-1zM3 18h1v1h-1zM9 18h1v1h-1zM19 18h1v1h-1zM23 18h2v1h-2zM29 18h1v1h-1zM41 18h1v1h-1zM50 18h1v1h-1zM60 18h1v1h-1zM68 18h1v1h-1zM85 18h2v1h-2zM88 18h2v1h-2zM93 18h1v1h-1zM97 18h2v1h-2zM115 18h1v1h-1zM120 18h1v1h-1zM2 19h1v1h-1zM16 19h1v1h-1zM19 19h1v1h-1zM30 19h1v1h-1zM34 19h2v1h-2zM39 19h1v1h-1zM46 19h1v1h-1zM60 19h1v1h-1zM64 19h1v1h-1zM70 19h1v1h-1zM78 19h1v1h-1zM101 19h1v1h-1zM103 19h1v1h-1zM107 19h2v1h-2zM120 19h1v1h-1zM7 20h1v1h-1zM30 20h1v1h-1zM90 20h2v1h-2zM118 20h1v1h-1zM2 22h1v1h-1zM14 22h1v1h-1zM21 22h1v1h-1zM64 22h1v1h-1zM70 22h1v1h-1zM82 22h1v1h-1zM84 22h1v1h-1zM100 22h1v1h-1zM107 22h2v1h-2zM2 23h1v1h-1zM20 23h1v1h-1zM13 24h1v1h-1zM15 24h1v1h-1zM116 25h1v1h-1z"/>
<path fill="#e45a31" d="M77 0h1v1h-1zM9 1h1v1h-1zM102 1h1v1h-1zM85 2h1v1h-1zM10 4h1v1h-1zM13 4h1v1h-1zM31 4h1v1h-1zM34 4h1v1h-1zM44 4h1v1h-1zM50 4h1v1h-1zM61 4h1v1h-1zM88 4h1v1h-1zM92 4h1v1h-1zM68 5h1v1h-1zM80 5h1v1h-1zM71 6h1v1h-1zM104 6h1v1h-1zM36 7h1v1h-1zM19 8h1v1h-1zM28 8h1v1h-1zM54 8h1v1h-1zM76 8h1v1h-1zM22 11h1v1h-1zM24 11h1v1h-1zM26 11h1v1h-1zM34 11h1v1h-1zM43 11h1v1h-1zM80 11h1v1h-1zM85 11h1v1h-1zM96 11h1v1h-1zM99 11h1v1h-1zM109 11h1v1h-1zM111 11h1v1h-1zM42 12h1v1h-1zM47 12h1v1h-1zM59 12h1v1h-1zM69 12h1v1h-1zM75 12h1v1h-1zM81 12h1v1h-1zM86 12h3v1h-3zM113 12h1v1h-1zM0 13h1v1h-1zM18 13h2v1h-2zM27 13h1v1h-1zM43 13h1v1h-1zM46 13h1v1h-1zM48 13h1v1h-1zM52 13h1v1h-1zM59 13h1v1h-1zM66 13h1v1h-1zM71 13h1v1h-1zM85 13h2v1h-2zM91 13h1v1h-1zM106 13h2v1h-2zM109 13h1v1h-1zM112 13h1v1h-1zM114 13h1v1h-1zM67 14h1v1h-1zM64 15h1v1h-1zM4 16h1v1h-1zM17 16h1v1h-1zM25 16h1v1h-1zM29 16h1v1h-1zM40 16h1v1h-1zM50 16h1v1h-1zM54 16h2v1h-2zM65 16h1v1h-1zM72 16h1v1h-1zM75 16h3v1h-3zM84 16h2v1h-2zM87 16h1v1h-1zM89 16h1v1h-1zM92 16h1v1h-1zM98 16h1v1h-1zM102 16h1v1h-1zM114 16h1v1h-1zM1 17h1v1h-1zM4 17h1v1h-1zM6 17h1v1h-1zM12 17h1v1h-1zM17 17h1v1h-1zM23 17h1v1h-1zM25 17h1v1h-1zM27 17h1v1h-1zM45 17h1v1h-1zM52 17h1v1h-1zM55 17h2v1h-2zM66 17h1v1h-1zM68 17h1v1h-1zM83 17h1v1h-1zM86 17h1v1h-1zM92 17h1v1h-1zM100 17h2v1h-2zM109 17h1v1h-1zM116 17h1v1h-1zM119 17h1v1h-1zM5 18h1v1h-1zM7 18h1v1h-1zM16 18h1v1h-1zM25 18h2v1h-2zM32 18h1v1h-1zM36 18h1v1h-1zM38 18h1v1h-1zM47 18h2v1h-2zM54 18h1v1h-1zM56 18h1v1h-1zM58 18h1v1h-1zM66 18h1v1h-1zM76 18h1v1h-1zM81 18h1v1h-1zM84 18h1v1h-1zM87 18h1v1h-1zM99 18h1v1h-1zM105 18h1v1h-1zM108 18h1v1h-1zM111 18h1v1h-1zM114 18h1v1h-1zM116 18h1v1h-1zM4 19h2v1h-2zM7 19h2v1h-2zM22 19h2v1h-2zM26 19h1v1h-1zM41 19h1v1h-1zM82 19h1v1h-1zM85 19h1v1h-1zM91 19h1v1h-1zM99 19h1v1h-1zM102 19h1v1h-1zM109 19h1v1h-1zM115 19h1v1h-1zM3 20h2v1h-2zM12 20h1v1h-1zM20 20h1v1h-1zM23 20h1v1h-1zM26 20h1v1h-1zM31 20h4v1h-4zM39 20h1v1h-1zM42 20h1v1h-1zM46 20h1v1h-1zM53 20h1v1h-1zM57 20h1v1h-1zM64 20h1v1h-1zM67 20h1v1h-1zM71 20h1v1h-1zM74 20h2v1h-2zM82 20h2v1h-2zM100 20h1v1h-1zM109 20h1v1h-1zM120 20h1v1h-1zM85 21h1v1h-1zM0 22h1v1h-1zM8 22h1v1h-1zM11 22h1v1h-1zM40 22h1v1h-1zM43 22h1v1h-1zM57 22h1v1h-1zM62 22h1v1h-1zM69 22h1v1h-1zM75 22h1v1h-1zM80 22h1v1h-1zM96 22h1v1h-1zM110 22h1v1h-1zM112 22h1v1h-1zM17 23h1v1h-1zM35 23h1v1h-1zM37 23h1v1h-1zM113 24h1v1h-1zM19 25h1v1h-1zM100 25h1v1h-1zM107 25h1v1h-1zM12 31h1v1h-1zM45 31h1v1h-1z"/>
<path fill="#eb6628" d="M119 1h1v1h-1zM47 2h1v1h-1zM107 2h1v1h-1zM6 4h1v1h-1zM15 4h1v1h-1zM33 4h1v1h-1zM35 4h1v1h-1zM41 4h1v1h-1zM65 4h1v1h-1zM86 4h1v1h-1zM90 4h1v1h-1zM101 4h1v1h-1zM31 5h1v1h-1zM36 5h1v1h-1zM119 5h1v1h-1zM3 8h1v1h-1zM13 8h1v1h-1zM22 8h1v1h-1zM24 8h1v1h-1zM51 8h1v1h-1zM83 8h1v1h-1zM92 8h1v1h-1zM107 8h1v1h-1zM88 10h1v1h-1zM116 10h1v1h-1zM27 11h1v1h-1zM30 11h1v1h-1zM32 11h1v1h-1zM37 11h2v1h-2zM48 11h1v1h-1zM67 11h1v1h-1zM78 11h2v1h-2zM86 11h1v1h-1zM104 11h1v1h-1zM114 11h1v1h-1zM116 11h1v1h-1zM3 12h1v1h-1zM6 12h1v1h-1zM9 12h1v1h-1zM17 12h1v1h-1zM23 12h1v1h-1zM50 12h1v1h-1zM70 12h1v1h-1zM101 12h1v1h-1zM114 12h1v1h-1zM118 12h2v1h-2zM3 13h1v1h-1zM12 13h1v1h-1zM28 13h1v1h-1zM30 13h1v1h-1zM35 13h1v1h-1zM38 13h1v1h-1zM41 13h1v1h-1zM54 13h1v1h-1zM57 13h1v1h-1zM63 13h2v1h-2zM78 13h1v1h-1zM88 13h2v1h-2zM95 13h1v1h-1zM30 14h1v1h-1zM49 14h1v1h-1zM107 14h1v1h-1zM5 16h1v1h-1zM9 16h1v1h-1zM14 16h1v1h-1zM16 16h1v1h-1zM23 16h1v1h-1zM32 16h1v1h-1zM47 16h1v1h-1zM60 16h1v1h-1zM71 16h1v1h-1zM79 16h1v1h-1zM81 16h1v1h-1zM83 16h1v1h-1zM96 16h1v1h-1zM104 16h1v1h-1zM117 16h1v1h-1zM119 16h1v1h-1zM5 17h1v1h-1zM8 17h1v1h-1zM20 17h1v1h-1zM28 17h1v1h-1zM41 17h1v1h-1zM48 17h1v1h-1zM58 17h1v1h-1zM61 17h1v1h-1zM69 17h1v1h-1zM81 17h1v1h-1zM91 17h1v1h-1zM94 17h1v1h-1zM111 17h1v1h-1zM115 17h1v1h-1zM2 18h1v1h-1zM14 18h1v1h-1zM33 18h1v1h-1zM35 18h1v1h-1zM40 18h1v1h-1zM52 18h1v1h-1zM55 18h1v1h-1zM61 18h2v1h-2zM67 18h1v1h-1zM69 18h1v1h-1zM75 18h1v1h-1zM82 18h1v1h-1zM91 18h1v1h-1zM94 18h1v1h-1zM109 18h2v1h-2zM119 18h1v1h-1zM0 19h1v1h-1zM15 19h1v1h-1zM25 19h1v1h-1zM37 19h1v1h-1zM44 19h1v1h-1zM47 19h1v1h-1zM50 19h1v1h-1zM54 19h1v1h-1zM63 19h1v1h-1zM77 19h1v1h-1zM79 19h3v1h-3zM83 19h1v1h-1zM96 19h1v1h-1zM111 19h1v1h-1zM117 19h1v1h-1zM9 20h2v1h-2zM35 20h1v1h-1zM38 20h1v1h-1zM45 20h1v1h-1zM55 20h1v1h-1zM65 20h1v1h-1zM73 20h1v1h-1zM79 20h1v1h-1zM84 20h1v1h-1zM86 20h1v1h-1zM94 20h1v1h-1zM97 20h1v1h-1zM107 20h1v1h-1zM114 20h2v1h-2zM62 21h1v1h-1zM115 21h1v1h-1zM4 22h1v1h-1zM9 22h1v1h-1zM13 22h1v1h-1zM16 22h2v1h-2zM23 22h1v1h-1zM28 22h1v1h-1zM38 22h1v1h-1zM56 22h1v1h-1zM59 22h1v1h-1zM76 22h1v1h-1zM104 22h2v1h-2zM4 23h1v1h-1zM11 23h1v1h-1zM31 23h1v1h-1zM38 23h1v1h-1zM0 31h1v1h-1zM41 31h1v1h-1z"/>
<path fill="#f1731d" d="M15 0h1v1h-1zM63 1h1v1h-1zM25 4h1v1h-1zM43 4h1v1h-1zM52 4h1v1h-1zM58 4h1v1h-1zM32 7h2v1h-2zM99 7h1v1h-1zM116 7h1v1h-1zM14 8h1v1h-1zM20 8h1v1h-1zM38 8h1v1h-1zM46 8h1v1h-1zM50 8h1v1h-1zM59 8h1v1h-1zM72 8h1v1h-1zM79 8h2v1h-2zM87 8h1v1h-1zM108 8h1v1h-1zM112 8h1v1h-1zM15 10h1v1h-1zM40 10h1v1h-1zM46 10h1v1h-1zM7 11h1v1h-1zM10 11h1v1h-1zM25 11h1v1h-1zM59 11h1v1h-1zM61 11h1v1h-1zM82 11h1v1h-1zM88 11h1v1h-1zM102 11h1v1h-1zM110 11h1v1h-1zM118 11h2v1h-2zM12 12h1v1h-1zM15 12h1v1h-1zM72 12h1v1h-1zM76 12h1v1h-1zM91 12h1v1h-1zM100 12h1v1h-1zM104 12h1v1h-1zM106 12h1v1h-1zM4 13h1v1h-1zM8 13h1v1h-1zM15 13h2v1h-2zM22 13h1v1h-1zM31 13h1v1h-1zM44 13h2v1h-2zM77 13h1v1h-1zM99 13h1v1h-1zM101 13h2v1h-2zM104 13h1v1h-1zM113 13h1v1h-1zM116 13h1v1h-1zM97 14h1v1h-1zM2 16h2v1h-2zM7 16h1v1h-1zM26 16h2v1h-2zM41 16h1v1h-1zM44 16h1v1h-1zM61 16h1v1h-1zM67 16h1v1h-1zM80 16h1v1h-1zM101 16h1v1h-1zM103 16h1v1h-1zM106 16h2v1h-2zM112 16h1v1h-1zM120 16h1v1h-1zM46 17h1v1h-1zM60 17h1v1h-1zM62 17h1v1h-1zM72 17h1v1h-1zM75 17h1v1h-1zM77 17h2v1h-2zM84 17h1v1h-1zM99 17h1v1h-1zM110 17h1v1h-1zM113 17h1v1h-1zM10 18h1v1h-1zM12 18h1v1h-1zM34 18h1v1h-1zM37 18h1v1h-1zM43 18h1v1h-1zM51 18h1v1h-1zM57 18h1v1h-1zM63 18h1v1h-1zM65 18h1v1h-1zM71 18h2v1h-2zM80 18h1v1h-1zM113 18h1v1h-1zM1 19h1v1h-1zM3 19h1v1h-1zM6 19h1v1h-1zM12 19h1v1h-1zM21 19h1v1h-1zM29 19h1v1h-1zM42 19h2v1h-2zM45 19h1v1h-1zM67 19h1v1h-1zM73 19h1v1h-1zM89 19h1v1h-1zM114 19h1v1h-1zM2 20h1v1h-1zM5 20h1v1h-1zM11 20h1v1h-1zM15 20h1v1h-1zM17 20h1v1h-1zM21 20h1v1h-1zM25 20h1v1h-1zM27 20h2v1h-2zM47 20h1v1h-1zM49 20h1v1h-1zM59 20h1v1h-1zM61 20h2v1h-2zM69 20h2v1h-2zM80 20h1v1h-1zM85 20h1v1h-1zM87 20h1v1h-1zM95 20h1v1h-1zM104 20h1v1h-1zM108 20h1v1h-1zM110 20h4v1h-4zM3 21h1v1h-1zM7 21h1v1h-1zM9 21h1v1h-1zM33 21h1v1h-1zM73 21h1v1h-1zM94 21h1v1h-1zM100 21h1v1h-1zM109 21h1v1h-1zM3 22h1v1h-1zM19 22h1v1h-1zM24 22h2v1h-2zM29 22h1v1h-1zM54 22h1v1h-1zM60 22h1v1h-1zM88 22h1v1h-1zM93 22h1v1h-1zM99 22h1v1h-1zM106 22h1v1h-1zM111 22h1v1h-1zM5 23h1v1h-1zM23 23h1v1h-1zM54 23h1v1h-1zM21 25h1v1h-1zM36 31h1v1h-1zM53 31h1v1h-1zM110 31h1v1h-1z"/>
<path fill="#f68013" d="M0 2h1v1h-1zM33 2h1v1h-1zM3 4h1v1h-1zM29 4h1v1h-1zM47 4h1v1h-1zM53 4h1v1h-1zM96 4h1v1h-1zM103 4h1v1h-1zM109 4h1v1h-1zM17 5h1v1h-1zM60 5h1v1h-1zM9 7h1v1h-1zM27 7h1v1h-1zM29 7h1v1h-1zM35 7h1v1h-1zM42 7h1v1h-1zM50 7h1v1h-1zM62 7h2v1h-2zM79 7h1v1h-1zM81 7h2v1h-2zM91 7h1v1h-1zM98 7h1v1h-1zM101 7h1v1h-1zM114 7h1v1h-1zM117 7h1v1h-1zM5 8h1v1h-1zM25 8h1v1h-1zM39 8h1v1h-1zM2 10h2v1h-2zM31 10h1v1h-1zM42 10h1v1h-1zM73 10h1v1h-1zM76 10h1v1h-1zM78 10h1v1h-1zM89 10h1v1h-1zM92 10h1v1h-1zM101 10h1v1h-1zM106 10h1v1h-1zM49 11h1v1h-1zM56 11h1v1h-1zM62 11h1v1h-1zM66 11h1v1h-1zM66 12h1v1h-1zM115 12h1v1h-1zM117 12h1v1h-1zM1 13h1v1h-1zM5 13h1v1h-1zM11 13h1v1h-1zM23 13h1v1h-1zM61 13h1v1h-1zM68 13h1v1h-1zM96 13h1v1h-1zM46 14h1v1h-1zM50 14h1v1h-1zM53 14h1v1h-1zM59 14h1v1h-1zM64 14h1v1h-1zM101 14h1v1h-1zM115 14h1v1h-1zM117 14h1v1h-1zM0 16h1v1h-1zM11 16h1v1h-1zM15 16h1v1h-1zM19 16h1v1h-1zM21 16h2v1h-2zM24 16h1v1h-1zM31 16h1v1h-1zM33 16h1v1h-1zM38 16h2v1h-2zM42 16h2v1h-2zM48 16h1v1h-1zM57 16h1v1h-1zM59 16h1v1h-1zM64 16h1v1h-1zM73 16h1v1h-1zM88 16h1v1h-1zM90 16h1v1h-1zM97 16h1v1h-1zM113 16h1v1h-1zM115 16h1v1h-1zM10 17h1v1h-1zM33 17h1v1h-1zM37 17h1v1h-1zM47 17h1v1h-1zM8 18h1v1h-1zM20 18h2v1h-2zM44 18h2v1h-2zM73 18h1v1h-1zM96 18h1v1h-1zM104 18h1v1h-1zM87 19h1v1h-1zM92 19h1v1h-1zM94 19h1v1h-1zM22 20h1v1h-1zM24 20h1v1h-1zM37 20h1v1h-1zM43 20h2v1h-2zM48 20h1v1h-1zM51 20h1v1h-1zM68 20h1v1h-1zM76 20h1v1h-1zM92 20h2v1h-2zM103 20h1v1h-1zM12 21h1v1h-1zM44 21h1v1h-1zM67 21h1v1h-1zM71 21h1v1h-1zM86 21h1v1h-1zM107 21h1v1h-1zM117 21h1v1h-1zM1 22h1v1h-1zM18 22h1v1h-1zM53 22h1v1h-1zM113 22h1v1h-1zM117 22h2v1h-2zM56 23h1v1h-1zM57 31h1v1h-1z"/>
<path fill="#f98e09" d="M4 4h1v1h-1zM64 4h1v1h-1zM2 7h1v1h-1zM12 7h3v1h-3zM17 7h2v1h-2zM20 7h2v1h-2zM48 7h1v1h-1zM52 7h1v1h-1zM57 7h2v1h-2zM67 7h1v1h-1zM74 7h1v1h-1zM80 7h1v1h-1zM83 7h2v1h-2zM90 7h1v1h-1zM103 7h1v1h-1zM0 8h1v1h-1zM15 8h1v1h-1zM43 8h1v1h-1zM65 8h1v1h-1zM114 8h2v1h-2zM6 10h1v1h-1zM9 10h1v1h-1zM26 10h2v1h-2zM32 10h1v1h-1zM41 10h1v1h-1zM50 10h1v1h-1zM55 10h1v1h-1zM57 10h1v1h-1zM59 10h1v1h-1zM62 10h1v1h-1zM71 10h1v1h-1zM75 10h1v1h-1zM77 10h1v1h-1zM83 10h2v1h-2zM86 10h1v1h-1zM91 10h1v1h-1zM5 11h1v1h-1zM13 11h1v1h-1zM47 11h1v1h-1zM97 11h1v1h-1zM19 12h1v1h-1zM53 12h1v1h-1zM61 12h1v1h-1zM103 12h1v1h-1zM108 12h1v1h-1zM120 12h1v1h-1zM21 13h1v1h-1zM42 13h1v1h-1zM12 14h2v1h-2zM17 14h1v1h-1zM28 14h1v1h-1zM42 14h1v1h-1zM56 14h1v1h-1zM62 14h1v1h-1zM87 14h1v1h-1zM90 14h1v1h-1zM95 14h2v1h-2zM108 14h1v1h-1zM112 14h1v1h-1zM6 16h1v1h-1zM8 16h1v1h-1zM13 16h1v1h-1zM18 16h1v1h-1zM30 16h1v1h-1zM37 16h1v1h-1zM46 16h1v1h-1zM53 16h1v1h-1zM56 16h1v1h-1zM66 16h1v1h-1zM69 16h2v1h-2zM78 16h1v1h-1zM86 16h1v1h-1zM108 16h2v1h-2zM111 16h1v1h-1zM118 16h1v1h-1zM19 17h1v1h-1zM35 17h1v1h-1zM59 17h1v1h-1zM42 18h1v1h-1zM31 19h1v1h-1zM48 19h1v1h-1zM72 19h1v1h-1zM6 20h1v1h-1zM13 20h1v1h-1zM41 20h1v1h-1zM50 20h1v1h-1zM66 20h1v1h-1zM77 20h1v1h-1zM88 20h2v1h-2zM96 20h1v1h-1zM21 21h1v1h-1zM30 21h2v1h-2zM50 21h1v1h-1zM58 21h2v1h-2zM61 21h1v1h-1zM83 21h1v1h-1zM87 21h1v1h-1zM101 21h1v1h-1zM7 22h1v1h-1zM10 22h1v1h-1zM20 22h1v1h-1zM58 22h1v1h-1zM103 22h1v1h-1zM114 22h1v1h-1zM16 23h1v1h-1zM50 23h1v1h-1zM107 24h1v1h-1zM66 25h1v1h-1z"/>
<path fill="#fb9d07" d="M104 4h1v1h-1zM73 5h1v1h-1zM1 7h1v1h-1zM7 7h1v1h-1zM10 7h2v1h-2zM22 7h3v1h-3zM28 7h1v1h-1zM31 7h1v1h-1zM44 7h1v1h-1zM55 7h2v1h-2zM69 7h1v1h-1zM73 7h1v1h-1zM75 7h1v1h-1zM87 7h1v1h-1zM93 7h1v1h-1zM97 7h1v1h-1zM104 7h3v1h-3zM110 7h2v1h-2zM115 7h1v1h-1zM118 7h1v1h-1zM2 8h1v1h-1zM8 8h1v1h-1zM57 8h1v1h-1zM89 8h1v1h-1zM1 10h1v1h-1zM8 10h1v1h-1zM18 10h1v1h-1zM22 10h1v1h-1zM30 10h1v1h-1zM43 10h1v1h-1zM45 10h1v1h-1zM53 10h2v1h-2zM56 10h1v1h-1zM63 10h1v1h-1zM69 10h1v1h-1zM72 10h1v1h-1zM74 10h1v1h-1zM81 10h2v1h-2zM87 10h1v1h-1zM93 10h1v1h-1zM95 10h1v1h-1zM103 10h1v1h-1zM110 10h1v1h-1zM113 10h1v1h-1zM115 10h1v1h-1zM45 11h1v1h-1zM74 11h1v1h-1zM77 11h1v1h-1zM120 11h1v1h-1zM67 13h1v1h-1zM92 13h1v1h-1zM14 14h2v1h-2zM26 14h1v1h-1zM34 14h1v1h-1zM43 14h1v1h-1zM45 14h1v1h-1zM57 14h1v1h-1zM68 14h2v1h-2zM75 14h1v1h-1zM80 14h1v1h-1zM83 14h3v1h-3zM94 14h1v1h-1zM35 16h1v1h-1zM58 16h1v1h-1zM62 16h1v1h-1zM93 16h2v1h-2zM100 16h1v1h-1zM116 16h1v1h-1zM104 17h1v1h-1zM102 18h1v1h-1zM107 18h1v1h-1zM56 19h1v1h-1zM104 19h1v1h-1zM1 20h1v1h-1zM14 20h1v1h-1zM29 20h1v1h-1zM36 20h1v1h-1zM56 20h1v1h-1zM72 20h1v1h-1zM78 20h1v1h-1zM81 20h1v1h-1zM5 21h2v1h-2zM18 21h1v1h-1zM20 21h1v1h-1zM29 21h1v1h-1zM36 21h1v1h-1zM41 21h2v1h-2zM46 21h1v1h-1zM51 21h1v1h-1zM53 21h1v1h-1zM60 21h1v1h-1zM63 21h2v1h-2zM76 21h1v1h-1zM78 21h1v1h-1zM81 21h1v1h-1zM88 21h1v1h-1zM102 21h1v1h-1zM111 21h1v1h-1zM114 21h1v1h-1zM119 21h1v1h-1zM5 22h1v1h-1zM46 22h1v1h-1zM66 22h1v1h-1zM77 22h1v1h-1zM79 22h1v1h-1zM33 23h1v1h-1zM51 23h1v1h-1z"/>
<path fill="#fcac11" d="M49 4h1v1h-1zM15 7h1v1h-1zM19 7h1v1h-1zM26 7h1v1h-1zM34 7h1v1h-1zM39 7h3v1h-3zM45 7h3v1h-3zM53 7h1v1h-1zM64 7h1v1h-1zM66 7h1v1h-1zM68 7h1v1h-1zM72 7h1v1h-1zM89 7h1v1h-1zM94 7h2v1h-2zM102 7h1v1h-1zM108 7h2v1h-2zM112 7h1v1h-1zM53 8h1v1h-1zM84 8h1v1h-1zM0 10h1v1h-1zM11 10h2v1h-2zM14 10h1v1h-1zM16 10h1v1h-1zM19 10h1v1h-1zM21 10h1v1h-1zM25 10h1v1h-1zM29 10h1v1h-1zM64 10h3v1h-3zM68 10h1v1h-1zM70 10h1v1h-1zM80 10h1v1h-1zM97 10h2v1h-2zM100 10h1v1h-1zM105 10h1v1h-1zM108 10h1v1h-1zM117 10h1v1h-1zM15 11h1v1h-1zM72 11h1v1h-1zM5 12h1v1h-1zM10 12h1v1h-1zM21 12h1v1h-1zM26 12h1v1h-1zM39 12h1v1h-1zM107 12h1v1h-1zM93 13h2v1h-2zM4 14h1v1h-1zM8 14h1v1h-1zM16 14h1v1h-1zM20 14h1v1h-1zM23 14h1v1h-1zM27 14h1v1h-1zM37 14h1v1h-1zM44 14h1v1h-1zM48 14h1v1h-1zM58 14h1v1h-1zM66 14h1v1h-1zM70 14h1v1h-1zM72 14h1v1h-1zM92 14h1v1h-1zM98 14h1v1h-1zM102 14h1v1h-1zM104 14h1v1h-1zM106 14h1v1h-1zM109 14h1v1h-1zM114 14h1v1h-1zM116 14h1v1h-1zM118 14h1v1h-1zM10 16h1v1h-1zM20 16h1v1h-1zM36 16h1v1h-1zM45 16h1v1h-1zM52 16h1v1h-1zM63 16h1v1h-1zM105 16h1v1h-1zM110 16h1v1h-1zM76 19h1v1h-1zM0 21h1v1h-1zM2 21h1v1h-1zM10 21h1v1h-1zM13 21h1v1h-1zM19 21h1v1h-1zM22 21h1v1h-1zM24 21h2v1h-2zM27 21h1v1h-1zM32 21h1v1h-1zM34 21h1v1h-1zM37 21h3v1h-3zM45 21h1v1h-1zM48 21h2v1h-2zM57 21h1v1h-1zM68 21h1v1h-1zM74 21h2v1h-2zM84 21h1v1h-1zM89 21h2v1h-2zM103 21h1v1h-1zM108 21h1v1h-1zM116 21h1v1h-1zM118 21h1v1h-1zM30 22h1v1h-1zM73 22h1v1h-1zM19 23h1v1h-1z"/>
<path fill="#fbbc21" d="M66 4h1v1h-1zM0 7h1v1h-1zM3 7h1v1h-1zM5 7h1v1h-1zM25 7h1v1h-1zM51 7h1v1h-1zM54 7h1v1h-1zM59 7h1v1h-1zM61 7h1v1h-1zM71 7h1v1h-1zM78 7h1v1h-1zM85 7h2v1h-2zM88 7h1v1h-1zM92 7h1v1h-1zM96 7h1v1h-1zM107 7h1v1h-1zM9 8h1v1h-1zM16 8h1v1h-1zM35 8h1v1h-1zM4 10h2v1h-2zM10 10h1v1h-1zM23 10h1v1h-1zM34 10h1v1h-1zM36 10h1v1h-1zM38 10h1v1h-1zM44 10h1v1h-1zM48 10h2v1h-2zM52 10h1v1h-1zM79 10h1v1h-1zM85 10h1v1h-1zM90 10h1v1h-1zM94 10h1v1h-1zM107 10h1v1h-1zM112 10h1v1h-1zM120 10h1v1h-1zM80 13h1v1h-1zM2 14h2v1h-2zM5 14h1v1h-1zM11 14h1v1h-1zM18 14h2v1h-2zM22 14h1v1h-1zM24 14h1v1h-1zM29 14h1v1h-1zM32 14h1v1h-1zM35 14h1v1h-1zM39 14h3v1h-3zM47 14h1v1h-1zM52 14h1v1h-1zM60 14h1v1h-1zM65 14h1v1h-1zM71 14h1v1h-1zM73 14h2v1h-2zM76 14h2v1h-2zM79 14h1v1h-1zM82 14h1v1h-1zM88 14h2v1h-2zM113 14h1v1h-1zM12 16h1v1h-1zM28 16h1v1h-1zM68 16h1v1h-1zM74 16h1v1h-1zM91 16h1v1h-1zM18 17h1v1h-1zM16 20h1v1h-1zM1 21h1v1h-1zM8 21h1v1h-1zM11 21h1v1h-1zM15 21h3v1h-3zM23 21h1v1h-1zM35 21h1v1h-1zM40 21h1v1h-1zM43 21h1v1h-1zM52 21h1v1h-1zM55 21h1v1h-1zM65 21h2v1h-2zM69 21h1v1h-1zM77 21h1v1h-1zM79 21h2v1h-2zM82 21h1v1h-1zM91 21h2v1h-2zM96 21h1v1h-1zM98 21h2v1h-2zM104 21h3v1h-3zM120 21h1v1h-1zM74 22h1v1h-1z"/>
<path fill="#f9cb35" d="M37 4h1v1h-1zM61 5h1v1h-1zM4 7h1v1h-1zM6 7h1v1h-1zM8 7h1v1h-1zM16 7h1v1h-1zM30 7h1v1h-1zM37 7h2v1h-2zM43 7h1v1h-1zM60 7h1v1h-1zM65 7h1v1h-1zM70 7h1v1h-1zM77 7h1v1h-1zM100 7h1v1h-1zM113 7h1v1h-1zM119 7h1v1h-1zM56 8h1v1h-1zM120 8h1v1h-1zM7 10h1v1h-1zM13 10h1v1h-1zM17 10h1v1h-1zM33 10h1v1h-1zM35 10h1v1h-1zM39 10h1v1h-1zM58 10h1v1h-1zM67 10h1v1h-1zM96 10h1v1h-1zM102 10h1v1h-1zM114 10h1v1h-1zM118 10h2v1h-2zM7 14h1v1h-1zM9 14h2v1h-2zM31 14h1v1h-1zM36 14h1v1h-1zM38 14h1v1h-1zM61 14h1v1h-1zM78 14h1v1h-1zM81 14h1v1h-1zM91 14h1v1h-1zM93 14h1v1h-1zM99 14h1v1h-1zM103 14h1v1h-1zM120 14h1v1h-1zM102 20h1v1h-1zM4 21h1v1h-1zM14 21h1v1h-1zM26 21h1v1h-1zM28 21h1v1h-1zM56 21h1v1h-1zM72 21h1v1h-1zM93 21h1v1h-1zM97 21h1v1h-1zM110 21h1v1h-1zM85 25h1v1h-1z"/>
<path fill="#f5db4c" d="M26 4h1v1h-1zM49 7h1v1h-1zM120 7h1v1h-1zM20 10h1v1h-1zM24 10h1v1h-1zM28 10h1v1h-1zM47 10h1v1h-1zM61 10h1v1h-1zM99 10h1v1h-1zM109 10h1v1h-1zM0 14h1v1h-1zM21 14h1v1h-1zM33 14h1v1h-1zM55 14h1v1h-1zM63 14h1v1h-1zM86 14h1v1h-1zM110 14h2v1h-2zM119 14h1v1h-1zM47 21h1v1h-1zM54 21h1v1h-1zM70 21h1v1h-1zM113 21h1v1h-1z"/>
<path fill="#f2ea69" d="M37 10h1v1h-1zM60 10h1v1h-1zM104 10h1v1h-1zM6 14h1v1h-1zM54 14h1v1h-1zM100 14h1v1h-1zM95 21h1v1h-1zM112 21h1v1h-1z"/>
<path fill="#f3f68a" d="M76 7h1v1h-1zM51 10h1v1h-1zM111 10h1v1h-1zM1 14h1v1h-1zM25 14h1v1h-1zM51 14h1v1h-1zM105 14h1v1h-1zM43 23h1v1h-1z"/>
</g>
<pattern id="seam_hb0" x="275.7" y="979.0" width="2.50149" height="28.0" patternUnits="userSpaceOnUse"><rect x="0" y="0" width="0.6" height="28.0" fill="#fff" fill-opacity="0.13"/><rect x="0" y="0" width="2.50149" height="0.7" fill="#fff" fill-opacity="0.10"/></pattern>
<rect x="275.7" y="979.0" width="505.30" height="1036.00" fill="url(#seam_hb0)"/>
<pattern id="seam_hb1" x="781.0" y="979.0" width="2.50000" height="28.0" patternUnits="userSpaceOnUse"><rect x="0" y="0" width="0.6" height="28.0" fill="#fff" fill-opacity="0.13"/><rect x="0" y="0" width="2.50000" height="0.7" fill="#fff" fill-opacity="0.10"/></pattern>
<rect x="781.0" y="979.0" width="107.50" height="1036.00" fill="url(#seam_hb1)"/>
<pattern id="seam_hb2" x="888.5" y="979.0" width="2.51074" height="28.0" patternUnits="userSpaceOnUse"><rect x="0" y="0" width="0.6" height="28.0" fill="#fff" fill-opacity="0.13"/><rect x="0" y="0" width="2.51074" height="0.7" fill="#fff" fill-opacity="0.10"/></pattern>
<rect x="888.5" y="979.0" width="303.80" height="1036.00" fill="url(#seam_hb2)"/>
<rect x="780.10" y="979.0" width="1.8" height="1036.00" fill="#fff"/>
<rect x="887.60" y="979.0" width="1.8" height="1036.00" fill="#fff"/>
<rect x="275.7" y="1595.45" width="916.60" height="1.9" fill="#fff"/>
</g>
<rect x="277.00" y="2024.6" width="504.60" height="27.4" fill="#7b2f9b"/>
<rect x="781.30" y="2024.6" width="107.00" height="27.4" fill="#46597f"/>
<rect x="888.00" y="2024.6" width="303.80" height="27.4" fill="#4b9bb7"/>
<text x="430.4" y="2095.3" font-size="43.2" fill="#7b2f9b" text-anchor="start" font-style="italic" font-weight="normal">Slco2a1</text>
<text x="762.4" y="2099.8" font-size="43.2" fill="#46597f" text-anchor="start" font-style="italic" font-weight="normal">Npsr1</text>
<text x="971.5" y="2099.8" font-size="43.2" fill="#4b9bb7" text-anchor="start" font-style="italic" font-weight="normal">Hpgd</text>
<text x="262.8" y="1000.5" font-size="25.8" fill="#000" text-anchor="end" font-style="italic" font-weight="normal">Mdga1</text>
<text x="260.8" y="1029" font-size="25.8" fill="#000" text-anchor="end" font-style="italic" font-weight="normal">Igsf3</text>
<text x="261.8" y="1057" font-size="25.8" fill="#000" text-anchor="end" font-style="italic" font-weight="normal">Ptgfrn</text>
<text x="260.8" y="1085" font-size="25.8" fill="#000" text-anchor="end" font-style="italic" font-weight="normal">Kcng3</text>
<text x="261.8" y="1115.7" font-size="25.8" fill="#000" text-anchor="end" font-style="italic" font-weight="normal">Grin3a</text>
<text x="262.8" y="1141.2" font-size="25.8" fill="#000" text-anchor="end" font-style="italic" font-weight="normal">Npsr1</text>
<text x="261.8" y="1171.7" font-size="25.8" fill="#000" text-anchor="end" font-style="italic" font-weight="normal">Sema6a</text>
<text x="261.8" y="1198" font-size="25.8" fill="#000" text-anchor="end" font-style="italic" font-weight="normal">Atp2b4</text>
<text x="261.8" y="1228.3" font-size="25.8" fill="#000" text-anchor="end" font-style="italic" font-weight="normal">Rcan2</text>
<text x="261.8" y="1256.5" font-size="25.8" fill="#000" text-anchor="end" font-style="italic" font-weight="normal">AI504432</text>
<text x="262.8" y="1284.6" font-size="25.8" fill="#000" text-anchor="end" font-style="italic" font-weight="normal">Etv1</text>
<text x="261.8" y="1312.3" font-size="25.8" fill="#000" text-anchor="end" font-style="italic" font-weight="normal">Reln</text>
<text x="260.8" y="1340.6" font-size="25.8" fill="#000" text-anchor="end" font-style="italic" font-weight="normal">Car10</text>
<text x="261.8" y="1368.7" font-size="25.8" fill="#000" text-anchor="end" font-style="italic" font-weight="normal">Sema3c</text>
<text x="261.8" y="1394.4" font-size="25.8" fill="#000" text-anchor="end" font-style="italic" font-weight="normal">Stxbp6</text>
<text x="261.8" y="1422.3" font-size="25.8" fill="#000" text-anchor="end" font-style="italic" font-weight="normal">Gpr26</text>
<text x="262.8" y="1450.4" font-size="25.8" fill="#000" text-anchor="end" font-style="italic" font-weight="normal">Nrip1</text>
<text x="261.8" y="1480.6" font-size="25.8" fill="#000" text-anchor="end" font-style="italic" font-weight="normal">Ildr2</text>
<text x="260.8" y="1509.1" font-size="25.8" fill="#000" text-anchor="end" font-style="italic" font-weight="normal">Vat1l</text>
<text x="261.8" y="1537.2" font-size="25.8" fill="#000" text-anchor="end" font-style="italic" font-weight="normal">Satb2</text>
<text x="261.8" y="1565.5" font-size="25.8" fill="#000" text-anchor="end" font-style="italic" font-weight="normal">Plcb4</text>
<text x="262.8" y="1593.7" font-size="25.8" fill="#000" text-anchor="end" font-style="italic" font-weight="normal">Chl1</text>
<text x="261.8" y="1621.5" font-size="25.8" fill="#000" text-anchor="end" font-style="italic" font-weight="normal">Slc24a2</text>
<text x="262.8" y="1649.6" font-size="25.8" fill="#000" text-anchor="end" font-style="italic" font-weight="normal">Alcam</text>
<text x="261.8" y="1677.9" font-size="25.8" fill="#000" text-anchor="end" font-style="italic" font-weight="normal">Gfra2</text>
<text x="257.7" y="1705.6" font-size="25.8" fill="#000" text-anchor="end" font-style="italic" font-weight="normal">6330403A02Rik</text>
<text x="262.8" y="1733.5" font-size="25.8" fill="#000" text-anchor="end" font-style="italic" font-weight="normal">Ddah1</text>
<text x="262.8" y="1759.2" font-size="25.8" fill="#000" text-anchor="end" font-style="italic" font-weight="normal">Lypd1</text>
<text x="261.8" y="1789.8" font-size="25.8" fill="#000" text-anchor="end" font-style="italic" font-weight="normal">Rorb</text>
<text x="262.8" y="1818.4" font-size="25.8" fill="#000" text-anchor="end" font-style="italic" font-weight="normal">Necab1</text>
<text x="261.8" y="1846.2" font-size="25.8" fill="#000" text-anchor="end" font-style="italic" font-weight="normal">Ndst4</text>
<text x="261.8" y="1872.2" font-size="25.8" fill="#000" text-anchor="end" font-style="italic" font-weight="normal">St6galnac5</text>
<text x="260.8" y="1899.8" font-size="25.8" fill="#000" text-anchor="end" font-style="italic" font-weight="normal">Bmp3</text>
<text x="260.8" y="1928.4" font-size="25.8" fill="#000" text-anchor="end" font-style="italic" font-weight="normal">Rgs8</text>
<text x="261.8" y="1956.1" font-size="25.8" fill="#000" text-anchor="end" font-style="italic" font-weight="normal">Rgs5</text>
<text x="262.8" y="1983.7" font-size="25.8" fill="#000" text-anchor="end" font-style="italic" font-weight="normal">Plp1</text>
<text x="261.8" y="2012.2" font-size="25.8" fill="#000" text-anchor="end" font-style="italic" font-weight="normal">Trpc6</text>
<rect x="1268" y="990.4" width="31" height="245.8" fill="url(#ginf)" fill-opacity="0.7"/>
<text x="1303.3" y="989.4" font-size="43" fill="#000" text-anchor="start" font-style="italic" font-weight="normal">3.02</text>
<text transform="translate(1302.7,1266) scale(1,0.82)" font-size="41" font-style="italic">0</text>
<text transform="translate(1246.5,1253.3) rotate(-90) scale(1.032,1)" font-size="42.3" font-style="italic" text-anchor="start">Log<tspan font-size="27" dy="9">10</tspan><tspan dy="-9">(CPM+1)</tspan></text>
<rect x="1512.3" y="115.4" width="235.45" height="30.2" fill="#ff00ff"/>
<rect x="1747.75" y="115.4" width="235.45" height="30.2" fill="#00ad00"/>
<text x="1566.8" y="103.8" font-size="34.8" fill="#ff00ff" text-anchor="start" font-style="normal" font-weight="normal">Medulla</text>
<text x="1789.5" y="103.8" font-size="34.8" fill="#00ad00" text-anchor="start" font-style="normal" font-weight="normal">Thalamus</text>
<g shape-rendering="crispEdges">
<rect x="1512.30" y="154.80" width="39.64" height="28.40" fill="#babaff"/>
<rect x="1551.54" y="154.80" width="39.64" height="28.40" fill="#9e9eff"/>
<rect x="1590.78" y="154.80" width="39.64" height="28.40" fill="#d9d9ff"/>
<rect x="1630.02" y="154.80" width="39.64" height="28.40" fill="#5454ff"/>
<rect x="1669.27" y="154.80" width="39.64" height="28.40" fill="#5454ff"/>
<rect x="1708.51" y="154.80" width="39.64" height="28.40" fill="#6969ff"/>
<rect x="1747.75" y="154.80" width="39.64" height="28.40" fill="#ff8585"/>
<rect x="1786.99" y="154.80" width="39.64" height="28.40" fill="#ff8787"/>
<rect x="1826.23" y="154.80" width="39.64" height="28.40" fill="#ff8080"/>
<rect x="1865.47" y="154.80" width="39.64" height="28.40" fill="#ffa1a1"/>
<rect x="1904.72" y="154.80" width="39.64" height="28.40" fill="#ff9494"/>
<rect x="1943.96" y="154.80" width="39.64" height="28.40" fill="#ff8585"/>
<rect x="1512.30" y="182.80" width="39.64" height="28.40" fill="#a8a8ff"/>
<rect x="1551.54" y="182.80" width="39.64" height="28.40" fill="#a6a6ff"/>
<rect x="1590.78" y="182.80" width="39.64" height="28.40" fill="#d9d9ff"/>
<rect x="1630.02" y="182.80" width="39.64" height="28.40" fill="#a8a8ff"/>
<rect x="1669.27" y="182.80" width="39.64" height="28.40" fill="#a8a8ff"/>
<rect x="1708.51" y="182.80" width="39.64" height="28.40" fill="#a6a6ff"/>
<rect x="1747.75" y="182.80" width="39.64" height="28.40" fill="#ff0000"/>
<rect x="1786.99" y="182.80" width="39.64" height="28.40" fill="#ccccff"/>
<rect x="1826.23" y="182.80" width="39.64" height="28.40" fill="#ff4545"/>
<rect x="1865.47" y="182.80" width="39.64" height="28.40" fill="#a1a1ff"/>
<rect x="1904.72" y="182.80" width="39.64" height="28.40" fill="#ffc4c4"/>
<rect x="1943.96" y="182.80" width="39.64" height="28.40" fill="#ffbfbf"/>
<rect x="1512.30" y="210.80" width="39.64" height="28.40" fill="#8a8aff"/>
<rect x="1551.54" y="210.80" width="39.64" height="28.40" fill="#8585ff"/>
<rect x="1590.78" y="210.80" width="39.64" height="28.40" fill="#9c9cff"/>
<rect x="1630.02" y="210.80" width="39.64" height="28.40" fill="#8080ff"/>
<rect x="1669.27" y="210.80" width="39.64" height="28.40" fill="#8080ff"/>
<rect x="1708.51" y="210.80" width="39.64" height="28.40" fill="#8080ff"/>
<rect x="1747.75" y="210.80" width="39.64" height="28.40" fill="#ff8080"/>
<rect x="1786.99" y="210.80" width="39.64" height="28.40" fill="#ff9999"/>
<rect x="1826.23" y="210.80" width="39.64" height="28.40" fill="#ff5c5c"/>
<rect x="1865.47" y="210.80" width="39.64" height="28.40" fill="#ff8080"/>
<rect x="1904.72" y="210.80" width="39.64" height="28.40" fill="#ff6969"/>
<rect x="1943.96" y="210.80" width="39.64" height="28.40" fill="#ffc7c7"/>
<rect x="1512.30" y="238.80" width="39.64" height="28.40" fill="#8080ff"/>
<rect x="1551.54" y="238.80" width="39.64" height="28.40" fill="#8080ff"/>
<rect x="1590.78" y="238.80" width="39.64" height="28.40" fill="#8a8aff"/>
<rect x="1630.02" y="238.80" width="39.64" height="28.40" fill="#8585ff"/>
<rect x="1669.27" y="238.80" width="39.64" height="28.40" fill="#8a8aff"/>
<rect x="1708.51" y="238.80" width="39.64" height="28.40" fill="#8080ff"/>
<rect x="1747.75" y="238.80" width="39.64" height="28.40" fill="#ff8a8a"/>
<rect x="1786.99" y="238.80" width="39.64" height="28.40" fill="#ff8c8c"/>
<rect x="1826.23" y="238.80" width="39.64" height="28.40" fill="#ff8585"/>
<rect x="1865.47" y="238.80" width="39.64" height="28.40" fill="#ff8787"/>
<rect x="1904.72" y="238.80" width="39.64" height="28.40" fill="#ff8585"/>
<rect x="1943.96" y="238.80" width="39.64" height="28.40" fill="#ff6e6e"/>
<rect x="1512.30" y="266.80" width="39.64" height="28.40" fill="#dbdbff"/>
<rect x="1551.54" y="266.80" width="39.64" height="28.40" fill="#dbdbff"/>
<rect x="1590.78" y="266.80" width="39.64" height="28.40" fill="#dbdbff"/>
<rect x="1630.02" y="266.80" width="39.64" height="28.40" fill="#dbdbff"/>
<rect x="1669.27" y="266.80" width="39.64" height="28.40" fill="#dbdbff"/>
<rect x="1708.51" y="266.80" width="39.64" height="28.40" fill="#dbdbff"/>
<rect x="1747.75" y="266.80" width="39.64" height="28.40" fill="#dbdbff"/>
<rect x="1786.99" y="266.80" width="39.64" height="28.40" fill="#dbdbff"/>
<rect x="1826.23" y="266.80" width="39.64" height="28.40" fill="#ff0000"/>
<rect x="1865.47" y="266.80" width="39.64" height="28.40" fill="#dbdbff"/>
<rect x="1904.72" y="266.80" width="39.64" height="28.40" fill="#dbdbff"/>
<rect x="1943.96" y="266.80" width="39.64" height="28.40" fill="#dbdbff"/>
<rect x="1512.30" y="294.80" width="39.64" height="28.40" fill="#8a8aff"/>
<rect x="1551.54" y="294.80" width="39.64" height="28.40" fill="#8080ff"/>
<rect x="1590.78" y="294.80" width="39.64" height="28.40" fill="#8282ff"/>
<rect x="1630.02" y="294.80" width="39.64" height="28.40" fill="#8585ff"/>
<rect x="1669.27" y="294.80" width="39.64" height="28.40" fill="#8585ff"/>
<rect x="1708.51" y="294.80" width="39.64" height="28.40" fill="#8585ff"/>
<rect x="1747.75" y="294.80" width="39.64" height="28.40" fill="#ff8585"/>
<rect x="1786.99" y="294.80" width="39.64" height="28.40" fill="#ff8c8c"/>
<rect x="1826.23" y="294.80" width="39.64" height="28.40" fill="#ff6e6e"/>
<rect x="1865.47" y="294.80" width="39.64" height="28.40" fill="#ff8f8f"/>
<rect x="1904.72" y="294.80" width="39.64" height="28.40" fill="#ff8080"/>
<rect x="1943.96" y="294.80" width="39.64" height="28.40" fill="#ff9c9c"/>
<rect x="1512.30" y="322.80" width="39.64" height="28.40" fill="#8585ff"/>
<rect x="1551.54" y="322.80" width="39.64" height="28.40" fill="#8f8fff"/>
<rect x="1590.78" y="322.80" width="39.64" height="28.40" fill="#e0e0ff"/>
<rect x="1630.02" y="322.80" width="39.64" height="28.40" fill="#8a8aff"/>
<rect x="1669.27" y="322.80" width="39.64" height="28.40" fill="#8c8cff"/>
<rect x="1708.51" y="322.80" width="39.64" height="28.40" fill="#8c8cff"/>
<rect x="1747.75" y="322.80" width="39.64" height="28.40" fill="#ffb0b0"/>
<rect x="1786.99" y="322.80" width="39.64" height="28.40" fill="#ff8787"/>
<rect x="1826.23" y="322.80" width="39.64" height="28.40" fill="#fffcfc"/>
<rect x="1865.47" y="322.80" width="39.64" height="28.40" fill="#ff3636"/>
<rect x="1904.72" y="322.80" width="39.64" height="28.40" fill="#f0f0ff"/>
<rect x="1943.96" y="322.80" width="39.64" height="28.40" fill="#ff1c1c"/>
<rect x="1512.30" y="350.80" width="39.64" height="28.40" fill="#ffd9d9"/>
<rect x="1551.54" y="350.80" width="39.64" height="28.40" fill="#7d7dff"/>
<rect x="1590.78" y="350.80" width="39.64" height="28.40" fill="#e0e0ff"/>
<rect x="1630.02" y="350.80" width="39.64" height="28.40" fill="#5454ff"/>
<rect x="1669.27" y="350.80" width="39.64" height="28.40" fill="#5c5cff"/>
<rect x="1708.51" y="350.80" width="39.64" height="28.40" fill="#5454ff"/>
<rect x="1747.75" y="350.80" width="39.64" height="28.40" fill="#ff7070"/>
<rect x="1786.99" y="350.80" width="39.64" height="28.40" fill="#ff7a7a"/>
<rect x="1826.23" y="350.80" width="39.64" height="28.40" fill="#ff6969"/>
<rect x="1865.47" y="350.80" width="39.64" height="28.40" fill="#ffffff"/>
<rect x="1904.72" y="350.80" width="39.64" height="28.40" fill="#ff6969"/>
<rect x="1943.96" y="350.80" width="39.64" height="28.40" fill="#ffd6d6"/>
<rect x="1512.30" y="378.80" width="39.64" height="28.40" fill="#9c9cff"/>
<rect x="1551.54" y="378.80" width="39.64" height="28.40" fill="#8f8fff"/>
<rect x="1590.78" y="378.80" width="39.64" height="28.40" fill="#8f8fff"/>
<rect x="1630.02" y="378.80" width="39.64" height="28.40" fill="#7878ff"/>
<rect x="1669.27" y="378.80" width="39.64" height="28.40" fill="#8585ff"/>
<rect x="1708.51" y="378.80" width="39.64" height="28.40" fill="#7878ff"/>
<rect x="1747.75" y="378.80" width="39.64" height="28.40" fill="#ff9c9c"/>
<rect x="1786.99" y="378.80" width="39.64" height="28.40" fill="#ff8585"/>
<rect x="1826.23" y="378.80" width="39.64" height="28.40" fill="#ff6e6e"/>
<rect x="1865.47" y="378.80" width="39.64" height="28.40" fill="#fff5f5"/>
<rect x="1904.72" y="378.80" width="39.64" height="28.40" fill="#ff6e6e"/>
<rect x="1943.96" y="378.80" width="39.64" height="28.40" fill="#ff4040"/>
<rect x="1512.30" y="406.80" width="39.64" height="28.40" fill="#ff5454"/>
<rect x="1551.54" y="406.80" width="39.64" height="28.40" fill="#ff7070"/>
<rect x="1590.78" y="406.80" width="39.64" height="28.40" fill="#ff7070"/>
<rect x="1630.02" y="406.80" width="39.64" height="28.40" fill="#ffb0b0"/>
<rect x="1669.27" y="406.80" width="39.64" height="28.40" fill="#ffcfcf"/>
<rect x="1708.51" y="406.80" width="39.64" height="28.40" fill="#ff9c9c"/>
<rect x="1747.75" y="406.80" width="39.64" height="28.40" fill="#ffffff"/>
<rect x="1786.99" y="406.80" width="39.64" height="28.40" fill="#7878ff"/>
<rect x="1826.23" y="406.80" width="39.64" height="28.40" fill="#7878ff"/>
<rect x="1865.47" y="406.80" width="39.64" height="28.40" fill="#7575ff"/>
<rect x="1904.72" y="406.80" width="39.64" height="28.40" fill="#7878ff"/>
<rect x="1943.96" y="406.80" width="39.64" height="28.40" fill="#7575ff"/>
<rect x="1512.30" y="434.80" width="39.64" height="28.40" fill="#ff6161"/>
<rect x="1551.54" y="434.80" width="39.64" height="28.40" fill="#ff7070"/>
<rect x="1590.78" y="434.80" width="39.64" height="28.40" fill="#ff7a7a"/>
<rect x="1630.02" y="434.80" width="39.64" height="28.40" fill="#ff6969"/>
<rect x="1669.27" y="434.80" width="39.64" height="28.40" fill="#ffa6a6"/>
<rect x="1708.51" y="434.80" width="39.64" height="28.40" fill="#ffe0e0"/>
<rect x="1747.75" y="434.80" width="39.64" height="28.40" fill="#d1d1ff"/>
<rect x="1786.99" y="434.80" width="39.64" height="28.40" fill="#ababff"/>
<rect x="1826.23" y="434.80" width="39.64" height="28.40" fill="#7070ff"/>
<rect x="1865.47" y="434.80" width="39.64" height="28.40" fill="#7070ff"/>
<rect x="1904.72" y="434.80" width="39.64" height="28.40" fill="#6e6eff"/>
<rect x="1943.96" y="434.80" width="39.64" height="28.40" fill="#6e6eff"/>
<rect x="1512.30" y="462.80" width="39.64" height="28.40" fill="#ffc7c7"/>
<rect x="1551.54" y="462.80" width="39.64" height="28.40" fill="#ffebeb"/>
<rect x="1590.78" y="462.80" width="39.64" height="28.40" fill="#ff1c1c"/>
<rect x="1630.02" y="462.80" width="39.64" height="28.40" fill="#a8a8ff"/>
<rect x="1669.27" y="462.80" width="39.64" height="28.40" fill="#ff0000"/>
<rect x="1708.51" y="462.80" width="39.64" height="28.40" fill="#a8a8ff"/>
<rect x="1747.75" y="462.80" width="39.64" height="28.40" fill="#a8a8ff"/>
<rect x="1786.99" y="462.80" width="39.64" height="28.40" fill="#ababff"/>
<rect x="1826.23" y="462.80" width="39.64" height="28.40" fill="#fff0f0"/>
<rect x="1865.47" y="462.80" width="39.64" height="28.40" fill="#b0b0ff"/>
<rect x="1904.72" y="462.80" width="39.64" height="28.40" fill="#b0b0ff"/>
<rect x="1943.96" y="462.80" width="39.64" height="28.40" fill="#a6a6ff"/>
<rect x="1512.30" y="490.80" width="39.64" height="28.40" fill="#ff6363"/>
<rect x="1551.54" y="490.80" width="39.64" height="28.40" fill="#ff6161"/>
<rect x="1590.78" y="490.80" width="39.64" height="28.40" fill="#ff7070"/>
<rect x="1630.02" y="490.80" width="39.64" height="28.40" fill="#ffffff"/>
<rect x="1669.27" y="490.80" width="39.64" height="28.40" fill="#e0e0ff"/>
<rect x="1708.51" y="490.80" width="39.64" height="28.40" fill="#ff2929"/>
<rect x="1747.75" y="490.80" width="39.64" height="28.40" fill="#9c9cff"/>
<rect x="1786.99" y="490.80" width="39.64" height="28.40" fill="#8787ff"/>
<rect x="1826.23" y="490.80" width="39.64" height="28.40" fill="#8f8fff"/>
<rect x="1865.47" y="490.80" width="39.64" height="28.40" fill="#8c8cff"/>
<rect x="1904.72" y="490.80" width="39.64" height="28.40" fill="#8787ff"/>
<rect x="1943.96" y="490.80" width="39.64" height="28.40" fill="#b8b8ff"/>
<rect x="1512.30" y="518.80" width="39.64" height="28.40" fill="#ff7a7a"/>
<rect x="1551.54" y="518.80" width="39.64" height="28.40" fill="#ff8c8c"/>
<rect x="1590.78" y="518.80" width="39.64" height="28.40" fill="#ff5959"/>
<rect x="1630.02" y="518.80" width="39.64" height="28.40" fill="#ff7575"/>
<rect x="1669.27" y="518.80" width="39.64" height="28.40" fill="#ffa1a1"/>
<rect x="1708.51" y="518.80" width="39.64" height="28.40" fill="#ffbfbf"/>
<rect x="1747.75" y="518.80" width="39.64" height="28.40" fill="#8080ff"/>
<rect x="1786.99" y="518.80" width="39.64" height="28.40" fill="#8080ff"/>
<rect x="1826.23" y="518.80" width="39.64" height="28.40" fill="#a6a6ff"/>
<rect x="1865.47" y="518.80" width="39.64" height="28.40" fill="#8282ff"/>
<rect x="1904.72" y="518.80" width="39.64" height="28.40" fill="#8080ff"/>
<rect x="1943.96" y="518.80" width="39.64" height="28.40" fill="#8080ff"/>
<rect x="1512.30" y="546.80" width="39.64" height="28.40" fill="#ffc7c7"/>
<rect x="1551.54" y="546.80" width="39.64" height="28.40" fill="#ffe8e8"/>
<rect x="1590.78" y="546.80" width="39.64" height="28.40" fill="#ff6161"/>
<rect x="1630.02" y="546.80" width="39.64" height="28.40" fill="#ff6969"/>
<rect x="1669.27" y="546.80" width="39.64" height="28.40" fill="#ff0000"/>
<rect x="1708.51" y="546.80" width="39.64" height="28.40" fill="#a1a1ff"/>
<rect x="1747.75" y="546.80" width="39.64" height="28.40" fill="#a1a1ff"/>
<rect x="1786.99" y="546.80" width="39.64" height="28.40" fill="#a3a3ff"/>
<rect x="1826.23" y="546.80" width="39.64" height="28.40" fill="#ababff"/>
<rect x="1865.47" y="546.80" width="39.64" height="28.40" fill="#a1a1ff"/>
<rect x="1904.72" y="546.80" width="39.64" height="28.40" fill="#a3a3ff"/>
<rect x="1943.96" y="546.80" width="39.64" height="28.40" fill="#a1a1ff"/>
<rect x="1512.30" y="574.80" width="39.64" height="28.40" fill="#ffffff"/>
<rect x="1551.54" y="574.80" width="39.64" height="28.40" fill="#ff6161"/>
<rect x="1590.78" y="574.80" width="39.64" height="28.40" fill="#ff3b3b"/>
<rect x="1630.02" y="574.80" width="39.64" height="28.40" fill="#fff0f0"/>
<rect x="1669.27" y="574.80" width="39.64" height="28.40" fill="#ffd9d9"/>
<rect x="1708.51" y="574.80" width="39.64" height="28.40" fill="#ff2626"/>
<rect x="1747.75" y="574.80" width="39.64" height="28.40" fill="#9494ff"/>
<rect x="1786.99" y="574.80" width="39.64" height="28.40" fill="#9494ff"/>
<rect x="1826.23" y="574.80" width="39.64" height="28.40" fill="#9c9cff"/>
<rect x="1865.47" y="574.80" width="39.64" height="28.40" fill="#9494ff"/>
<rect x="1904.72" y="574.80" width="39.64" height="28.40" fill="#9494ff"/>
<rect x="1943.96" y="574.80" width="39.64" height="28.40" fill="#9494ff"/>
<rect x="1512.30" y="602.80" width="39.64" height="28.40" fill="#ff0f0f"/>
<rect x="1551.54" y="602.80" width="39.64" height="28.40" fill="#ffa1a1"/>
<rect x="1590.78" y="602.80" width="39.64" height="28.40" fill="#f5f5ff"/>
<rect x="1630.02" y="602.80" width="39.64" height="28.40" fill="#a1a1ff"/>
<rect x="1669.27" y="602.80" width="39.64" height="28.40" fill="#ff1414"/>
<rect x="1708.51" y="602.80" width="39.64" height="28.40" fill="#a1a1ff"/>
<rect x="1747.75" y="602.80" width="39.64" height="28.40" fill="#a1a1ff"/>
<rect x="1786.99" y="602.80" width="39.64" height="28.40" fill="#ffdbdb"/>
<rect x="1826.23" y="602.80" width="39.64" height="28.40" fill="#c7c7ff"/>
<rect x="1865.47" y="602.80" width="39.64" height="28.40" fill="#a1a1ff"/>
<rect x="1904.72" y="602.80" width="39.64" height="28.40" fill="#a3a3ff"/>
<rect x="1943.96" y="602.80" width="39.64" height="28.40" fill="#a1a1ff"/>
</g>
<text x="1491.5" y="175.6" font-size="25.8" fill="#000" text-anchor="end" font-style="italic" font-weight="normal">Npnt</text>
<text x="1494.5" y="203.6" font-size="25.8" fill="#000" text-anchor="end" font-style="italic" font-weight="normal">Dppa1</text>
<text x="1492.5" y="231.6" font-size="25.8" fill="#000" text-anchor="end" font-style="italic" font-weight="normal">Stk17b</text>
<text x="1494.5" y="259.6" font-size="25.8" fill="#000" text-anchor="end" font-style="italic" font-weight="normal">Col8a1</text>
<text x="1493.5" y="287.6" font-size="25.8" fill="#000" text-anchor="end" font-style="italic" font-weight="normal">Dmkn</text>
<text x="1492.5" y="315.6" font-size="25.8" fill="#000" text-anchor="end" font-style="italic" font-weight="normal">Sorcs3</text>
<text x="1492.5" y="343.6" font-size="25.8" fill="#000" text-anchor="end" font-style="italic" font-weight="normal">Tgm3</text>
<text x="1492.5" y="371.6" font-size="25.8" fill="#000" text-anchor="end" font-style="italic" font-weight="normal">Cbln2</text>
<text x="1492.5" y="399.6" font-size="25.8" fill="#000" text-anchor="end" font-style="italic" font-weight="normal">Cxcl12</text>
<text x="1494.5" y="427.6" font-size="25.8" fill="#000" text-anchor="end" font-style="italic" font-weight="normal">Slco2a1</text>
<text x="1492.5" y="455.6" font-size="25.8" fill="#000" text-anchor="end" font-style="italic" font-weight="normal">Wipf3</text>
<text x="1492.5" y="483.6" font-size="25.8" fill="#000" text-anchor="end" font-style="italic" font-weight="normal">Ovol2</text>
<text x="1492.5" y="511.6" font-size="25.8" fill="#000" text-anchor="end" font-style="italic" font-weight="normal">Clmp</text>
<text x="1492.5" y="539.6" font-size="25.8" fill="#000" text-anchor="end" font-style="italic" font-weight="normal">Syt6</text>
<text x="1490.5" y="567.6" font-size="25.8" fill="#000" text-anchor="end" font-style="italic" font-weight="normal">Ctgf</text>
<text x="1492.5" y="595.6" font-size="25.8" fill="#000" text-anchor="end" font-style="italic" font-weight="normal">Ctsc</text>
<text x="1492.5" y="623.6" font-size="25.8" fill="#000" text-anchor="end" font-style="italic" font-weight="normal">Dhrs3</text>
<rect x="2048" y="155" width="30.6" height="245.9" fill="url(#gbwr)"/>
<text x="2119" y="155" font-size="41" fill="#000" text-anchor="end" font-style="normal" font-weight="normal">2</text>
<text x="2119" y="432.3" font-size="41" fill="#000" text-anchor="end" font-style="normal" font-weight="normal">-2</text>
<text transform="translate(2032.5,276.5) rotate(-90)" font-size="42" fill="#000" text-anchor="middle" font-style="italic">z-score</text>
<rect x="1512.3" y="939.2" width="235.45" height="30.9" fill="#ff00ff"/>
<rect x="1747.75" y="939.2" width="235.45" height="30.9" fill="#00ad00"/>
<text x="1566.8" y="928.3" font-size="34.8" fill="#ff00ff" text-anchor="start" font-style="normal" font-weight="normal">Medulla</text>
<text x="1789.5" y="928.3" font-size="34.8" fill="#00ad00" text-anchor="start" font-style="normal" font-weight="normal">Thalamus</text>
<g shape-rendering="crispEdges">
<rect x="1512.30" y="979.00" width="39.64" height="28.40" fill="#8f8fff"/>
<rect x="1551.54" y="979.00" width="39.64" height="28.40" fill="#8f8fff"/>
<rect x="1590.78" y="979.00" width="39.64" height="28.40" fill="#a1a1ff"/>
<rect x="1630.02" y="979.00" width="39.64" height="28.40" fill="#8f8fff"/>
<rect x="1669.27" y="979.00" width="39.64" height="28.40" fill="#8f8fff"/>
<rect x="1708.51" y="979.00" width="39.64" height="28.40" fill="#8f8fff"/>
<rect x="1747.75" y="979.00" width="39.64" height="28.40" fill="#ff5959"/>
<rect x="1786.99" y="979.00" width="39.64" height="28.40" fill="#ff8a8a"/>
<rect x="1826.23" y="979.00" width="39.64" height="28.40" fill="#ff3d3d"/>
<rect x="1865.47" y="979.00" width="39.64" height="28.40" fill="#ff8080"/>
<rect x="1904.72" y="979.00" width="39.64" height="28.40" fill="#ff9999"/>
<rect x="1943.96" y="979.00" width="39.64" height="28.40" fill="#bfbfff"/>
<rect x="1512.30" y="1007.00" width="39.64" height="28.40" fill="#8585ff"/>
<rect x="1551.54" y="1007.00" width="39.64" height="28.40" fill="#9494ff"/>
<rect x="1590.78" y="1007.00" width="39.64" height="28.40" fill="#8585ff"/>
<rect x="1630.02" y="1007.00" width="39.64" height="28.40" fill="#8585ff"/>
<rect x="1669.27" y="1007.00" width="39.64" height="28.40" fill="#8585ff"/>
<rect x="1708.51" y="1007.00" width="39.64" height="28.40" fill="#8585ff"/>
<rect x="1747.75" y="1007.00" width="39.64" height="28.40" fill="#ffa1a1"/>
<rect x="1786.99" y="1007.00" width="39.64" height="28.40" fill="#ff8f8f"/>
<rect x="1826.23" y="1007.00" width="39.64" height="28.40" fill="#ff5454"/>
<rect x="1865.47" y="1007.00" width="39.64" height="28.40" fill="#ffb2b2"/>
<rect x="1904.72" y="1007.00" width="39.64" height="28.40" fill="#ff7070"/>
<rect x="1943.96" y="1007.00" width="39.64" height="28.40" fill="#ff8080"/>
<rect x="1512.30" y="1035.00" width="39.64" height="28.40" fill="#8a8aff"/>
<rect x="1551.54" y="1035.00" width="39.64" height="28.40" fill="#a3a3ff"/>
<rect x="1590.78" y="1035.00" width="39.64" height="28.40" fill="#9999ff"/>
<rect x="1630.02" y="1035.00" width="39.64" height="28.40" fill="#7878ff"/>
<rect x="1669.27" y="1035.00" width="39.64" height="28.40" fill="#7878ff"/>
<rect x="1708.51" y="1035.00" width="39.64" height="28.40" fill="#7878ff"/>
<rect x="1747.75" y="1035.00" width="39.64" height="28.40" fill="#ff6b6b"/>
<rect x="1786.99" y="1035.00" width="39.64" height="28.40" fill="#ff8a8a"/>
<rect x="1826.23" y="1035.00" width="39.64" height="28.40" fill="#ff8080"/>
<rect x="1865.47" y="1035.00" width="39.64" height="28.40" fill="#ff5e5e"/>
<rect x="1904.72" y="1035.00" width="39.64" height="28.40" fill="#ff9494"/>
<rect x="1943.96" y="1035.00" width="39.64" height="28.40" fill="#ffc7c7"/>
<rect x="1512.30" y="1063.00" width="39.64" height="28.40" fill="#8a8aff"/>
<rect x="1551.54" y="1063.00" width="39.64" height="28.40" fill="#d4d4ff"/>
<rect x="1590.78" y="1063.00" width="39.64" height="28.40" fill="#7d7dff"/>
<rect x="1630.02" y="1063.00" width="39.64" height="28.40" fill="#7d7dff"/>
<rect x="1669.27" y="1063.00" width="39.64" height="28.40" fill="#7d7dff"/>
<rect x="1708.51" y="1063.00" width="39.64" height="28.40" fill="#7878ff"/>
<rect x="1747.75" y="1063.00" width="39.64" height="28.40" fill="#ff8a8a"/>
<rect x="1786.99" y="1063.00" width="39.64" height="28.40" fill="#ff7070"/>
<rect x="1826.23" y="1063.00" width="39.64" height="28.40" fill="#ff9999"/>
<rect x="1865.47" y="1063.00" width="39.64" height="28.40" fill="#ff3333"/>
<rect x="1904.72" y="1063.00" width="39.64" height="28.40" fill="#ffbaba"/>
<rect x="1943.96" y="1063.00" width="39.64" height="28.40" fill="#ffc7c7"/>
<rect x="1512.30" y="1091.00" width="39.64" height="28.40" fill="#7878ff"/>
<rect x="1551.54" y="1091.00" width="39.64" height="28.40" fill="#cfcfff"/>
<rect x="1590.78" y="1091.00" width="39.64" height="28.40" fill="#a6a6ff"/>
<rect x="1630.02" y="1091.00" width="39.64" height="28.40" fill="#6969ff"/>
<rect x="1669.27" y="1091.00" width="39.64" height="28.40" fill="#6969ff"/>
<rect x="1708.51" y="1091.00" width="39.64" height="28.40" fill="#7878ff"/>
<rect x="1747.75" y="1091.00" width="39.64" height="28.40" fill="#ff7878"/>
<rect x="1786.99" y="1091.00" width="39.64" height="28.40" fill="#ff8080"/>
<rect x="1826.23" y="1091.00" width="39.64" height="28.40" fill="#ff7d7d"/>
<rect x="1865.47" y="1091.00" width="39.64" height="28.40" fill="#ffb2b2"/>
<rect x="1904.72" y="1091.00" width="39.64" height="28.40" fill="#ff9494"/>
<rect x="1943.96" y="1091.00" width="39.64" height="28.40" fill="#ff7878"/>
<rect x="1512.30" y="1119.00" width="39.64" height="28.40" fill="#fff7f7"/>
<rect x="1551.54" y="1119.00" width="39.64" height="28.40" fill="#7878ff"/>
<rect x="1590.78" y="1119.00" width="39.64" height="28.40" fill="#7878ff"/>
<rect x="1630.02" y="1119.00" width="39.64" height="28.40" fill="#7373ff"/>
<rect x="1669.27" y="1119.00" width="39.64" height="28.40" fill="#7878ff"/>
<rect x="1708.51" y="1119.00" width="39.64" height="28.40" fill="#7878ff"/>
<rect x="1747.75" y="1119.00" width="39.64" height="28.40" fill="#ff8787"/>
<rect x="1786.99" y="1119.00" width="39.64" height="28.40" fill="#ffa6a6"/>
<rect x="1826.23" y="1119.00" width="39.64" height="28.40" fill="#ffbdbd"/>
<rect x="1865.47" y="1119.00" width="39.64" height="28.40" fill="#ffa1a1"/>
<rect x="1904.72" y="1119.00" width="39.64" height="28.40" fill="#ff3333"/>
<rect x="1943.96" y="1119.00" width="39.64" height="28.40" fill="#ff9494"/>
<rect x="1512.30" y="1147.00" width="39.64" height="28.40" fill="#b2b2ff"/>
<rect x="1551.54" y="1147.00" width="39.64" height="28.40" fill="#7878ff"/>
<rect x="1590.78" y="1147.00" width="39.64" height="28.40" fill="#6e6eff"/>
<rect x="1630.02" y="1147.00" width="39.64" height="28.40" fill="#5454ff"/>
<rect x="1669.27" y="1147.00" width="39.64" height="28.40" fill="#8a8aff"/>
<rect x="1708.51" y="1147.00" width="39.64" height="28.40" fill="#b8b8ff"/>
<rect x="1747.75" y="1147.00" width="39.64" height="28.40" fill="#ffb2b2"/>
<rect x="1786.99" y="1147.00" width="39.64" height="28.40" fill="#ff8c8c"/>
<rect x="1826.23" y="1147.00" width="39.64" height="28.40" fill="#ff9c9c"/>
<rect x="1865.47" y="1147.00" width="39.64" height="28.40" fill="#ff7070"/>
<rect x="1904.72" y="1147.00" width="39.64" height="28.40" fill="#ffa3a3"/>
<rect x="1943.96" y="1147.00" width="39.64" height="28.40" fill="#ff4545"/>
<rect x="1512.30" y="1175.00" width="39.64" height="28.40" fill="#8f8fff"/>
<rect x="1551.54" y="1175.00" width="39.64" height="28.40" fill="#9999ff"/>
<rect x="1590.78" y="1175.00" width="39.64" height="28.40" fill="#a3a3ff"/>
<rect x="1630.02" y="1175.00" width="39.64" height="28.40" fill="#0000ff"/>
<rect x="1669.27" y="1175.00" width="39.64" height="28.40" fill="#adadff"/>
<rect x="1708.51" y="1175.00" width="39.64" height="28.40" fill="#f0f0ff"/>
<rect x="1747.75" y="1175.00" width="39.64" height="28.40" fill="#ff9494"/>
<rect x="1786.99" y="1175.00" width="39.64" height="28.40" fill="#ff8f8f"/>
<rect x="1826.23" y="1175.00" width="39.64" height="28.40" fill="#ff9696"/>
<rect x="1865.47" y="1175.00" width="39.64" height="28.40" fill="#ff8787"/>
<rect x="1904.72" y="1175.00" width="39.64" height="28.40" fill="#ff8c8c"/>
<rect x="1943.96" y="1175.00" width="39.64" height="28.40" fill="#ffa3a3"/>
<rect x="1512.30" y="1203.00" width="39.64" height="28.40" fill="#a1a1ff"/>
<rect x="1551.54" y="1203.00" width="39.64" height="28.40" fill="#8a8aff"/>
<rect x="1590.78" y="1203.00" width="39.64" height="28.40" fill="#ffebeb"/>
<rect x="1630.02" y="1203.00" width="39.64" height="28.40" fill="#9494ff"/>
<rect x="1669.27" y="1203.00" width="39.64" height="28.40" fill="#7878ff"/>
<rect x="1708.51" y="1203.00" width="39.64" height="28.40" fill="#2626ff"/>
<rect x="1747.75" y="1203.00" width="39.64" height="28.40" fill="#ff8f8f"/>
<rect x="1786.99" y="1203.00" width="39.64" height="28.40" fill="#ff9191"/>
<rect x="1826.23" y="1203.00" width="39.64" height="28.40" fill="#ff7d7d"/>
<rect x="1865.47" y="1203.00" width="39.64" height="28.40" fill="#ffb5b5"/>
<rect x="1904.72" y="1203.00" width="39.64" height="28.40" fill="#ff7d7d"/>
<rect x="1943.96" y="1203.00" width="39.64" height="28.40" fill="#ff8a8a"/>
<rect x="1512.30" y="1231.00" width="39.64" height="28.40" fill="#ccccff"/>
<rect x="1551.54" y="1231.00" width="39.64" height="28.40" fill="#9999ff"/>
<rect x="1590.78" y="1231.00" width="39.64" height="28.40" fill="#bfbfff"/>
<rect x="1630.02" y="1231.00" width="39.64" height="28.40" fill="#3d3dff"/>
<rect x="1669.27" y="1231.00" width="39.64" height="28.40" fill="#d9d9ff"/>
<rect x="1708.51" y="1231.00" width="39.64" height="28.40" fill="#2626ff"/>
<rect x="1747.75" y="1231.00" width="39.64" height="28.40" fill="#ff9696"/>
<rect x="1786.99" y="1231.00" width="39.64" height="28.40" fill="#ff9e9e"/>
<rect x="1826.23" y="1231.00" width="39.64" height="28.40" fill="#ff8c8c"/>
<rect x="1865.47" y="1231.00" width="39.64" height="28.40" fill="#ff8f8f"/>
<rect x="1904.72" y="1231.00" width="39.64" height="28.40" fill="#ff7373"/>
<rect x="1943.96" y="1231.00" width="39.64" height="28.40" fill="#ff8585"/>
<rect x="1512.30" y="1259.00" width="39.64" height="28.40" fill="#8585ff"/>
<rect x="1551.54" y="1259.00" width="39.64" height="28.40" fill="#6969ff"/>
<rect x="1590.78" y="1259.00" width="39.64" height="28.40" fill="#7878ff"/>
<rect x="1630.02" y="1259.00" width="39.64" height="28.40" fill="#7878ff"/>
<rect x="1669.27" y="1259.00" width="39.64" height="28.40" fill="#adadff"/>
<rect x="1708.51" y="1259.00" width="39.64" height="28.40" fill="#a1a1ff"/>
<rect x="1747.75" y="1259.00" width="39.64" height="28.40" fill="#ffa8a8"/>
<rect x="1786.99" y="1259.00" width="39.64" height="28.40" fill="#ff8c8c"/>
<rect x="1826.23" y="1259.00" width="39.64" height="28.40" fill="#ff9494"/>
<rect x="1865.47" y="1259.00" width="39.64" height="28.40" fill="#ff7373"/>
<rect x="1904.72" y="1259.00" width="39.64" height="28.40" fill="#ff7d7d"/>
<rect x="1943.96" y="1259.00" width="39.64" height="28.40" fill="#ff6e6e"/>
<rect x="1512.30" y="1287.00" width="39.64" height="28.40" fill="#fafaff"/>
<rect x="1551.54" y="1287.00" width="39.64" height="28.40" fill="#adadff"/>
<rect x="1590.78" y="1287.00" width="39.64" height="28.40" fill="#e8e8ff"/>
<rect x="1630.02" y="1287.00" width="39.64" height="28.40" fill="#3d3dff"/>
<rect x="1669.27" y="1287.00" width="39.64" height="28.40" fill="#a8a8ff"/>
<rect x="1708.51" y="1287.00" width="39.64" height="28.40" fill="#0a0aff"/>
<rect x="1747.75" y="1287.00" width="39.64" height="28.40" fill="#ff8585"/>
<rect x="1786.99" y="1287.00" width="39.64" height="28.40" fill="#ff7373"/>
<rect x="1826.23" y="1287.00" width="39.64" height="28.40" fill="#ff8c8c"/>
<rect x="1865.47" y="1287.00" width="39.64" height="28.40" fill="#ff9494"/>
<rect x="1904.72" y="1287.00" width="39.64" height="28.40" fill="#ffd9d9"/>
<rect x="1943.96" y="1287.00" width="39.64" height="28.40" fill="#ffa1a1"/>
<rect x="1512.30" y="1315.00" width="39.64" height="28.40" fill="#5959ff"/>
<rect x="1551.54" y="1315.00" width="39.64" height="28.40" fill="#7373ff"/>
<rect x="1590.78" y="1315.00" width="39.64" height="28.40" fill="#a3a3ff"/>
<rect x="1630.02" y="1315.00" width="39.64" height="28.40" fill="#c2c2ff"/>
<rect x="1669.27" y="1315.00" width="39.64" height="28.40" fill="#b8b8ff"/>
<rect x="1708.51" y="1315.00" width="39.64" height="28.40" fill="#6e6eff"/>
<rect x="1747.75" y="1315.00" width="39.64" height="28.40" fill="#ffc2c2"/>
<rect x="1786.99" y="1315.00" width="39.64" height="28.40" fill="#ffd9d9"/>
<rect x="1826.23" y="1315.00" width="39.64" height="28.40" fill="#ffadad"/>
<rect x="1865.47" y="1315.00" width="39.64" height="28.40" fill="#ff5454"/>
<rect x="1904.72" y="1315.00" width="39.64" height="28.40" fill="#ff3333"/>
<rect x="1943.96" y="1315.00" width="39.64" height="28.40" fill="#ff8080"/>
<rect x="1512.30" y="1343.00" width="39.64" height="28.40" fill="#6e6eff"/>
<rect x="1551.54" y="1343.00" width="39.64" height="28.40" fill="#8a8aff"/>
<rect x="1590.78" y="1343.00" width="39.64" height="28.40" fill="#dedeff"/>
<rect x="1630.02" y="1343.00" width="39.64" height="28.40" fill="#6363ff"/>
<rect x="1669.27" y="1343.00" width="39.64" height="28.40" fill="#4d4dff"/>
<rect x="1708.51" y="1343.00" width="39.64" height="28.40" fill="#bfbfff"/>
<rect x="1747.75" y="1343.00" width="39.64" height="28.40" fill="#ff9999"/>
<rect x="1786.99" y="1343.00" width="39.64" height="28.40" fill="#ff9494"/>
<rect x="1826.23" y="1343.00" width="39.64" height="28.40" fill="#ffa3a3"/>
<rect x="1865.47" y="1343.00" width="39.64" height="28.40" fill="#ffa1a1"/>
<rect x="1904.72" y="1343.00" width="39.64" height="28.40" fill="#ff6363"/>
<rect x="1943.96" y="1343.00" width="39.64" height="28.40" fill="#ff5e5e"/>
<rect x="1512.30" y="1371.00" width="39.64" height="28.40" fill="#8f8fff"/>
<rect x="1551.54" y="1371.00" width="39.64" height="28.40" fill="#9999ff"/>
<rect x="1590.78" y="1371.00" width="39.64" height="28.40" fill="#bfbfff"/>
<rect x="1630.02" y="1371.00" width="39.64" height="28.40" fill="#ababff"/>
<rect x="1669.27" y="1371.00" width="39.64" height="28.40" fill="#0000ff"/>
<rect x="1708.51" y="1371.00" width="39.64" height="28.40" fill="#ccccff"/>
<rect x="1747.75" y="1371.00" width="39.64" height="28.40" fill="#ff9e9e"/>
<rect x="1786.99" y="1371.00" width="39.64" height="28.40" fill="#ff8a8a"/>
<rect x="1826.23" y="1371.00" width="39.64" height="28.40" fill="#ff6363"/>
<rect x="1865.47" y="1371.00" width="39.64" height="28.40" fill="#ffa1a1"/>
<rect x="1904.72" y="1371.00" width="39.64" height="28.40" fill="#ff8a8a"/>
<rect x="1943.96" y="1371.00" width="39.64" height="28.40" fill="#ffa8a8"/>
<rect x="1512.30" y="1399.00" width="39.64" height="28.40" fill="#3030ff"/>
<rect x="1551.54" y="1399.00" width="39.64" height="28.40" fill="#a1a1ff"/>
<rect x="1590.78" y="1399.00" width="39.64" height="28.40" fill="#ababff"/>
<rect x="1630.02" y="1399.00" width="39.64" height="28.40" fill="#4545ff"/>
<rect x="1669.27" y="1399.00" width="39.64" height="28.40" fill="#ccccff"/>
<rect x="1708.51" y="1399.00" width="39.64" height="28.40" fill="#c2c2ff"/>
<rect x="1747.75" y="1399.00" width="39.64" height="28.40" fill="#ff7878"/>
<rect x="1786.99" y="1399.00" width="39.64" height="28.40" fill="#ff8585"/>
<rect x="1826.23" y="1399.00" width="39.64" height="28.40" fill="#ff9c9c"/>
<rect x="1865.47" y="1399.00" width="39.64" height="28.40" fill="#ff9999"/>
<rect x="1904.72" y="1399.00" width="39.64" height="28.40" fill="#ff8f8f"/>
<rect x="1943.96" y="1399.00" width="39.64" height="28.40" fill="#ff8a8a"/>
<rect x="1512.30" y="1427.00" width="39.64" height="28.40" fill="#a1a1ff"/>
<rect x="1551.54" y="1427.00" width="39.64" height="28.40" fill="#7d7dff"/>
<rect x="1590.78" y="1427.00" width="39.64" height="28.40" fill="#a3a3ff"/>
<rect x="1630.02" y="1427.00" width="39.64" height="28.40" fill="#0f0fff"/>
<rect x="1669.27" y="1427.00" width="39.64" height="28.40" fill="#e6e6ff"/>
<rect x="1708.51" y="1427.00" width="39.64" height="28.40" fill="#a3a3ff"/>
<rect x="1747.75" y="1427.00" width="39.64" height="28.40" fill="#ff8f8f"/>
<rect x="1786.99" y="1427.00" width="39.64" height="28.40" fill="#ff9494"/>
<rect x="1826.23" y="1427.00" width="39.64" height="28.40" fill="#ffb5b5"/>
<rect x="1865.47" y="1427.00" width="39.64" height="28.40" fill="#ff7d7d"/>
<rect x="1904.72" y="1427.00" width="39.64" height="28.40" fill="#ff9999"/>
<rect x="1943.96" y="1427.00" width="39.64" height="28.40" fill="#ff6363"/>
<rect x="1512.30" y="1455.00" width="39.64" height="28.40" fill="#a1a1ff"/>
<rect x="1551.54" y="1455.00" width="39.64" height="28.40" fill="#4545ff"/>
<rect x="1590.78" y="1455.00" width="39.64" height="28.40" fill="#7878ff"/>
<rect x="1630.02" y="1455.00" width="39.64" height="28.40" fill="#5454ff"/>
<rect x="1669.27" y="1455.00" width="39.64" height="28.40" fill="#8a8aff"/>
<rect x="1708.51" y="1455.00" width="39.64" height="28.40" fill="#ffb0b0"/>
<rect x="1747.75" y="1455.00" width="39.64" height="28.40" fill="#ff9c9c"/>
<rect x="1786.99" y="1455.00" width="39.64" height="28.40" fill="#ff9999"/>
<rect x="1826.23" y="1455.00" width="39.64" height="28.40" fill="#ff8f8f"/>
<rect x="1865.47" y="1455.00" width="39.64" height="28.40" fill="#ff9c9c"/>
<rect x="1904.72" y="1455.00" width="39.64" height="28.40" fill="#ff7878"/>
<rect x="1943.96" y="1455.00" width="39.64" height="28.40" fill="#ffabab"/>
<rect x="1512.30" y="1483.00" width="39.64" height="28.40" fill="#6e6eff"/>
<rect x="1551.54" y="1483.00" width="39.64" height="28.40" fill="#b5b5ff"/>
<rect x="1590.78" y="1483.00" width="39.64" height="28.40" fill="#ccccff"/>
<rect x="1630.02" y="1483.00" width="39.64" height="28.40" fill="#5454ff"/>
<rect x="1669.27" y="1483.00" width="39.64" height="28.40" fill="#4747ff"/>
<rect x="1708.51" y="1483.00" width="39.64" height="28.40" fill="#c2c2ff"/>
<rect x="1747.75" y="1483.00" width="39.64" height="28.40" fill="#ff8585"/>
<rect x="1786.99" y="1483.00" width="39.64" height="28.40" fill="#ff6e6e"/>
<rect x="1826.23" y="1483.00" width="39.64" height="28.40" fill="#ff7070"/>
<rect x="1865.47" y="1483.00" width="39.64" height="28.40" fill="#ff6e6e"/>
<rect x="1904.72" y="1483.00" width="39.64" height="28.40" fill="#ff9e9e"/>
<rect x="1943.96" y="1483.00" width="39.64" height="28.40" fill="#ffd9d9"/>
<rect x="1512.30" y="1511.00" width="39.64" height="28.40" fill="#7878ff"/>
<rect x="1551.54" y="1511.00" width="39.64" height="28.40" fill="#c2c2ff"/>
<rect x="1590.78" y="1511.00" width="39.64" height="28.40" fill="#9191ff"/>
<rect x="1630.02" y="1511.00" width="39.64" height="28.40" fill="#7070ff"/>
<rect x="1669.27" y="1511.00" width="39.64" height="28.40" fill="#4d4dff"/>
<rect x="1708.51" y="1511.00" width="39.64" height="28.40" fill="#c9c9ff"/>
<rect x="1747.75" y="1511.00" width="39.64" height="28.40" fill="#ff5e5e"/>
<rect x="1786.99" y="1511.00" width="39.64" height="28.40" fill="#ff8080"/>
<rect x="1826.23" y="1511.00" width="39.64" height="28.40" fill="#ff8080"/>
<rect x="1865.47" y="1511.00" width="39.64" height="28.40" fill="#ff9494"/>
<rect x="1904.72" y="1511.00" width="39.64" height="28.40" fill="#ffffff"/>
<rect x="1943.96" y="1511.00" width="39.64" height="28.40" fill="#ff5959"/>
<rect x="1512.30" y="1539.00" width="39.64" height="28.40" fill="#8585ff"/>
<rect x="1551.54" y="1539.00" width="39.64" height="28.40" fill="#8a8aff"/>
<rect x="1590.78" y="1539.00" width="39.64" height="28.40" fill="#cfcfff"/>
<rect x="1630.02" y="1539.00" width="39.64" height="28.40" fill="#8080ff"/>
<rect x="1669.27" y="1539.00" width="39.64" height="28.40" fill="#2424ff"/>
<rect x="1708.51" y="1539.00" width="39.64" height="28.40" fill="#ffffff"/>
<rect x="1747.75" y="1539.00" width="39.64" height="28.40" fill="#ffbaba"/>
<rect x="1786.99" y="1539.00" width="39.64" height="28.40" fill="#ffa8a8"/>
<rect x="1826.23" y="1539.00" width="39.64" height="28.40" fill="#ff9c9c"/>
<rect x="1865.47" y="1539.00" width="39.64" height="28.40" fill="#ff6b6b"/>
<rect x="1904.72" y="1539.00" width="39.64" height="28.40" fill="#ff3333"/>
<rect x="1943.96" y="1539.00" width="39.64" height="28.40" fill="#ffc7c7"/>
<rect x="1512.30" y="1567.00" width="39.64" height="28.40" fill="#8080ff"/>
<rect x="1551.54" y="1567.00" width="39.64" height="28.40" fill="#7070ff"/>
<rect x="1590.78" y="1567.00" width="39.64" height="28.40" fill="#7070ff"/>
<rect x="1630.02" y="1567.00" width="39.64" height="28.40" fill="#4d4dff"/>
<rect x="1669.27" y="1567.00" width="39.64" height="28.40" fill="#b8b8ff"/>
<rect x="1708.51" y="1567.00" width="39.64" height="28.40" fill="#ffe8e8"/>
<rect x="1747.75" y="1567.00" width="39.64" height="28.40" fill="#ffa1a1"/>
<rect x="1786.99" y="1567.00" width="39.64" height="28.40" fill="#ffb0b0"/>
<rect x="1826.23" y="1567.00" width="39.64" height="28.40" fill="#ff9696"/>
<rect x="1865.47" y="1567.00" width="39.64" height="28.40" fill="#ffb2b2"/>
<rect x="1904.72" y="1567.00" width="39.64" height="28.40" fill="#ff2424"/>
<rect x="1943.96" y="1567.00" width="39.64" height="28.40" fill="#ff9c9c"/>
<rect x="1512.30" y="1595.00" width="39.64" height="28.40" fill="#ff7070"/>
<rect x="1551.54" y="1595.00" width="39.64" height="28.40" fill="#ff8a8a"/>
<rect x="1590.78" y="1595.00" width="39.64" height="28.40" fill="#ff7373"/>
<rect x="1630.02" y="1595.00" width="39.64" height="28.40" fill="#fff2f2"/>
<rect x="1669.27" y="1595.00" width="39.64" height="28.40" fill="#ff7070"/>
<rect x="1708.51" y="1595.00" width="39.64" height="28.40" fill="#ff9494"/>
<rect x="1747.75" y="1595.00" width="39.64" height="28.40" fill="#b8b8ff"/>
<rect x="1786.99" y="1595.00" width="39.64" height="28.40" fill="#9c9cff"/>
<rect x="1826.23" y="1595.00" width="39.64" height="28.40" fill="#b0b0ff"/>
<rect x="1865.47" y="1595.00" width="39.64" height="28.40" fill="#3333ff"/>
<rect x="1904.72" y="1595.00" width="39.64" height="28.40" fill="#3d3dff"/>
<rect x="1943.96" y="1595.00" width="39.64" height="28.40" fill="#fcfcff"/>
<rect x="1512.30" y="1623.00" width="39.64" height="28.40" fill="#ffa3a3"/>
<rect x="1551.54" y="1623.00" width="39.64" height="28.40" fill="#ff8f8f"/>
<rect x="1590.78" y="1623.00" width="39.64" height="28.40" fill="#ffa1a1"/>
<rect x="1630.02" y="1623.00" width="39.64" height="28.40" fill="#ffbdbd"/>
<rect x="1669.27" y="1623.00" width="39.64" height="28.40" fill="#ff8c8c"/>
<rect x="1708.51" y="1623.00" width="39.64" height="28.40" fill="#ff3d3d"/>
<rect x="1747.75" y="1623.00" width="39.64" height="28.40" fill="#bfbfff"/>
<rect x="1786.99" y="1623.00" width="39.64" height="28.40" fill="#d9d9ff"/>
<rect x="1826.23" y="1623.00" width="39.64" height="28.40" fill="#c2c2ff"/>
<rect x="1865.47" y="1623.00" width="39.64" height="28.40" fill="#7373ff"/>
<rect x="1904.72" y="1623.00" width="39.64" height="28.40" fill="#4242ff"/>
<rect x="1943.96" y="1623.00" width="39.64" height="28.40" fill="#5454ff"/>
<rect x="1512.30" y="1651.00" width="39.64" height="28.40" fill="#ffa6a6"/>
<rect x="1551.54" y="1651.00" width="39.64" height="28.40" fill="#ffa8a8"/>
<rect x="1590.78" y="1651.00" width="39.64" height="28.40" fill="#ff9494"/>
<rect x="1630.02" y="1651.00" width="39.64" height="28.40" fill="#ff5959"/>
<rect x="1669.27" y="1651.00" width="39.64" height="28.40" fill="#ffc7c7"/>
<rect x="1708.51" y="1651.00" width="39.64" height="28.40" fill="#ff5959"/>
<rect x="1747.75" y="1651.00" width="39.64" height="28.40" fill="#4d4dff"/>
<rect x="1786.99" y="1651.00" width="39.64" height="28.40" fill="#7878ff"/>
<rect x="1826.23" y="1651.00" width="39.64" height="28.40" fill="#a6a6ff"/>
<rect x="1865.47" y="1651.00" width="39.64" height="28.40" fill="#a1a1ff"/>
<rect x="1904.72" y="1651.00" width="39.64" height="28.40" fill="#fff7f7"/>
<rect x="1943.96" y="1651.00" width="39.64" height="28.40" fill="#5959ff"/>
<rect x="1512.30" y="1679.00" width="39.64" height="28.40" fill="#ff7878"/>
<rect x="1551.54" y="1679.00" width="39.64" height="28.40" fill="#ff7373"/>
<rect x="1590.78" y="1679.00" width="39.64" height="28.40" fill="#ff9696"/>
<rect x="1630.02" y="1679.00" width="39.64" height="28.40" fill="#ff6666"/>
<rect x="1669.27" y="1679.00" width="39.64" height="28.40" fill="#ffd1d1"/>
<rect x="1708.51" y="1679.00" width="39.64" height="28.40" fill="#ffb0b0"/>
<rect x="1747.75" y="1679.00" width="39.64" height="28.40" fill="#fff2f2"/>
<rect x="1786.99" y="1679.00" width="39.64" height="28.40" fill="#8787ff"/>
<rect x="1826.23" y="1679.00" width="39.64" height="28.40" fill="#d1d1ff"/>
<rect x="1865.47" y="1679.00" width="39.64" height="28.40" fill="#0000ff"/>
<rect x="1904.72" y="1679.00" width="39.64" height="28.40" fill="#b5b5ff"/>
<rect x="1943.96" y="1679.00" width="39.64" height="28.40" fill="#5e5eff"/>
<rect x="1512.30" y="1707.00" width="39.64" height="28.40" fill="#ff8585"/>
<rect x="1551.54" y="1707.00" width="39.64" height="28.40" fill="#ff8585"/>
<rect x="1590.78" y="1707.00" width="39.64" height="28.40" fill="#ff6b6b"/>
<rect x="1630.02" y="1707.00" width="39.64" height="28.40" fill="#ffa1a1"/>
<rect x="1669.27" y="1707.00" width="39.64" height="28.40" fill="#ff8080"/>
<rect x="1708.51" y="1707.00" width="39.64" height="28.40" fill="#ff9c9c"/>
<rect x="1747.75" y="1707.00" width="39.64" height="28.40" fill="#9494ff"/>
<rect x="1786.99" y="1707.00" width="39.64" height="28.40" fill="#bfbfff"/>
<rect x="1826.23" y="1707.00" width="39.64" height="28.40" fill="#5c5cff"/>
<rect x="1865.47" y="1707.00" width="39.64" height="28.40" fill="#2424ff"/>
<rect x="1904.72" y="1707.00" width="39.64" height="28.40" fill="#b5b5ff"/>
<rect x="1943.96" y="1707.00" width="39.64" height="28.40" fill="#b8b8ff"/>
<rect x="1512.30" y="1735.00" width="39.64" height="28.40" fill="#ff7070"/>
<rect x="1551.54" y="1735.00" width="39.64" height="28.40" fill="#ff7d7d"/>
<rect x="1590.78" y="1735.00" width="39.64" height="28.40" fill="#ff7070"/>
<rect x="1630.02" y="1735.00" width="39.64" height="28.40" fill="#ffb5b5"/>
<rect x="1669.27" y="1735.00" width="39.64" height="28.40" fill="#ffc7c7"/>
<rect x="1708.51" y="1735.00" width="39.64" height="28.40" fill="#ff9999"/>
<rect x="1747.75" y="1735.00" width="39.64" height="28.40" fill="#d1d1ff"/>
<rect x="1786.99" y="1735.00" width="39.64" height="28.40" fill="#dedeff"/>
<rect x="1826.23" y="1735.00" width="39.64" height="28.40" fill="#ccccff"/>
<rect x="1865.47" y="1735.00" width="39.64" height="28.40" fill="#ababff"/>
<rect x="1904.72" y="1735.00" width="39.64" height="28.40" fill="#6e6eff"/>
<rect x="1943.96" y="1735.00" width="39.64" height="28.40" fill="#0000ff"/>
<rect x="1512.30" y="1763.00" width="39.64" height="28.40" fill="#ff7d7d"/>
<rect x="1551.54" y="1763.00" width="39.64" height="28.40" fill="#ff9c9c"/>
<rect x="1590.78" y="1763.00" width="39.64" height="28.40" fill="#ff7878"/>
<rect x="1630.02" y="1763.00" width="39.64" height="28.40" fill="#ffa3a3"/>
<rect x="1669.27" y="1763.00" width="39.64" height="28.40" fill="#ff8787"/>
<rect x="1708.51" y="1763.00" width="39.64" height="28.40" fill="#ff7d7d"/>
<rect x="1747.75" y="1763.00" width="39.64" height="28.40" fill="#d1d1ff"/>
<rect x="1786.99" y="1763.00" width="39.64" height="28.40" fill="#c4c4ff"/>
<rect x="1826.23" y="1763.00" width="39.64" height="28.40" fill="#7373ff"/>
<rect x="1865.47" y="1763.00" width="39.64" height="28.40" fill="#7878ff"/>
<rect x="1904.72" y="1763.00" width="39.64" height="28.40" fill="#4545ff"/>
<rect x="1943.96" y="1763.00" width="39.64" height="28.40" fill="#8080ff"/>
<rect x="1512.30" y="1791.00" width="39.64" height="28.40" fill="#ff7070"/>
<rect x="1551.54" y="1791.00" width="39.64" height="28.40" fill="#ff9696"/>
<rect x="1590.78" y="1791.00" width="39.64" height="28.40" fill="#ff8787"/>
<rect x="1630.02" y="1791.00" width="39.64" height="28.40" fill="#ffbfbf"/>
<rect x="1669.27" y="1791.00" width="39.64" height="28.40" fill="#ff7d7d"/>
<rect x="1708.51" y="1791.00" width="39.64" height="28.40" fill="#ff7878"/>
<rect x="1747.75" y="1791.00" width="39.64" height="28.40" fill="#c2c2ff"/>
<rect x="1786.99" y="1791.00" width="39.64" height="28.40" fill="#8c8cff"/>
<rect x="1826.23" y="1791.00" width="39.64" height="28.40" fill="#9c9cff"/>
<rect x="1865.47" y="1791.00" width="39.64" height="28.40" fill="#2e2eff"/>
<rect x="1904.72" y="1791.00" width="39.64" height="28.40" fill="#c4c4ff"/>
<rect x="1943.96" y="1791.00" width="39.64" height="28.40" fill="#6e6eff"/>
<rect x="1512.30" y="1819.00" width="39.64" height="28.40" fill="#ff9c9c"/>
<rect x="1551.54" y="1819.00" width="39.64" height="28.40" fill="#ffb0b0"/>
<rect x="1590.78" y="1819.00" width="39.64" height="28.40" fill="#ffd1d1"/>
<rect x="1630.02" y="1819.00" width="39.64" height="28.40" fill="#ffcccc"/>
<rect x="1669.27" y="1819.00" width="39.64" height="28.40" fill="#ffb2b2"/>
<rect x="1708.51" y="1819.00" width="39.64" height="28.40" fill="#ff0000"/>
<rect x="1747.75" y="1819.00" width="39.64" height="28.40" fill="#8f8fff"/>
<rect x="1786.99" y="1819.00" width="39.64" height="28.40" fill="#4040ff"/>
<rect x="1826.23" y="1819.00" width="39.64" height="28.40" fill="#7878ff"/>
<rect x="1865.47" y="1819.00" width="39.64" height="28.40" fill="#8f8fff"/>
<rect x="1904.72" y="1819.00" width="39.64" height="28.40" fill="#c4c4ff"/>
<rect x="1943.96" y="1819.00" width="39.64" height="28.40" fill="#fcfcff"/>
<rect x="1512.30" y="1847.00" width="39.64" height="28.40" fill="#ff8787"/>
<rect x="1551.54" y="1847.00" width="39.64" height="28.40" fill="#ff9696"/>
<rect x="1590.78" y="1847.00" width="39.64" height="28.40" fill="#ff9494"/>
<rect x="1630.02" y="1847.00" width="39.64" height="28.40" fill="#ff9191"/>
<rect x="1669.27" y="1847.00" width="39.64" height="28.40" fill="#ffb5b5"/>
<rect x="1708.51" y="1847.00" width="39.64" height="28.40" fill="#ff5e5e"/>
<rect x="1747.75" y="1847.00" width="39.64" height="28.40" fill="#d9d9ff"/>
<rect x="1786.99" y="1847.00" width="39.64" height="28.40" fill="#8585ff"/>
<rect x="1826.23" y="1847.00" width="39.64" height="28.40" fill="#c7c7ff"/>
<rect x="1865.47" y="1847.00" width="39.64" height="28.40" fill="#2e2eff"/>
<rect x="1904.72" y="1847.00" width="39.64" height="28.40" fill="#3838ff"/>
<rect x="1943.96" y="1847.00" width="39.64" height="28.40" fill="#c2c2ff"/>
<rect x="1512.30" y="1875.00" width="39.64" height="28.40" fill="#ff9494"/>
<rect x="1551.54" y="1875.00" width="39.64" height="28.40" fill="#ffa8a8"/>
<rect x="1590.78" y="1875.00" width="39.64" height="28.40" fill="#ff8c8c"/>
<rect x="1630.02" y="1875.00" width="39.64" height="28.40" fill="#ff8a8a"/>
<rect x="1669.27" y="1875.00" width="39.64" height="28.40" fill="#ff7d7d"/>
<rect x="1708.51" y="1875.00" width="39.64" height="28.40" fill="#ff8c8c"/>
<rect x="1747.75" y="1875.00" width="39.64" height="28.40" fill="#9191ff"/>
<rect x="1786.99" y="1875.00" width="39.64" height="28.40" fill="#ebebff"/>
<rect x="1826.23" y="1875.00" width="39.64" height="28.40" fill="#5e5eff"/>
<rect x="1865.47" y="1875.00" width="39.64" height="28.40" fill="#4a4aff"/>
<rect x="1904.72" y="1875.00" width="39.64" height="28.40" fill="#4545ff"/>
<rect x="1943.96" y="1875.00" width="39.64" height="28.40" fill="#ccccff"/>
<rect x="1512.30" y="1903.00" width="39.64" height="28.40" fill="#ff8585"/>
<rect x="1551.54" y="1903.00" width="39.64" height="28.40" fill="#ff9494"/>
<rect x="1590.78" y="1903.00" width="39.64" height="28.40" fill="#ff8080"/>
<rect x="1630.02" y="1903.00" width="39.64" height="28.40" fill="#ff4a4a"/>
<rect x="1669.27" y="1903.00" width="39.64" height="28.40" fill="#ffcccc"/>
<rect x="1708.51" y="1903.00" width="39.64" height="28.40" fill="#ff9999"/>
<rect x="1747.75" y="1903.00" width="39.64" height="28.40" fill="#8a8aff"/>
<rect x="1786.99" y="1903.00" width="39.64" height="28.40" fill="#a1a1ff"/>
<rect x="1826.23" y="1903.00" width="39.64" height="28.40" fill="#bdbdff"/>
<rect x="1865.47" y="1903.00" width="39.64" height="28.40" fill="#8a8aff"/>
<rect x="1904.72" y="1903.00" width="39.64" height="28.40" fill="#8585ff"/>
<rect x="1943.96" y="1903.00" width="39.64" height="28.40" fill="#3838ff"/>
<rect x="1512.30" y="1931.00" width="39.64" height="28.40" fill="#ff5454"/>
<rect x="1551.54" y="1931.00" width="39.64" height="28.40" fill="#ff6363"/>
<rect x="1590.78" y="1931.00" width="39.64" height="28.40" fill="#ff6666"/>
<rect x="1630.02" y="1931.00" width="39.64" height="28.40" fill="#ff7878"/>
<rect x="1669.27" y="1931.00" width="39.64" height="28.40" fill="#ffa6a6"/>
<rect x="1708.51" y="1931.00" width="39.64" height="28.40" fill="#d6d6ff"/>
<rect x="1747.75" y="1931.00" width="39.64" height="28.40" fill="#8a8aff"/>
<rect x="1786.99" y="1931.00" width="39.64" height="28.40" fill="#8f8fff"/>
<rect x="1826.23" y="1931.00" width="39.64" height="28.40" fill="#cfcfff"/>
<rect x="1865.47" y="1931.00" width="39.64" height="28.40" fill="#8585ff"/>
<rect x="1904.72" y="1931.00" width="39.64" height="28.40" fill="#8585ff"/>
<rect x="1943.96" y="1931.00" width="39.64" height="28.40" fill="#8585ff"/>
<rect x="1512.30" y="1959.00" width="39.64" height="28.40" fill="#ff4d4d"/>
<rect x="1551.54" y="1959.00" width="39.64" height="28.40" fill="#ffeded"/>
<rect x="1590.78" y="1959.00" width="39.64" height="28.40" fill="#8f8fff"/>
<rect x="1630.02" y="1959.00" width="39.64" height="28.40" fill="#ff5454"/>
<rect x="1669.27" y="1959.00" width="39.64" height="28.40" fill="#ff1212"/>
<rect x="1708.51" y="1959.00" width="39.64" height="28.40" fill="#ffe0e0"/>
<rect x="1747.75" y="1959.00" width="39.64" height="28.40" fill="#fafaff"/>
<rect x="1786.99" y="1959.00" width="39.64" height="28.40" fill="#9999ff"/>
<rect x="1826.23" y="1959.00" width="39.64" height="28.40" fill="#9191ff"/>
<rect x="1865.47" y="1959.00" width="39.64" height="28.40" fill="#9999ff"/>
<rect x="1904.72" y="1959.00" width="39.64" height="28.40" fill="#9191ff"/>
<rect x="1943.96" y="1959.00" width="39.64" height="28.40" fill="#9696ff"/>
<rect x="1512.30" y="1987.00" width="39.64" height="28.40" fill="#fffcfc"/>
<rect x="1551.54" y="1987.00" width="39.64" height="28.40" fill="#ffffff"/>
<rect x="1590.78" y="1987.00" width="39.64" height="28.40" fill="#ffebeb"/>
<rect x="1630.02" y="1987.00" width="39.64" height="28.40" fill="#a8a8ff"/>
<rect x="1669.27" y="1987.00" width="39.64" height="28.40" fill="#ff0a0a"/>
<rect x="1708.51" y="1987.00" width="39.64" height="28.40" fill="#ff0000"/>
<rect x="1747.75" y="1987.00" width="39.64" height="28.40" fill="#a8a8ff"/>
<rect x="1786.99" y="1987.00" width="39.64" height="28.40" fill="#d1d1ff"/>
<rect x="1826.23" y="1987.00" width="39.64" height="28.40" fill="#ababff"/>
<rect x="1865.47" y="1987.00" width="39.64" height="28.40" fill="#ababff"/>
<rect x="1904.72" y="1987.00" width="39.64" height="28.40" fill="#a8a8ff"/>
<rect x="1943.96" y="1987.00" width="39.64" height="28.40" fill="#adadff"/>
</g>
<text x="1493.7" y="999.9" font-size="25.8" fill="#000" text-anchor="end" font-style="italic" font-weight="normal">Mdga1</text>
<text x="1491.7" y="1027.93" font-size="25.8" fill="#000" text-anchor="end" font-style="italic" font-weight="normal">Igsf3</text>
<text x="1496.2" y="1055.96" font-size="25.8" fill="#000" text-anchor="end" font-style="italic" font-weight="normal" letter-spacing="3.0">Ptgfrn</text>
<text x="1491.7" y="1083.99" font-size="25.8" fill="#000" text-anchor="end" font-style="italic" font-weight="normal">Kcng3</text>
<text x="1492.7" y="1112.02" font-size="25.8" fill="#000" text-anchor="end" font-style="italic" font-weight="normal">Grin3a</text>
<text x="1493.7" y="1140.05" font-size="25.8" fill="#000" text-anchor="end" font-style="italic" font-weight="normal">Npsr1</text>
<text x="1492.7" y="1168.08" font-size="25.8" fill="#000" text-anchor="end" font-style="italic" font-weight="normal">Sema6a</text>
<text x="1492.7" y="1196.11" font-size="25.8" fill="#000" text-anchor="end" font-style="italic" font-weight="normal">Atp2b4</text>
<text x="1492.7" y="1224.14" font-size="25.8" fill="#000" text-anchor="end" font-style="italic" font-weight="normal">Rcan2</text>
<text x="1492.7" y="1252.17" font-size="25.8" fill="#000" text-anchor="end" font-style="italic" font-weight="normal">AI504432</text>
<text x="1493.7" y="1280.2" font-size="25.8" fill="#000" text-anchor="end" font-style="italic" font-weight="normal">Etv1</text>
<text x="1492.7" y="1308.23" font-size="25.8" fill="#000" text-anchor="end" font-style="italic" font-weight="normal">Reln</text>
<text x="1491.7" y="1336.26" font-size="25.8" fill="#000" text-anchor="end" font-style="italic" font-weight="normal">Car10</text>
<text x="1492.7" y="1364.29" font-size="25.8" fill="#000" text-anchor="end" font-style="italic" font-weight="normal">Sema3c</text>
<text x="1492.7" y="1392.32" font-size="25.8" fill="#000" text-anchor="end" font-style="italic" font-weight="normal">Stxbp6</text>
<text x="1492.7" y="1420.35" font-size="25.8" fill="#000" text-anchor="end" font-style="italic" font-weight="normal">Gpr26</text>
<text x="1493.7" y="1448.38" font-size="25.8" fill="#000" text-anchor="end" font-style="italic" font-weight="normal">Nrip1</text>
<text x="1492.7" y="1476.41" font-size="25.8" fill="#000" text-anchor="end" font-style="italic" font-weight="normal">Ildr2</text>
<text x="1491.7" y="1504.44" font-size="25.8" fill="#000" text-anchor="end" font-style="italic" font-weight="normal">Vat1l</text>
<text x="1492.7" y="1532.47" font-size="25.8" fill="#000" text-anchor="end" font-style="italic" font-weight="normal">Satb2</text>
<text x="1492.7" y="1560.5" font-size="25.8" fill="#000" text-anchor="end" font-style="italic" font-weight="normal">Plcb4</text>
<text x="1493.7" y="1588.53" font-size="25.8" fill="#000" text-anchor="end" font-style="italic" font-weight="normal">Chl1</text>
<text x="1492.7" y="1616.56" font-size="25.8" fill="#000" text-anchor="end" font-style="italic" font-weight="normal">Slc24a2</text>
<text x="1492.7" y="1644.59" font-size="25.8" fill="#000" text-anchor="end" font-style="italic" font-weight="normal">Alcam</text>
<text x="1492.7" y="1672.62" font-size="25.8" fill="#000" text-anchor="end" font-style="italic" font-weight="normal">Gfra2</text>
<text x="1491.7" y="1700.65" font-size="25.8" fill="#000" text-anchor="end" font-style="italic" font-weight="normal">6330403A02Rik</text>
<text x="1493.7" y="1728.68" font-size="25.8" fill="#000" text-anchor="end" font-style="italic" font-weight="normal">Ddah1</text>
<text x="1493.7" y="1756.71" font-size="25.8" fill="#000" text-anchor="end" font-style="italic" font-weight="normal">Lypd1</text>
<text x="1492.7" y="1784.74" font-size="25.8" fill="#000" text-anchor="end" font-style="italic" font-weight="normal">Rorb</text>
<text x="1493.7" y="1812.77" font-size="25.8" fill="#000" text-anchor="end" font-style="italic" font-weight="normal">Necab1</text>
<text x="1492.7" y="1840.8" font-size="25.8" fill="#000" text-anchor="end" font-style="italic" font-weight="normal">Ndst4</text>
<text x="1492.7" y="1868.83" font-size="25.8" fill="#000" text-anchor="end" font-style="italic" font-weight="normal">St6galnac5</text>
<text x="1491.7" y="1896.86" font-size="25.8" fill="#000" text-anchor="end" font-style="italic" font-weight="normal">Bmp3</text>
<text x="1491.7" y="1924.89" font-size="25.8" fill="#000" text-anchor="end" font-style="italic" font-weight="normal">Rgs8</text>
<text x="1492.7" y="1952.92" font-size="25.8" fill="#000" text-anchor="end" font-style="italic" font-weight="normal">Rgs5</text>
<text x="1493.7" y="1980.95" font-size="25.8" fill="#000" text-anchor="end" font-style="italic" font-weight="normal">Plp1</text>
<text x="1492.7" y="2008.98" font-size="25.8" fill="#000" text-anchor="end" font-style="italic" font-weight="normal">Trpc6</text>
<rect x="2048" y="980" width="30.6" height="245.9" fill="url(#gbwr)"/>
<text x="2119" y="980" font-size="41" fill="#000" text-anchor="end" font-style="normal" font-weight="normal">2</text>
<text x="2119" y="1257.3" font-size="41" fill="#000" text-anchor="end" font-style="normal" font-weight="normal">-2</text>
<text transform="translate(2032.5,1101.5) rotate(-90)" font-size="42" fill="#000" text-anchor="middle" font-style="italic">z-score</text>
</svg></body></html>
